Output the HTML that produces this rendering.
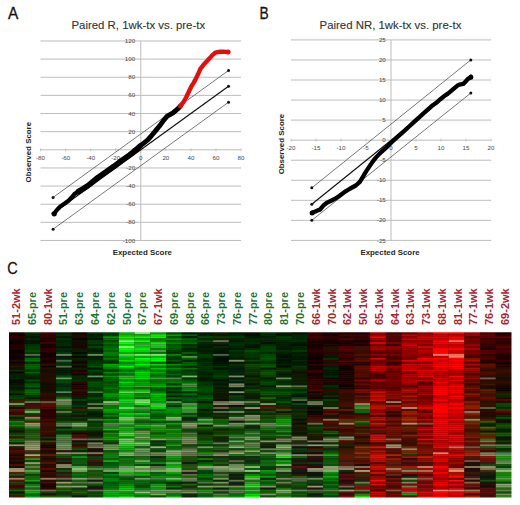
<!DOCTYPE html><html><head><meta charset="utf-8"><style>html,body{margin:0;padding:0;background:#fff;width:520px;height:505px;overflow:hidden}svg{display:block}text{font-family:"Liberation Sans",sans-serif}</style></head><body>
<svg width="520" height="505" viewBox="0 0 520 505">
<rect width="520" height="505" fill="#fff"/>
<g>
<line x1="40.5" y1="40.98" x2="241" y2="40.98" stroke="#bdbdbd" stroke-width="1"/>
<line x1="40.5" y1="59.12" x2="241" y2="59.12" stroke="#bdbdbd" stroke-width="1"/>
<line x1="40.5" y1="77.26" x2="241" y2="77.26" stroke="#bdbdbd" stroke-width="1"/>
<line x1="40.5" y1="95.39" x2="241" y2="95.39" stroke="#bdbdbd" stroke-width="1"/>
<line x1="40.5" y1="113.53" x2="241" y2="113.53" stroke="#bdbdbd" stroke-width="1"/>
<line x1="40.5" y1="131.66" x2="241" y2="131.66" stroke="#bdbdbd" stroke-width="1"/>
<line x1="40.5" y1="149.80" x2="241" y2="149.80" stroke="#bdbdbd" stroke-width="1"/>
<line x1="40.5" y1="167.94" x2="241" y2="167.94" stroke="#bdbdbd" stroke-width="1"/>
<line x1="40.5" y1="186.07" x2="241" y2="186.07" stroke="#bdbdbd" stroke-width="1"/>
<line x1="40.5" y1="204.21" x2="241" y2="204.21" stroke="#bdbdbd" stroke-width="1"/>
<line x1="40.5" y1="222.34" x2="241" y2="222.34" stroke="#bdbdbd" stroke-width="1"/>
<line x1="40.5" y1="240.48" x2="241" y2="240.48" stroke="#bdbdbd" stroke-width="1"/>
<line x1="140.80" y1="40.98" x2="140.80" y2="240.48" stroke="#bdbdbd" stroke-width="1"/>
<line x1="40.55" y1="148.30" x2="40.55" y2="151.30" stroke="#bdbdbd" stroke-width="0.8"/>
<text x="40.55" y="160.10" font-size="6.2" fill="#474747" text-anchor="middle">-80</text>
<line x1="65.61" y1="148.30" x2="65.61" y2="151.30" stroke="#bdbdbd" stroke-width="0.8"/>
<text x="65.61" y="160.10" font-size="6.2" fill="#474747" text-anchor="middle">-60</text>
<line x1="90.68" y1="148.30" x2="90.68" y2="151.30" stroke="#bdbdbd" stroke-width="0.8"/>
<text x="90.68" y="160.10" font-size="6.2" fill="#474747" text-anchor="middle">-40</text>
<line x1="115.74" y1="148.30" x2="115.74" y2="151.30" stroke="#bdbdbd" stroke-width="0.8"/>
<text x="115.74" y="160.10" font-size="6.2" fill="#474747" text-anchor="middle">-20</text>
<line x1="140.80" y1="148.30" x2="140.80" y2="151.30" stroke="#bdbdbd" stroke-width="0.8"/>
<text x="140.80" y="160.10" font-size="6.2" fill="#474747" text-anchor="middle">0</text>
<line x1="165.86" y1="148.30" x2="165.86" y2="151.30" stroke="#bdbdbd" stroke-width="0.8"/>
<text x="165.86" y="160.10" font-size="6.2" fill="#474747" text-anchor="middle">20</text>
<line x1="190.92" y1="148.30" x2="190.92" y2="151.30" stroke="#bdbdbd" stroke-width="0.8"/>
<text x="190.92" y="160.10" font-size="6.2" fill="#474747" text-anchor="middle">40</text>
<line x1="215.99" y1="148.30" x2="215.99" y2="151.30" stroke="#bdbdbd" stroke-width="0.8"/>
<text x="215.99" y="160.10" font-size="6.2" fill="#474747" text-anchor="middle">60</text>
<line x1="241.05" y1="148.30" x2="241.05" y2="151.30" stroke="#bdbdbd" stroke-width="0.8"/>
<text x="241.05" y="160.10" font-size="6.2" fill="#474747" text-anchor="middle">80</text>
<text x="135.2" y="43.08" font-size="6.2" fill="#474747" text-anchor="end">120</text>
<text x="135.2" y="61.22" font-size="6.2" fill="#474747" text-anchor="end">100</text>
<text x="135.2" y="79.36" font-size="6.2" fill="#474747" text-anchor="end">80</text>
<text x="135.2" y="97.49" font-size="6.2" fill="#474747" text-anchor="end">60</text>
<text x="135.2" y="115.63" font-size="6.2" fill="#474747" text-anchor="end">40</text>
<text x="135.2" y="133.76" font-size="6.2" fill="#474747" text-anchor="end">20</text>
<text x="135.2" y="151.90" font-size="6.2" fill="#474747" text-anchor="end">0</text>
<text x="135.2" y="170.04" font-size="6.2" fill="#474747" text-anchor="end">-20</text>
<text x="135.2" y="188.17" font-size="6.2" fill="#474747" text-anchor="end">-40</text>
<text x="135.2" y="206.31" font-size="6.2" fill="#474747" text-anchor="end">-60</text>
<text x="135.2" y="224.44" font-size="6.2" fill="#474747" text-anchor="end">-80</text>
<text x="135.2" y="242.58" font-size="6.2" fill="#474747" text-anchor="end">-100</text>
<text x="138.3" y="29.2" font-size="11.4" fill="#333" stroke="#333" stroke-width="0.12" text-anchor="middle">Paired R, 1wk-tx vs. pre-tx</text>
<text x="142.3" y="255.2" font-size="7.9" font-weight="bold" fill="#262626" text-anchor="middle">Expected Score</text>
<text transform="translate(30.6,152.2) rotate(-90)" x="0" y="0" font-size="7.9" font-weight="bold" fill="#262626" text-anchor="middle">Observed Score</text>
<line x1="53.08" y1="197.41" x2="228.52" y2="70.46" stroke="#555" stroke-width="0.8"/>
<circle cx="53.08" cy="197.41" r="1.5" fill="#111"/><circle cx="228.52" cy="70.46" r="1.5" fill="#111"/>
<line x1="53.08" y1="213.28" x2="228.52" y2="86.32" stroke="#111" stroke-width="1.2"/>
<circle cx="53.08" cy="213.28" r="1.5" fill="#111"/><circle cx="228.52" cy="86.32" r="1.5" fill="#111"/>
<line x1="53.08" y1="229.15" x2="228.52" y2="102.19" stroke="#555" stroke-width="0.8"/>
<circle cx="53.08" cy="229.15" r="1.5" fill="#111"/><circle cx="228.52" cy="102.19" r="1.5" fill="#111"/>
<polyline points="54.0,213.7 57.1,209.7 60.3,206.5 64.3,203.8 68.2,201.0 71.4,197.8 74.6,193.9 78.5,191.5" fill="none" stroke="#000" stroke-width="4.2" stroke-linejoin="round" stroke-linecap="round"/>
<polyline points="78.5,191.5 83.3,188.7 88.0,185.7 97.9,177.5 105.8,172.0 113.8,166.4 121.7,160.5 129.6,155.0 135.1,150.6 139.9,146.2" fill="none" stroke="#000" stroke-width="5.6" stroke-linejoin="round" stroke-linecap="round"/>
<polyline points="139.9,146.2 143.8,143.1 147.8,139.9 151.8,135.3 155.7,130.6 159.7,125.8 163.6,120.3 167.2,116.2 170.5,114.3 173.3,112.7 176.0,110.3 178.5,108.2 180.8,105.6" fill="none" stroke="#000" stroke-width="4.9" stroke-linejoin="round" stroke-linecap="round"/>
<circle cx="54.2" cy="213.8" r="2.6" fill="#000"/>
<polyline points="180.3,106.2 183.4,102.2 186.1,97.5 188.8,91.8 191.3,86.5 193.6,82.8 195.8,78.9 198.0,74.3 200.4,68.8 203.5,64.8 206.6,61.5 209.8,58.1 212.6,54.9 215.3,52.7 219.3,51.8 223.3,51.6 228.0,52.1" fill="none" stroke="#e01010" stroke-width="4.4" stroke-linejoin="round" stroke-linecap="round"/>
<circle cx="228.1" cy="52.1" r="2.5" fill="#e01010"/>
</g>
<text transform="translate(7.9,19.4) scale(0.92,1)" font-size="16.8" fill="#111" stroke="#111" stroke-width="0.3">A</text>
<text transform="translate(259.6,18.9) scale(0.8,1)" font-size="17.2" fill="#111" stroke="#111" stroke-width="0.3">B</text>
<line x1="291" y1="39.90" x2="491.2" y2="39.90" stroke="#bdbdbd" stroke-width="1"/>
<line x1="291" y1="59.95" x2="491.2" y2="59.95" stroke="#bdbdbd" stroke-width="1"/>
<line x1="291" y1="80.00" x2="491.2" y2="80.00" stroke="#bdbdbd" stroke-width="1"/>
<line x1="291" y1="100.05" x2="491.2" y2="100.05" stroke="#bdbdbd" stroke-width="1"/>
<line x1="291" y1="120.10" x2="491.2" y2="120.10" stroke="#bdbdbd" stroke-width="1"/>
<line x1="291" y1="140.15" x2="491.2" y2="140.15" stroke="#bdbdbd" stroke-width="1"/>
<line x1="291" y1="160.20" x2="491.2" y2="160.20" stroke="#bdbdbd" stroke-width="1"/>
<line x1="291" y1="180.25" x2="491.2" y2="180.25" stroke="#bdbdbd" stroke-width="1"/>
<line x1="291" y1="200.30" x2="491.2" y2="200.30" stroke="#bdbdbd" stroke-width="1"/>
<line x1="291" y1="220.35" x2="491.2" y2="220.35" stroke="#bdbdbd" stroke-width="1"/>
<line x1="291" y1="240.40" x2="491.2" y2="240.40" stroke="#bdbdbd" stroke-width="1"/>
<line x1="391.00" y1="39.90" x2="391.00" y2="240.40" stroke="#bdbdbd" stroke-width="1"/>
<line x1="291.00" y1="138.65" x2="291.00" y2="141.65" stroke="#bdbdbd" stroke-width="0.8"/>
<text x="291.00" y="150.45" font-size="6.2" fill="#474747" text-anchor="middle">-20</text>
<line x1="316.00" y1="138.65" x2="316.00" y2="141.65" stroke="#bdbdbd" stroke-width="0.8"/>
<text x="316.00" y="150.45" font-size="6.2" fill="#474747" text-anchor="middle">-15</text>
<line x1="341.00" y1="138.65" x2="341.00" y2="141.65" stroke="#bdbdbd" stroke-width="0.8"/>
<text x="341.00" y="150.45" font-size="6.2" fill="#474747" text-anchor="middle">-10</text>
<line x1="366.00" y1="138.65" x2="366.00" y2="141.65" stroke="#bdbdbd" stroke-width="0.8"/>
<text x="366.00" y="150.45" font-size="6.2" fill="#474747" text-anchor="middle">-5</text>
<line x1="391.00" y1="138.65" x2="391.00" y2="141.65" stroke="#bdbdbd" stroke-width="0.8"/>
<text x="391.00" y="150.45" font-size="6.2" fill="#474747" text-anchor="middle">0</text>
<line x1="416.00" y1="138.65" x2="416.00" y2="141.65" stroke="#bdbdbd" stroke-width="0.8"/>
<text x="416.00" y="150.45" font-size="6.2" fill="#474747" text-anchor="middle">5</text>
<line x1="441.00" y1="138.65" x2="441.00" y2="141.65" stroke="#bdbdbd" stroke-width="0.8"/>
<text x="441.00" y="150.45" font-size="6.2" fill="#474747" text-anchor="middle">10</text>
<line x1="466.00" y1="138.65" x2="466.00" y2="141.65" stroke="#bdbdbd" stroke-width="0.8"/>
<text x="466.00" y="150.45" font-size="6.2" fill="#474747" text-anchor="middle">15</text>
<line x1="491.00" y1="138.65" x2="491.00" y2="141.65" stroke="#bdbdbd" stroke-width="0.8"/>
<text x="491.00" y="150.45" font-size="6.2" fill="#474747" text-anchor="middle">20</text>
<text x="385.8" y="42.00" font-size="6.2" fill="#474747" text-anchor="end">25</text>
<text x="385.8" y="62.05" font-size="6.2" fill="#474747" text-anchor="end">20</text>
<text x="385.8" y="82.10" font-size="6.2" fill="#474747" text-anchor="end">15</text>
<text x="385.8" y="102.15" font-size="6.2" fill="#474747" text-anchor="end">10</text>
<text x="385.8" y="122.20" font-size="6.2" fill="#474747" text-anchor="end">5</text>
<text x="385.8" y="142.25" font-size="6.2" fill="#474747" text-anchor="end">0</text>
<text x="385.8" y="162.30" font-size="6.2" fill="#474747" text-anchor="end">-5</text>
<text x="385.8" y="182.35" font-size="6.2" fill="#474747" text-anchor="end">-10</text>
<text x="385.8" y="202.40" font-size="6.2" fill="#474747" text-anchor="end">-15</text>
<text x="385.8" y="222.45" font-size="6.2" fill="#474747" text-anchor="end">-20</text>
<text x="385.8" y="242.50" font-size="6.2" fill="#474747" text-anchor="end">-25</text>
<text x="390.5" y="28.8" font-size="11.4" fill="#333" stroke="#333" stroke-width="0.12" text-anchor="middle">Paired NR, 1wk-tx vs. pre-tx</text>
<text x="390" y="254.5" font-size="7.9" font-weight="bold" fill="#262626" text-anchor="middle">Expected Score</text>
<text transform="translate(284.3,144.1) rotate(-90)" x="0" y="0" font-size="7.9" font-weight="bold" fill="#262626" text-anchor="middle">Observed Score</text>
<line x1="311.80" y1="187.87" x2="470.80" y2="59.95" stroke="#555" stroke-width="0.8"/>
<circle cx="311.80" cy="187.87" r="1.5" fill="#111"/><circle cx="470.80" cy="59.95" r="1.5" fill="#111"/>
<line x1="311.80" y1="204.31" x2="470.80" y2="75.99" stroke="#111" stroke-width="1.2"/>
<circle cx="311.80" cy="204.31" r="1.5" fill="#111"/><circle cx="470.80" cy="75.99" r="1.5" fill="#111"/>
<line x1="311.80" y1="220.35" x2="470.80" y2="93.03" stroke="#555" stroke-width="0.8"/>
<circle cx="311.80" cy="220.35" r="1.5" fill="#111"/><circle cx="470.80" cy="93.03" r="1.5" fill="#111"/>
<polyline points="312.1,212.7 315.3,211.5 317.7,210.3 320.0,209.7 321.6,207.7 324.0,204.9 327.2,202.6 331.1,200.7 335.1,198.7 339.9,195.5 344.7,191.9 350.3,188.5 355.8,185.5 359.8,181.9 363.0,176.6 366.1,171.4 369.3,166.6 372.5,161.9 375.6,157.9 379.6,153.6 385.9,147.9 391.9,142.0 397.8,136.6 403.8,131.3 409.1,126.5 415.8,120.3 423.8,113.2 431.7,106.1 436.0,103.1 440.0,99.5 443.9,96.3 447.9,93.6 451.8,90.4 455.0,87.6 457.8,85.3 460.6,84.3 463.3,83.9 465.7,81.5 467.7,79.1 469.7,77.9 470.9,76.9" fill="none" stroke="#000" stroke-width="4.3" stroke-linejoin="round" stroke-linecap="round"/>
<circle cx="312.1" cy="212.9" r="2.5" fill="#000"/><circle cx="470.8" cy="77.2" r="2.5" fill="#000"/>
<text transform="translate(7.2,273.7) scale(0.83,1)" font-size="17.4" fill="#111" stroke="#111" stroke-width="0.3">C</text>
<text transform="translate(20.15,325) rotate(-90)" font-size="11" font-weight="bold" fill="#a8252e">51-2wk</text>
<text transform="translate(35.92,325) rotate(-90)" font-size="11" font-weight="bold" fill="#1f7331">65-pre</text>
<text transform="translate(51.69,325) rotate(-90)" font-size="11" font-weight="bold" fill="#a8252e">80-1wk</text>
<text transform="translate(67.45,325) rotate(-90)" font-size="11" font-weight="bold" fill="#1f7331">51-pre</text>
<text transform="translate(83.22,325) rotate(-90)" font-size="11" font-weight="bold" fill="#1f7331">63-pre</text>
<text transform="translate(98.99,325) rotate(-90)" font-size="11" font-weight="bold" fill="#1f7331">64-pre</text>
<text transform="translate(114.76,325) rotate(-90)" font-size="11" font-weight="bold" fill="#1f7331">62-pre</text>
<text transform="translate(130.53,325) rotate(-90)" font-size="11" font-weight="bold" fill="#1f7331">50-pre</text>
<text transform="translate(146.29,325) rotate(-90)" font-size="11" font-weight="bold" fill="#1f7331">67-pre</text>
<text transform="translate(162.06,325) rotate(-90)" font-size="11" font-weight="bold" fill="#a8252e">67-1wk</text>
<text transform="translate(177.83,325) rotate(-90)" font-size="11" font-weight="bold" fill="#1f7331">69-pre</text>
<text transform="translate(193.60,325) rotate(-90)" font-size="11" font-weight="bold" fill="#1f7331">68-pre</text>
<text transform="translate(209.36,325) rotate(-90)" font-size="11" font-weight="bold" fill="#1f7331">66-pre</text>
<text transform="translate(225.13,325) rotate(-90)" font-size="11" font-weight="bold" fill="#1f7331">73-pre</text>
<text transform="translate(240.90,325) rotate(-90)" font-size="11" font-weight="bold" fill="#1f7331">76-pre</text>
<text transform="translate(256.67,325) rotate(-90)" font-size="11" font-weight="bold" fill="#1f7331">77-pre</text>
<text transform="translate(272.43,325) rotate(-90)" font-size="11" font-weight="bold" fill="#1f7331">80-pre</text>
<text transform="translate(288.20,325) rotate(-90)" font-size="11" font-weight="bold" fill="#1f7331">81-pre</text>
<text transform="translate(303.97,325) rotate(-90)" font-size="11" font-weight="bold" fill="#1f7331">70-pre</text>
<text transform="translate(319.74,325) rotate(-90)" font-size="11" font-weight="bold" fill="#a8252e">66-1wk</text>
<text transform="translate(335.50,325) rotate(-90)" font-size="11" font-weight="bold" fill="#a8252e">70-1wk</text>
<text transform="translate(351.27,325) rotate(-90)" font-size="11" font-weight="bold" fill="#a8252e">62-1wk</text>
<text transform="translate(367.04,325) rotate(-90)" font-size="11" font-weight="bold" fill="#a8252e">50-1wk</text>
<text transform="translate(382.81,325) rotate(-90)" font-size="11" font-weight="bold" fill="#a8252e">65-1wk</text>
<text transform="translate(398.57,325) rotate(-90)" font-size="11" font-weight="bold" fill="#a8252e">64-1wk</text>
<text transform="translate(414.34,325) rotate(-90)" font-size="11" font-weight="bold" fill="#a8252e">63-1wk</text>
<text transform="translate(430.11,325) rotate(-90)" font-size="11" font-weight="bold" fill="#a8252e">73-1wk</text>
<text transform="translate(445.88,325) rotate(-90)" font-size="11" font-weight="bold" fill="#a8252e">68-1wk</text>
<text transform="translate(461.65,325) rotate(-90)" font-size="11" font-weight="bold" fill="#a8252e">81-1wk</text>
<text transform="translate(477.41,325) rotate(-90)" font-size="11" font-weight="bold" fill="#a8252e">77-1wk</text>
<text transform="translate(493.18,325) rotate(-90)" font-size="11" font-weight="bold" fill="#a8252e">76-1wk</text>
<text transform="translate(508.95,325) rotate(-90)" font-size="11" font-weight="bold" fill="#a8252e">69-2wk</text>
<defs><filter id="hb" x="-2%" y="-2%" width="104%" height="104%"><feGaussianBlur stdDeviation="0.35 0.45"/></filter><clipPath id="hc"><rect x="9" y="332.30" width="502.50" height="165.20"/></clipPath></defs>
<g clip-path="url(#hc)"><g filter="url(#hb)">
<rect x="7" y="330.30" width="506.50" height="169.20" fill="#201808"/>
<rect x="7.00" y="330.30" width="17.75" height="4.02" fill="#220103"/>
<rect x="7.00" y="334.27" width="17.75" height="2.02" fill="#170103"/>
<rect x="7.00" y="336.23" width="17.75" height="2.02" fill="#2e0103"/>
<rect x="7.00" y="338.20" width="17.75" height="2.02" fill="#270103"/>
<rect x="7.00" y="340.17" width="17.75" height="2.02" fill="#170103"/>
<rect x="7.00" y="342.13" width="17.75" height="2.02" fill="#0d0103"/>
<rect x="7.00" y="344.10" width="17.75" height="2.02" fill="#230203"/>
<rect x="7.00" y="346.07" width="17.75" height="2.02" fill="#230203"/>
<rect x="7.00" y="348.03" width="17.75" height="2.02" fill="#270303"/>
<rect x="7.00" y="350.00" width="17.75" height="2.02" fill="#0b0103"/>
<rect x="7.00" y="351.97" width="17.75" height="2.02" fill="#0f0203"/>
<rect x="7.00" y="353.93" width="17.75" height="2.02" fill="#1b0303"/>
<rect x="7.00" y="355.90" width="17.75" height="2.02" fill="#090203"/>
<rect x="7.00" y="357.87" width="17.75" height="2.02" fill="#110403"/>
<rect x="7.00" y="359.83" width="17.75" height="2.02" fill="#1f0803"/>
<rect x="7.00" y="361.80" width="17.75" height="2.02" fill="#100603"/>
<rect x="7.00" y="363.77" width="17.75" height="2.02" fill="#190a03"/>
<rect x="7.00" y="365.73" width="17.75" height="2.02" fill="#281303"/>
<rect x="7.00" y="367.70" width="17.75" height="2.02" fill="#120a03"/>
<rect x="7.00" y="369.67" width="17.75" height="2.02" fill="#043203"/>
<rect x="7.00" y="371.63" width="17.75" height="2.02" fill="#110303"/>
<rect x="7.00" y="373.60" width="17.75" height="2.02" fill="#042103"/>
<rect x="7.00" y="375.57" width="17.75" height="2.02" fill="#042103"/>
<rect x="7.00" y="377.53" width="17.75" height="2.02" fill="#042604"/>
<rect x="7.00" y="379.50" width="17.75" height="2.02" fill="#031104"/>
<rect x="7.00" y="381.47" width="17.75" height="2.02" fill="#031104"/>
<rect x="7.00" y="383.43" width="17.75" height="2.02" fill="#141104"/>
<rect x="7.00" y="385.40" width="17.75" height="2.02" fill="#032304"/>
<rect x="7.00" y="387.37" width="17.75" height="2.02" fill="#031504"/>
<rect x="7.00" y="389.33" width="17.75" height="2.02" fill="#102404"/>
<rect x="7.00" y="391.30" width="17.75" height="2.02" fill="#043b04"/>
<rect x="7.00" y="393.27" width="17.75" height="2.02" fill="#041904"/>
<rect x="7.00" y="395.23" width="17.75" height="2.02" fill="#053804"/>
<rect x="7.00" y="397.20" width="17.75" height="2.02" fill="#064604"/>
<rect x="7.00" y="399.17" width="17.75" height="2.02" fill="#530705"/>
<rect x="7.00" y="401.13" width="17.75" height="2.02" fill="#073e05"/>
<rect x="7.00" y="403.10" width="17.75" height="2.02" fill="#938967"/>
<rect x="7.00" y="405.07" width="17.75" height="2.02" fill="#0f3c05"/>
<rect x="7.00" y="407.03" width="17.75" height="2.02" fill="#310605"/>
<rect x="7.00" y="409.00" width="17.75" height="2.02" fill="#491a05"/>
<rect x="7.00" y="410.97" width="17.75" height="2.02" fill="#4a0705"/>
<rect x="7.00" y="412.93" width="17.75" height="2.02" fill="#350705"/>
<rect x="7.00" y="414.90" width="17.75" height="2.02" fill="#085105"/>
<rect x="7.00" y="416.87" width="17.75" height="2.02" fill="#1a1905"/>
<rect x="7.00" y="418.83" width="17.75" height="2.02" fill="#083705"/>
<rect x="7.00" y="420.80" width="17.75" height="2.02" fill="#088705"/>
<rect x="7.00" y="422.77" width="17.75" height="2.02" fill="#086105"/>
<rect x="7.00" y="424.73" width="17.75" height="2.02" fill="#088505"/>
<rect x="7.00" y="426.70" width="17.75" height="2.02" fill="#2c3705"/>
<rect x="7.00" y="428.67" width="17.75" height="2.02" fill="#0e3305"/>
<rect x="7.00" y="430.63" width="17.75" height="2.02" fill="#081905"/>
<rect x="7.00" y="432.60" width="17.75" height="2.02" fill="#083c05"/>
<rect x="7.00" y="434.57" width="17.75" height="2.02" fill="#086005"/>
<rect x="7.00" y="436.53" width="17.75" height="2.02" fill="#440805"/>
<rect x="7.00" y="438.50" width="17.75" height="2.02" fill="#087005"/>
<rect x="7.00" y="440.47" width="17.75" height="2.02" fill="#087205"/>
<rect x="7.00" y="442.43" width="17.75" height="2.02" fill="#132405"/>
<rect x="7.00" y="444.40" width="17.75" height="2.02" fill="#9e8d6e"/>
<rect x="7.00" y="446.37" width="17.75" height="2.02" fill="#092505"/>
<rect x="7.00" y="448.33" width="17.75" height="2.02" fill="#3d0605"/>
<rect x="7.00" y="450.30" width="17.75" height="2.02" fill="#620605"/>
<rect x="7.00" y="452.27" width="17.75" height="2.02" fill="#460605"/>
<rect x="7.00" y="454.23" width="17.75" height="2.02" fill="#200505"/>
<rect x="7.00" y="456.20" width="17.75" height="2.02" fill="#3b0605"/>
<rect x="7.00" y="458.17" width="17.75" height="2.02" fill="#160e05"/>
<rect x="7.00" y="460.13" width="17.75" height="2.02" fill="#340605"/>
<rect x="7.00" y="462.10" width="17.75" height="2.02" fill="#0c1006"/>
<rect x="7.00" y="464.07" width="17.75" height="2.02" fill="#530706"/>
<rect x="7.00" y="466.03" width="17.75" height="2.02" fill="#190d06"/>
<rect x="7.00" y="468.00" width="17.75" height="2.02" fill="#959169"/>
<rect x="7.00" y="469.97" width="17.75" height="2.02" fill="#a6976f"/>
<rect x="7.00" y="471.93" width="17.75" height="2.02" fill="#601507"/>
<rect x="7.00" y="473.90" width="17.75" height="2.02" fill="#095d07"/>
<rect x="7.00" y="475.87" width="17.75" height="2.02" fill="#410907"/>
<rect x="7.00" y="477.83" width="17.75" height="2.02" fill="#8e875f"/>
<rect x="7.00" y="479.80" width="17.75" height="2.02" fill="#610907"/>
<rect x="7.00" y="481.77" width="17.75" height="2.02" fill="#094d07"/>
<rect x="7.00" y="483.73" width="17.75" height="2.02" fill="#540807"/>
<rect x="7.00" y="485.70" width="17.75" height="2.02" fill="#280806"/>
<rect x="7.00" y="487.67" width="17.75" height="2.02" fill="#2c2406"/>
<rect x="7.00" y="489.63" width="17.75" height="2.02" fill="#086606"/>
<rect x="7.00" y="491.60" width="17.75" height="2.02" fill="#1f0806"/>
<rect x="7.00" y="493.57" width="17.75" height="2.02" fill="#084406"/>
<rect x="7.00" y="495.53" width="17.75" height="4.02" fill="#560806"/>
<rect x="24.70" y="330.30" width="15.75" height="4.02" fill="#013504"/>
<rect x="24.70" y="334.27" width="15.75" height="2.02" fill="#012604"/>
<rect x="24.70" y="336.23" width="15.75" height="2.02" fill="#011804"/>
<rect x="24.70" y="338.20" width="15.75" height="2.02" fill="#012b04"/>
<rect x="24.70" y="340.17" width="15.75" height="2.02" fill="#011604"/>
<rect x="24.70" y="342.13" width="15.75" height="2.02" fill="#011905"/>
<rect x="24.70" y="344.10" width="15.75" height="2.02" fill="#023005"/>
<rect x="24.70" y="346.07" width="15.75" height="2.02" fill="#023b05"/>
<rect x="24.70" y="348.03" width="15.75" height="2.02" fill="#033b06"/>
<rect x="24.70" y="350.00" width="15.75" height="2.02" fill="#034c06"/>
<rect x="24.70" y="351.97" width="15.75" height="2.02" fill="#043406"/>
<rect x="24.70" y="353.93" width="15.75" height="2.02" fill="#526942"/>
<rect x="24.70" y="355.90" width="15.75" height="2.02" fill="#042b07"/>
<rect x="24.70" y="357.87" width="15.75" height="2.02" fill="#046907"/>
<rect x="24.70" y="359.83" width="15.75" height="2.02" fill="#047707"/>
<rect x="24.70" y="361.80" width="15.75" height="2.02" fill="#042106"/>
<rect x="24.70" y="363.77" width="15.75" height="2.02" fill="#036206"/>
<rect x="24.70" y="365.73" width="15.75" height="2.02" fill="#036906"/>
<rect x="24.70" y="367.70" width="15.75" height="2.02" fill="#035b05"/>
<rect x="24.70" y="369.67" width="15.75" height="2.02" fill="#033505"/>
<rect x="24.70" y="371.63" width="15.75" height="2.02" fill="#026205"/>
<rect x="24.70" y="373.60" width="15.75" height="2.02" fill="#022d05"/>
<rect x="24.70" y="375.57" width="15.75" height="2.02" fill="#022505"/>
<rect x="24.70" y="377.53" width="15.75" height="2.02" fill="#021f05"/>
<rect x="24.70" y="379.50" width="15.75" height="2.02" fill="#034b05"/>
<rect x="24.70" y="381.47" width="15.75" height="2.02" fill="#032a05"/>
<rect x="24.70" y="383.43" width="15.75" height="2.02" fill="#035405"/>
<rect x="24.70" y="385.40" width="15.75" height="2.02" fill="#035f05"/>
<rect x="24.70" y="387.37" width="15.75" height="2.02" fill="#032b05"/>
<rect x="24.70" y="389.33" width="15.75" height="2.02" fill="#036906"/>
<rect x="24.70" y="391.30" width="15.75" height="2.02" fill="#086c06"/>
<rect x="24.70" y="393.27" width="15.75" height="2.02" fill="#0c5906"/>
<rect x="24.70" y="395.23" width="15.75" height="2.02" fill="#0b3606"/>
<rect x="24.70" y="397.20" width="15.75" height="2.02" fill="#091f06"/>
<rect x="24.70" y="399.17" width="15.75" height="2.02" fill="#133b06"/>
<rect x="24.70" y="401.13" width="15.75" height="2.02" fill="#68704e"/>
<rect x="24.70" y="403.10" width="15.75" height="2.02" fill="#3f0b07"/>
<rect x="24.70" y="405.07" width="15.75" height="2.02" fill="#480b07"/>
<rect x="24.70" y="407.03" width="15.75" height="2.02" fill="#3d1507"/>
<rect x="24.70" y="409.00" width="15.75" height="2.02" fill="#087e07"/>
<rect x="24.70" y="410.97" width="15.75" height="2.02" fill="#8da16e"/>
<rect x="24.70" y="412.93" width="15.75" height="2.02" fill="#084708"/>
<rect x="24.70" y="414.90" width="15.75" height="2.02" fill="#570c08"/>
<rect x="24.70" y="416.87" width="15.75" height="2.02" fill="#848e66"/>
<rect x="24.70" y="418.83" width="15.75" height="2.02" fill="#097608"/>
<rect x="24.70" y="420.80" width="15.75" height="2.02" fill="#640d08"/>
<rect x="24.70" y="422.77" width="15.75" height="2.02" fill="#80a765"/>
<rect x="24.70" y="424.73" width="15.75" height="2.02" fill="#8b8e66"/>
<rect x="24.70" y="426.70" width="15.75" height="2.02" fill="#099809"/>
<rect x="24.70" y="428.67" width="15.75" height="2.02" fill="#205109"/>
<rect x="24.70" y="430.63" width="15.75" height="2.02" fill="#1d4a09"/>
<rect x="24.70" y="432.60" width="15.75" height="2.02" fill="#205809"/>
<rect x="24.70" y="434.57" width="15.75" height="2.02" fill="#246a09"/>
<rect x="24.70" y="436.53" width="15.75" height="2.02" fill="#206609"/>
<rect x="24.70" y="438.50" width="15.75" height="2.02" fill="#1c5e09"/>
<rect x="24.70" y="440.47" width="15.75" height="2.02" fill="#7b8157"/>
<rect x="24.70" y="442.43" width="15.75" height="2.02" fill="#6b8755"/>
<rect x="24.70" y="444.40" width="15.75" height="2.02" fill="#959d73"/>
<rect x="24.70" y="446.37" width="15.75" height="2.02" fill="#8c9e6b"/>
<rect x="24.70" y="448.33" width="15.75" height="2.02" fill="#8aa972"/>
<rect x="24.70" y="450.30" width="15.75" height="2.02" fill="#76120e"/>
<rect x="24.70" y="452.27" width="15.75" height="2.02" fill="#0f420f"/>
<rect x="24.70" y="454.23" width="15.75" height="2.02" fill="#a3ac70"/>
<rect x="24.70" y="456.20" width="15.75" height="2.02" fill="#881510"/>
<rect x="24.70" y="458.17" width="15.75" height="2.02" fill="#0fa20f"/>
<rect x="24.70" y="460.13" width="15.75" height="2.02" fill="#1e3f0f"/>
<rect x="24.70" y="462.10" width="15.75" height="2.02" fill="#84a267"/>
<rect x="24.70" y="464.07" width="15.75" height="2.02" fill="#25620e"/>
<rect x="24.70" y="466.03" width="15.75" height="2.02" fill="#6a744d"/>
<rect x="24.70" y="468.00" width="15.75" height="2.02" fill="#1f5e0d"/>
<rect x="24.70" y="469.97" width="15.75" height="2.02" fill="#639752"/>
<rect x="24.70" y="471.93" width="15.75" height="2.02" fill="#207e0c"/>
<rect x="24.70" y="473.90" width="15.75" height="2.02" fill="#113e0b"/>
<rect x="24.70" y="475.87" width="15.75" height="2.02" fill="#156a0b"/>
<rect x="24.70" y="477.83" width="15.75" height="2.02" fill="#12670a"/>
<rect x="24.70" y="479.80" width="15.75" height="2.02" fill="#14a10a"/>
<rect x="24.70" y="481.77" width="15.75" height="2.02" fill="#0a320a"/>
<rect x="24.70" y="483.73" width="15.75" height="2.02" fill="#0b7a09"/>
<rect x="24.70" y="485.70" width="15.75" height="2.02" fill="#528c49"/>
<rect x="24.70" y="487.67" width="15.75" height="2.02" fill="#076c09"/>
<rect x="24.70" y="489.63" width="15.75" height="2.02" fill="#639653"/>
<rect x="24.70" y="491.60" width="15.75" height="2.02" fill="#06b109"/>
<rect x="24.70" y="493.57" width="15.75" height="2.02" fill="#066509"/>
<rect x="24.70" y="495.53" width="15.75" height="4.02" fill="#069309"/>
<rect x="40.41" y="330.30" width="15.75" height="4.02" fill="#4c0103"/>
<rect x="40.41" y="334.27" width="15.75" height="2.02" fill="#380103"/>
<rect x="40.41" y="336.23" width="15.75" height="2.02" fill="#390103"/>
<rect x="40.41" y="338.20" width="15.75" height="2.02" fill="#290103"/>
<rect x="40.41" y="340.17" width="15.75" height="2.02" fill="#1d0103"/>
<rect x="40.41" y="342.13" width="15.75" height="2.02" fill="#470103"/>
<rect x="40.41" y="344.10" width="15.75" height="2.02" fill="#1e0103"/>
<rect x="40.41" y="346.07" width="15.75" height="2.02" fill="#160103"/>
<rect x="40.41" y="348.03" width="15.75" height="2.02" fill="#310203"/>
<rect x="40.41" y="350.00" width="15.75" height="2.02" fill="#360303"/>
<rect x="40.41" y="351.97" width="15.75" height="2.02" fill="#120203"/>
<rect x="40.41" y="353.93" width="15.75" height="2.02" fill="#180203"/>
<rect x="40.41" y="355.90" width="15.75" height="2.02" fill="#150203"/>
<rect x="40.41" y="357.87" width="15.75" height="2.02" fill="#280503"/>
<rect x="40.41" y="359.83" width="15.75" height="2.02" fill="#170403"/>
<rect x="40.41" y="361.80" width="15.75" height="2.02" fill="#140503"/>
<rect x="40.41" y="363.77" width="15.75" height="2.02" fill="#2c0b03"/>
<rect x="40.41" y="365.73" width="15.75" height="2.02" fill="#0c0403"/>
<rect x="40.41" y="367.70" width="15.75" height="2.02" fill="#230c03"/>
<rect x="40.41" y="369.67" width="15.75" height="2.02" fill="#1e0b03"/>
<rect x="40.41" y="371.63" width="15.75" height="2.02" fill="#1d0c03"/>
<rect x="40.41" y="373.60" width="15.75" height="2.02" fill="#240f03"/>
<rect x="40.41" y="375.57" width="15.75" height="2.02" fill="#1d0c03"/>
<rect x="40.41" y="377.53" width="15.75" height="2.02" fill="#261003"/>
<rect x="40.41" y="379.50" width="15.75" height="2.02" fill="#230f03"/>
<rect x="40.41" y="381.47" width="15.75" height="2.02" fill="#1d0c03"/>
<rect x="40.41" y="383.43" width="15.75" height="2.02" fill="#100703"/>
<rect x="40.41" y="385.40" width="15.75" height="2.02" fill="#150903"/>
<rect x="40.41" y="387.37" width="15.75" height="2.02" fill="#190b03"/>
<rect x="40.41" y="389.33" width="15.75" height="2.02" fill="#100703"/>
<rect x="40.41" y="391.30" width="15.75" height="2.02" fill="#210b03"/>
<rect x="40.41" y="393.27" width="15.75" height="2.02" fill="#360f04"/>
<rect x="40.41" y="395.23" width="15.75" height="2.02" fill="#2b0a04"/>
<rect x="40.41" y="397.20" width="15.75" height="2.02" fill="#200704"/>
<rect x="40.41" y="399.17" width="15.75" height="2.02" fill="#310804"/>
<rect x="40.41" y="401.13" width="15.75" height="2.02" fill="#5f5c46"/>
<rect x="40.41" y="403.10" width="15.75" height="2.02" fill="#610a05"/>
<rect x="40.41" y="405.07" width="15.75" height="2.02" fill="#520705"/>
<rect x="40.41" y="407.03" width="15.75" height="2.02" fill="#480705"/>
<rect x="40.41" y="409.00" width="15.75" height="2.02" fill="#260405"/>
<rect x="40.41" y="410.97" width="15.75" height="2.02" fill="#2d0505"/>
<rect x="40.41" y="412.93" width="15.75" height="2.02" fill="#330504"/>
<rect x="40.41" y="414.90" width="15.75" height="2.02" fill="#280504"/>
<rect x="40.41" y="416.87" width="15.75" height="2.02" fill="#370604"/>
<rect x="40.41" y="418.83" width="15.75" height="2.02" fill="#400704"/>
<rect x="40.41" y="420.80" width="15.75" height="2.02" fill="#390604"/>
<rect x="40.41" y="422.77" width="15.75" height="2.02" fill="#4a0904"/>
<rect x="40.41" y="424.73" width="15.75" height="2.02" fill="#430b04"/>
<rect x="40.41" y="426.70" width="15.75" height="2.02" fill="#330b04"/>
<rect x="40.41" y="428.67" width="15.75" height="2.02" fill="#360f04"/>
<rect x="40.41" y="430.63" width="15.75" height="2.02" fill="#391304"/>
<rect x="40.41" y="432.60" width="15.75" height="2.02" fill="#440405"/>
<rect x="40.41" y="434.57" width="15.75" height="2.02" fill="#320405"/>
<rect x="40.41" y="436.53" width="15.75" height="2.02" fill="#083905"/>
<rect x="40.41" y="438.50" width="15.75" height="2.02" fill="#2e0505"/>
<rect x="40.41" y="440.47" width="15.75" height="2.02" fill="#085905"/>
<rect x="40.41" y="442.43" width="15.75" height="2.02" fill="#490505"/>
<rect x="40.41" y="444.40" width="15.75" height="2.02" fill="#1f0505"/>
<rect x="40.41" y="446.37" width="15.75" height="2.02" fill="#180505"/>
<rect x="40.41" y="448.33" width="15.75" height="2.02" fill="#570506"/>
<rect x="40.41" y="450.30" width="15.75" height="2.02" fill="#140906"/>
<rect x="40.41" y="452.27" width="15.75" height="2.02" fill="#250e06"/>
<rect x="40.41" y="454.23" width="15.75" height="2.02" fill="#611d06"/>
<rect x="40.41" y="456.20" width="15.75" height="2.02" fill="#2c0d06"/>
<rect x="40.41" y="458.17" width="15.75" height="2.02" fill="#1f0a06"/>
<rect x="40.41" y="460.13" width="15.75" height="2.02" fill="#330d06"/>
<rect x="40.41" y="462.10" width="15.75" height="2.02" fill="#521206"/>
<rect x="40.41" y="464.07" width="15.75" height="2.02" fill="#210806"/>
<rect x="40.41" y="466.03" width="15.75" height="2.02" fill="#220806"/>
<rect x="40.41" y="468.00" width="15.75" height="2.02" fill="#550f06"/>
<rect x="40.41" y="469.97" width="15.75" height="2.02" fill="#240706"/>
<rect x="40.41" y="471.93" width="15.75" height="2.02" fill="#3d0a06"/>
<rect x="40.41" y="473.90" width="15.75" height="2.02" fill="#2c0a06"/>
<rect x="40.41" y="475.87" width="15.75" height="2.02" fill="#280b06"/>
<rect x="40.41" y="477.83" width="15.75" height="2.02" fill="#9a725f"/>
<rect x="40.41" y="479.80" width="15.75" height="2.02" fill="#280e06"/>
<rect x="40.41" y="481.77" width="15.75" height="2.02" fill="#3a1606"/>
<rect x="40.41" y="483.73" width="15.75" height="2.02" fill="#200606"/>
<rect x="40.41" y="485.70" width="15.75" height="2.02" fill="#1a0606"/>
<rect x="40.41" y="487.67" width="15.75" height="2.02" fill="#1e0706"/>
<rect x="40.41" y="489.63" width="15.75" height="2.02" fill="#80634d"/>
<rect x="40.41" y="491.60" width="15.75" height="2.02" fill="#094606"/>
<rect x="40.41" y="493.57" width="15.75" height="2.02" fill="#260706"/>
<rect x="40.41" y="495.53" width="15.75" height="4.02" fill="#096906"/>
<rect x="56.11" y="330.30" width="15.75" height="4.02" fill="#022804"/>
<rect x="56.11" y="334.27" width="15.75" height="2.02" fill="#023604"/>
<rect x="56.11" y="336.23" width="15.75" height="2.02" fill="#021e04"/>
<rect x="56.11" y="338.20" width="15.75" height="2.02" fill="#023504"/>
<rect x="56.11" y="340.17" width="15.75" height="2.02" fill="#022704"/>
<rect x="56.11" y="342.13" width="15.75" height="2.02" fill="#022905"/>
<rect x="56.11" y="344.10" width="15.75" height="2.02" fill="#032d05"/>
<rect x="56.11" y="346.07" width="15.75" height="2.02" fill="#031906"/>
<rect x="56.11" y="348.03" width="15.75" height="2.02" fill="#042a06"/>
<rect x="56.11" y="350.00" width="15.75" height="2.02" fill="#042007"/>
<rect x="56.11" y="351.97" width="15.75" height="2.02" fill="#053507"/>
<rect x="56.11" y="353.93" width="15.75" height="2.02" fill="#6a7e5b"/>
<rect x="56.11" y="355.90" width="15.75" height="2.02" fill="#061d08"/>
<rect x="56.11" y="357.87" width="15.75" height="2.02" fill="#062208"/>
<rect x="56.11" y="359.83" width="15.75" height="2.02" fill="#4e6745"/>
<rect x="56.11" y="361.80" width="15.75" height="2.02" fill="#053408"/>
<rect x="56.11" y="363.77" width="15.75" height="2.02" fill="#052e08"/>
<rect x="56.11" y="365.73" width="15.75" height="2.02" fill="#5e684a"/>
<rect x="56.11" y="367.70" width="15.75" height="2.02" fill="#041b07"/>
<rect x="56.11" y="369.67" width="15.75" height="2.02" fill="#041507"/>
<rect x="56.11" y="371.63" width="15.75" height="2.02" fill="#041806"/>
<rect x="56.11" y="373.60" width="15.75" height="2.02" fill="#042506"/>
<rect x="56.11" y="375.57" width="15.75" height="2.02" fill="#044f06"/>
<rect x="56.11" y="377.53" width="15.75" height="2.02" fill="#729463"/>
<rect x="56.11" y="379.50" width="15.75" height="2.02" fill="#044507"/>
<rect x="56.11" y="381.47" width="15.75" height="2.02" fill="#044b07"/>
<rect x="56.11" y="383.43" width="15.75" height="2.02" fill="#042807"/>
<rect x="56.11" y="385.40" width="15.75" height="2.02" fill="#042b07"/>
<rect x="56.11" y="387.37" width="15.75" height="2.02" fill="#043c07"/>
<rect x="56.11" y="389.33" width="15.75" height="2.02" fill="#053607"/>
<rect x="56.11" y="391.30" width="15.75" height="2.02" fill="#5f8053"/>
<rect x="56.11" y="393.27" width="15.75" height="2.02" fill="#082408"/>
<rect x="56.11" y="395.23" width="15.75" height="2.02" fill="#0b3909"/>
<rect x="56.11" y="397.20" width="15.75" height="2.02" fill="#146609"/>
<rect x="56.11" y="399.17" width="15.75" height="2.02" fill="#8a8f6d"/>
<rect x="56.11" y="401.13" width="15.75" height="2.02" fill="#657c55"/>
<rect x="56.11" y="403.10" width="15.75" height="2.02" fill="#6a7e57"/>
<rect x="56.11" y="405.07" width="15.75" height="2.02" fill="#26660b"/>
<rect x="56.11" y="407.03" width="15.75" height="2.02" fill="#1e540b"/>
<rect x="56.11" y="409.00" width="15.75" height="2.02" fill="#13350b"/>
<rect x="56.11" y="410.97" width="15.75" height="2.02" fill="#5b7547"/>
<rect x="56.11" y="412.93" width="15.75" height="2.02" fill="#0e370a"/>
<rect x="56.11" y="414.90" width="15.75" height="2.02" fill="#0a2509"/>
<rect x="56.11" y="416.87" width="15.75" height="2.02" fill="#092e08"/>
<rect x="56.11" y="418.83" width="15.75" height="2.02" fill="#072908"/>
<rect x="56.11" y="420.80" width="15.75" height="2.02" fill="#065607"/>
<rect x="56.11" y="422.77" width="15.75" height="2.02" fill="#547b47"/>
<rect x="56.11" y="424.73" width="15.75" height="2.02" fill="#618253"/>
<rect x="56.11" y="426.70" width="15.75" height="2.02" fill="#052407"/>
<rect x="56.11" y="428.67" width="15.75" height="2.02" fill="#055f08"/>
<rect x="56.11" y="430.63" width="15.75" height="2.02" fill="#053308"/>
<rect x="56.11" y="432.60" width="15.75" height="2.02" fill="#053108"/>
<rect x="56.11" y="434.57" width="15.75" height="2.02" fill="#069c08"/>
<rect x="56.11" y="436.53" width="15.75" height="2.02" fill="#5a834c"/>
<rect x="56.11" y="438.50" width="15.75" height="2.02" fill="#4e7d44"/>
<rect x="56.11" y="440.47" width="15.75" height="2.02" fill="#5c734a"/>
<rect x="56.11" y="442.43" width="15.75" height="2.02" fill="#5b874f"/>
<rect x="56.11" y="444.40" width="15.75" height="2.02" fill="#6fa560"/>
<rect x="56.11" y="446.37" width="15.75" height="2.02" fill="#678e58"/>
<rect x="56.11" y="448.33" width="15.75" height="2.02" fill="#728c5e"/>
<rect x="56.11" y="450.30" width="15.75" height="2.02" fill="#39100e"/>
<rect x="56.11" y="452.27" width="15.75" height="2.02" fill="#948868"/>
<rect x="56.11" y="454.23" width="15.75" height="2.02" fill="#106010"/>
<rect x="56.11" y="456.20" width="15.75" height="2.02" fill="#104810"/>
<rect x="56.11" y="458.17" width="15.75" height="2.02" fill="#371010"/>
<rect x="56.11" y="460.13" width="15.75" height="2.02" fill="#153010"/>
<rect x="56.11" y="462.10" width="15.75" height="2.02" fill="#2a1010"/>
<rect x="56.11" y="464.07" width="15.75" height="2.02" fill="#848263"/>
<rect x="56.11" y="466.03" width="15.75" height="2.02" fill="#8d7f63"/>
<rect x="56.11" y="468.00" width="15.75" height="2.02" fill="#0f3010"/>
<rect x="56.11" y="469.97" width="15.75" height="2.02" fill="#165110"/>
<rect x="56.11" y="471.93" width="15.75" height="2.02" fill="#3a1110"/>
<rect x="56.11" y="473.90" width="15.75" height="2.02" fill="#0f3d10"/>
<rect x="56.11" y="475.87" width="15.75" height="2.02" fill="#481110"/>
<rect x="56.11" y="477.83" width="15.75" height="2.02" fill="#676a4d"/>
<rect x="56.11" y="479.80" width="15.75" height="2.02" fill="#16280f"/>
<rect x="56.11" y="481.77" width="15.75" height="2.02" fill="#979972"/>
<rect x="56.11" y="483.73" width="15.75" height="2.02" fill="#21520f"/>
<rect x="56.11" y="485.70" width="15.75" height="2.02" fill="#90986a"/>
<rect x="56.11" y="487.67" width="15.75" height="2.02" fill="#1c4c0f"/>
<rect x="56.11" y="489.63" width="15.75" height="2.02" fill="#22650f"/>
<rect x="56.11" y="491.60" width="15.75" height="2.02" fill="#152f0f"/>
<rect x="56.11" y="493.57" width="15.75" height="2.02" fill="#16320f"/>
<rect x="56.11" y="495.53" width="15.75" height="4.02" fill="#215e0f"/>
<rect x="71.81" y="330.30" width="15.75" height="4.02" fill="#090303"/>
<rect x="71.81" y="334.27" width="15.75" height="2.02" fill="#130703"/>
<rect x="71.81" y="336.23" width="15.75" height="2.02" fill="#1e0b03"/>
<rect x="71.81" y="338.20" width="15.75" height="2.02" fill="#090303"/>
<rect x="71.81" y="340.17" width="15.75" height="2.02" fill="#150903"/>
<rect x="71.81" y="342.13" width="15.75" height="2.02" fill="#0c0804"/>
<rect x="71.81" y="344.10" width="15.75" height="2.02" fill="#0d0b04"/>
<rect x="71.81" y="346.07" width="15.75" height="2.02" fill="#230304"/>
<rect x="71.81" y="348.03" width="15.75" height="2.02" fill="#111904"/>
<rect x="71.81" y="350.00" width="15.75" height="2.02" fill="#0f1c04"/>
<rect x="71.81" y="351.97" width="15.75" height="2.02" fill="#060c04"/>
<rect x="71.81" y="353.93" width="15.75" height="2.02" fill="#0c2605"/>
<rect x="71.81" y="355.90" width="15.75" height="2.02" fill="#050f05"/>
<rect x="71.81" y="357.87" width="15.75" height="2.02" fill="#0c2205"/>
<rect x="71.81" y="359.83" width="15.75" height="2.02" fill="#0a1505"/>
<rect x="71.81" y="361.80" width="15.75" height="2.02" fill="#190505"/>
<rect x="71.81" y="363.77" width="15.75" height="2.02" fill="#042104"/>
<rect x="71.81" y="365.73" width="15.75" height="2.02" fill="#1b0504"/>
<rect x="71.81" y="367.70" width="15.75" height="2.02" fill="#052404"/>
<rect x="71.81" y="369.67" width="15.75" height="2.02" fill="#210404"/>
<rect x="71.81" y="371.63" width="15.75" height="2.02" fill="#350404"/>
<rect x="71.81" y="373.60" width="15.75" height="2.02" fill="#051104"/>
<rect x="71.81" y="375.57" width="15.75" height="2.02" fill="#052a04"/>
<rect x="71.81" y="377.53" width="15.75" height="2.02" fill="#052304"/>
<rect x="71.81" y="379.50" width="15.75" height="2.02" fill="#063204"/>
<rect x="71.81" y="381.47" width="15.75" height="2.02" fill="#3b0404"/>
<rect x="71.81" y="383.43" width="15.75" height="2.02" fill="#0e0405"/>
<rect x="71.81" y="385.40" width="15.75" height="2.02" fill="#300405"/>
<rect x="71.81" y="387.37" width="15.75" height="2.02" fill="#1c0405"/>
<rect x="71.81" y="389.33" width="15.75" height="2.02" fill="#2c1305"/>
<rect x="71.81" y="391.30" width="15.75" height="2.02" fill="#2b0405"/>
<rect x="71.81" y="393.27" width="15.75" height="2.02" fill="#220505"/>
<rect x="71.81" y="395.23" width="15.75" height="2.02" fill="#0c1606"/>
<rect x="71.81" y="397.20" width="15.75" height="2.02" fill="#062006"/>
<rect x="71.81" y="399.17" width="15.75" height="2.02" fill="#063f06"/>
<rect x="71.81" y="401.13" width="15.75" height="2.02" fill="#0c1606"/>
<rect x="71.81" y="403.10" width="15.75" height="2.02" fill="#062707"/>
<rect x="71.81" y="405.07" width="15.75" height="2.02" fill="#063a07"/>
<rect x="71.81" y="407.03" width="15.75" height="2.02" fill="#370807"/>
<rect x="71.81" y="409.00" width="15.75" height="2.02" fill="#123207"/>
<rect x="71.81" y="410.97" width="15.75" height="2.02" fill="#0c2507"/>
<rect x="71.81" y="412.93" width="15.75" height="2.02" fill="#0c3107"/>
<rect x="71.81" y="414.90" width="15.75" height="2.02" fill="#071607"/>
<rect x="71.81" y="416.87" width="15.75" height="2.02" fill="#083607"/>
<rect x="71.81" y="418.83" width="15.75" height="2.02" fill="#062607"/>
<rect x="71.81" y="420.80" width="15.75" height="2.02" fill="#065307"/>
<rect x="71.81" y="422.77" width="15.75" height="2.02" fill="#71a764"/>
<rect x="71.81" y="424.73" width="15.75" height="2.02" fill="#91a370"/>
<rect x="71.81" y="426.70" width="15.75" height="2.02" fill="#066b06"/>
<rect x="71.81" y="428.67" width="15.75" height="2.02" fill="#066906"/>
<rect x="71.81" y="430.63" width="15.75" height="2.02" fill="#340706"/>
<rect x="71.81" y="432.60" width="15.75" height="2.02" fill="#180605"/>
<rect x="71.81" y="434.57" width="15.75" height="2.02" fill="#610505"/>
<rect x="71.81" y="436.53" width="15.75" height="2.02" fill="#441204"/>
<rect x="71.81" y="438.50" width="15.75" height="2.02" fill="#7d5b4f"/>
<rect x="71.81" y="440.47" width="15.75" height="2.02" fill="#1a0805"/>
<rect x="71.81" y="442.43" width="15.75" height="2.02" fill="#0f3305"/>
<rect x="71.81" y="444.40" width="15.75" height="2.02" fill="#251006"/>
<rect x="71.81" y="446.37" width="15.75" height="2.02" fill="#640906"/>
<rect x="71.81" y="448.33" width="15.75" height="2.02" fill="#075807"/>
<rect x="71.81" y="450.30" width="15.75" height="2.02" fill="#0d2207"/>
<rect x="71.81" y="452.27" width="15.75" height="2.02" fill="#739957"/>
<rect x="71.81" y="454.23" width="15.75" height="2.02" fill="#094608"/>
<rect x="71.81" y="456.20" width="15.75" height="2.02" fill="#069a09"/>
<rect x="71.81" y="458.17" width="15.75" height="2.02" fill="#075509"/>
<rect x="71.81" y="460.13" width="15.75" height="2.02" fill="#075d09"/>
<rect x="71.81" y="462.10" width="15.75" height="2.02" fill="#075d0a"/>
<rect x="71.81" y="464.07" width="15.75" height="2.02" fill="#084d0a"/>
<rect x="71.81" y="466.03" width="15.75" height="2.02" fill="#5b9e4f"/>
<rect x="71.81" y="468.00" width="15.75" height="2.02" fill="#81c46d"/>
<rect x="71.81" y="469.97" width="15.75" height="2.02" fill="#7b9c68"/>
<rect x="71.81" y="471.93" width="15.75" height="2.02" fill="#09600c"/>
<rect x="71.81" y="473.90" width="15.75" height="2.02" fill="#0b6e0b"/>
<rect x="71.81" y="475.87" width="15.75" height="2.02" fill="#0c590b"/>
<rect x="71.81" y="477.83" width="15.75" height="2.02" fill="#909d6f"/>
<rect x="71.81" y="479.80" width="15.75" height="2.02" fill="#125f0b"/>
<rect x="71.81" y="481.77" width="15.75" height="2.02" fill="#587448"/>
<rect x="71.81" y="483.73" width="15.75" height="2.02" fill="#16520a"/>
<rect x="71.81" y="485.70" width="15.75" height="2.02" fill="#8ca26f"/>
<rect x="71.81" y="487.67" width="15.75" height="2.02" fill="#15330a"/>
<rect x="71.81" y="489.63" width="15.75" height="2.02" fill="#1d490a"/>
<rect x="71.81" y="491.60" width="15.75" height="2.02" fill="#26620a"/>
<rect x="71.81" y="493.57" width="15.75" height="2.02" fill="#1a3e0a"/>
<rect x="71.81" y="495.53" width="15.75" height="4.02" fill="#0f1e0a"/>
<rect x="87.52" y="330.30" width="15.75" height="4.02" fill="#013504"/>
<rect x="87.52" y="334.27" width="15.75" height="2.02" fill="#011d04"/>
<rect x="87.52" y="336.23" width="15.75" height="2.02" fill="#012c04"/>
<rect x="87.52" y="338.20" width="15.75" height="2.02" fill="#011a04"/>
<rect x="87.52" y="340.17" width="15.75" height="2.02" fill="#013b04"/>
<rect x="87.52" y="342.13" width="15.75" height="2.02" fill="#013c04"/>
<rect x="87.52" y="344.10" width="15.75" height="2.02" fill="#012704"/>
<rect x="87.52" y="346.07" width="15.75" height="2.02" fill="#014704"/>
<rect x="87.52" y="348.03" width="15.75" height="2.02" fill="#012704"/>
<rect x="87.52" y="350.00" width="15.75" height="2.02" fill="#011a05"/>
<rect x="87.52" y="351.97" width="15.75" height="2.02" fill="#012905"/>
<rect x="87.52" y="353.93" width="15.75" height="2.02" fill="#678659"/>
<rect x="87.52" y="355.90" width="15.75" height="2.02" fill="#011d05"/>
<rect x="87.52" y="357.87" width="15.75" height="2.02" fill="#022205"/>
<rect x="87.52" y="359.83" width="15.75" height="2.02" fill="#023105"/>
<rect x="87.52" y="361.80" width="15.75" height="2.02" fill="#023b05"/>
<rect x="87.52" y="363.77" width="15.75" height="2.02" fill="#023c05"/>
<rect x="87.52" y="365.73" width="15.75" height="2.02" fill="#025605"/>
<rect x="87.52" y="367.70" width="15.75" height="2.02" fill="#021505"/>
<rect x="87.52" y="369.67" width="15.75" height="2.02" fill="#024605"/>
<rect x="87.52" y="371.63" width="15.75" height="2.02" fill="#023005"/>
<rect x="87.52" y="373.60" width="15.75" height="2.02" fill="#022205"/>
<rect x="87.52" y="375.57" width="15.75" height="2.02" fill="#67925d"/>
<rect x="87.52" y="377.53" width="15.75" height="2.02" fill="#021a05"/>
<rect x="87.52" y="379.50" width="15.75" height="2.02" fill="#023305"/>
<rect x="87.52" y="381.47" width="15.75" height="2.02" fill="#025405"/>
<rect x="87.52" y="383.43" width="15.75" height="2.02" fill="#024c05"/>
<rect x="87.52" y="385.40" width="15.75" height="2.02" fill="#024f05"/>
<rect x="87.52" y="387.37" width="15.75" height="2.02" fill="#023805"/>
<rect x="87.52" y="389.33" width="15.75" height="2.02" fill="#024105"/>
<rect x="87.52" y="391.30" width="15.75" height="2.02" fill="#4e6a40"/>
<rect x="87.52" y="393.27" width="15.75" height="2.02" fill="#022905"/>
<rect x="87.52" y="395.23" width="15.75" height="2.02" fill="#032d05"/>
<rect x="87.52" y="397.20" width="15.75" height="2.02" fill="#034e06"/>
<rect x="87.52" y="399.17" width="15.75" height="2.02" fill="#042f06"/>
<rect x="87.52" y="401.13" width="15.75" height="2.02" fill="#063606"/>
<rect x="87.52" y="403.10" width="15.75" height="2.02" fill="#657251"/>
<rect x="87.52" y="405.07" width="15.75" height="2.02" fill="#092b06"/>
<rect x="87.52" y="407.03" width="15.75" height="2.02" fill="#677e58"/>
<rect x="87.52" y="409.00" width="15.75" height="2.02" fill="#0b4506"/>
<rect x="87.52" y="410.97" width="15.75" height="2.02" fill="#072806"/>
<rect x="87.52" y="412.93" width="15.75" height="2.02" fill="#051606"/>
<rect x="87.52" y="414.90" width="15.75" height="2.02" fill="#052406"/>
<rect x="87.52" y="416.87" width="15.75" height="2.02" fill="#053906"/>
<rect x="87.52" y="418.83" width="15.75" height="2.02" fill="#506641"/>
<rect x="87.52" y="420.80" width="15.75" height="2.02" fill="#043806"/>
<rect x="87.52" y="422.77" width="15.75" height="2.02" fill="#034906"/>
<rect x="87.52" y="424.73" width="15.75" height="2.02" fill="#053c06"/>
<rect x="87.52" y="426.70" width="15.75" height="2.02" fill="#075806"/>
<rect x="87.52" y="428.67" width="15.75" height="2.02" fill="#084606"/>
<rect x="87.52" y="430.63" width="15.75" height="2.02" fill="#062107"/>
<rect x="87.52" y="432.60" width="15.75" height="2.02" fill="#061607"/>
<rect x="87.52" y="434.57" width="15.75" height="2.02" fill="#071707"/>
<rect x="87.52" y="436.53" width="15.75" height="2.02" fill="#0c3108"/>
<rect x="87.52" y="438.50" width="15.75" height="2.02" fill="#596946"/>
<rect x="87.52" y="440.47" width="15.75" height="2.02" fill="#0b1908"/>
<rect x="87.52" y="442.43" width="15.75" height="2.02" fill="#74815b"/>
<rect x="87.52" y="444.40" width="15.75" height="2.02" fill="#5e5943"/>
<rect x="87.52" y="446.37" width="15.75" height="2.02" fill="#6e835a"/>
<rect x="87.52" y="448.33" width="15.75" height="2.02" fill="#1b0909"/>
<rect x="87.52" y="450.30" width="15.75" height="2.02" fill="#240909"/>
<rect x="87.52" y="452.27" width="15.75" height="2.02" fill="#7f7c5e"/>
<rect x="87.52" y="454.23" width="15.75" height="2.02" fill="#31090a"/>
<rect x="87.52" y="456.20" width="15.75" height="2.02" fill="#0a410a"/>
<rect x="87.52" y="458.17" width="15.75" height="2.02" fill="#0a410a"/>
<rect x="87.52" y="460.13" width="15.75" height="2.02" fill="#570b0a"/>
<rect x="87.52" y="462.10" width="15.75" height="2.02" fill="#0b210b"/>
<rect x="87.52" y="464.07" width="15.75" height="2.02" fill="#410c0b"/>
<rect x="87.52" y="466.03" width="15.75" height="2.02" fill="#0a700b"/>
<rect x="87.52" y="468.00" width="15.75" height="2.02" fill="#617f4f"/>
<rect x="87.52" y="469.97" width="15.75" height="2.02" fill="#1d4c0b"/>
<rect x="87.52" y="471.93" width="15.75" height="2.02" fill="#1d580c"/>
<rect x="87.52" y="473.90" width="15.75" height="2.02" fill="#1c4e0c"/>
<rect x="87.52" y="475.87" width="15.75" height="2.02" fill="#20590c"/>
<rect x="87.52" y="477.83" width="15.75" height="2.02" fill="#627750"/>
<rect x="87.52" y="479.80" width="15.75" height="2.02" fill="#11220c"/>
<rect x="87.52" y="481.77" width="15.75" height="2.02" fill="#707052"/>
<rect x="87.52" y="483.73" width="15.75" height="2.02" fill="#0a5a0c"/>
<rect x="87.52" y="485.70" width="15.75" height="2.02" fill="#201b0c"/>
<rect x="87.52" y="487.67" width="15.75" height="2.02" fill="#0a1a0c"/>
<rect x="87.52" y="489.63" width="15.75" height="2.02" fill="#6f6950"/>
<rect x="87.52" y="491.60" width="15.75" height="2.02" fill="#0a420c"/>
<rect x="87.52" y="493.57" width="15.75" height="2.02" fill="#0a4f0c"/>
<rect x="87.52" y="495.53" width="15.75" height="4.02" fill="#163f0c"/>
<rect x="103.22" y="330.30" width="15.75" height="4.02" fill="#024006"/>
<rect x="103.22" y="334.27" width="15.75" height="2.02" fill="#023e06"/>
<rect x="103.22" y="336.23" width="15.75" height="2.02" fill="#029306"/>
<rect x="103.22" y="338.20" width="15.75" height="2.02" fill="#026e06"/>
<rect x="103.22" y="340.17" width="15.75" height="2.02" fill="#024d06"/>
<rect x="103.22" y="342.13" width="15.75" height="2.02" fill="#026e06"/>
<rect x="103.22" y="344.10" width="15.75" height="2.02" fill="#025706"/>
<rect x="103.22" y="346.07" width="15.75" height="2.02" fill="#026806"/>
<rect x="103.22" y="348.03" width="15.75" height="2.02" fill="#027206"/>
<rect x="103.22" y="350.00" width="15.75" height="2.02" fill="#025e06"/>
<rect x="103.22" y="351.97" width="15.75" height="2.02" fill="#037c06"/>
<rect x="103.22" y="353.93" width="15.75" height="2.02" fill="#037b06"/>
<rect x="103.22" y="355.90" width="15.75" height="2.02" fill="#035306"/>
<rect x="103.22" y="357.87" width="15.75" height="2.02" fill="#037906"/>
<rect x="103.22" y="359.83" width="15.75" height="2.02" fill="#034106"/>
<rect x="103.22" y="361.80" width="15.75" height="2.02" fill="#033206"/>
<rect x="103.22" y="363.77" width="15.75" height="2.02" fill="#03ac06"/>
<rect x="103.22" y="365.73" width="15.75" height="2.02" fill="#039f06"/>
<rect x="103.22" y="367.70" width="15.75" height="2.02" fill="#027706"/>
<rect x="103.22" y="369.67" width="15.75" height="2.02" fill="#023b06"/>
<rect x="103.22" y="371.63" width="15.75" height="2.02" fill="#028906"/>
<rect x="103.22" y="373.60" width="15.75" height="2.02" fill="#024e06"/>
<rect x="103.22" y="375.57" width="15.75" height="2.02" fill="#028d06"/>
<rect x="103.22" y="377.53" width="15.75" height="2.02" fill="#026206"/>
<rect x="103.22" y="379.50" width="15.75" height="2.02" fill="#036206"/>
<rect x="103.22" y="381.47" width="15.75" height="2.02" fill="#034a06"/>
<rect x="103.22" y="383.43" width="15.75" height="2.02" fill="#036006"/>
<rect x="103.22" y="385.40" width="15.75" height="2.02" fill="#035806"/>
<rect x="103.22" y="387.37" width="15.75" height="2.02" fill="#037806"/>
<rect x="103.22" y="389.33" width="15.75" height="2.02" fill="#035e06"/>
<rect x="103.22" y="391.30" width="15.75" height="2.02" fill="#036506"/>
<rect x="103.22" y="393.27" width="15.75" height="2.02" fill="#039e06"/>
<rect x="103.22" y="395.23" width="15.75" height="2.02" fill="#039106"/>
<rect x="103.22" y="397.20" width="15.75" height="2.02" fill="#037006"/>
<rect x="103.22" y="399.17" width="15.75" height="2.02" fill="#036106"/>
<rect x="103.22" y="401.13" width="15.75" height="2.02" fill="#8ebe6f"/>
<rect x="103.22" y="403.10" width="15.75" height="2.02" fill="#62894f"/>
<rect x="103.22" y="405.07" width="15.75" height="2.02" fill="#047d06"/>
<rect x="103.22" y="407.03" width="15.75" height="2.02" fill="#047a06"/>
<rect x="103.22" y="409.00" width="15.75" height="2.02" fill="#04a606"/>
<rect x="103.22" y="410.97" width="15.75" height="2.02" fill="#048f07"/>
<rect x="103.22" y="412.93" width="15.75" height="2.02" fill="#045907"/>
<rect x="103.22" y="414.90" width="15.75" height="2.02" fill="#048107"/>
<rect x="103.22" y="416.87" width="15.75" height="2.02" fill="#044307"/>
<rect x="103.22" y="418.83" width="15.75" height="2.02" fill="#049d07"/>
<rect x="103.22" y="420.80" width="15.75" height="2.02" fill="#046607"/>
<rect x="103.22" y="422.77" width="15.75" height="2.02" fill="#5a8a4d"/>
<rect x="103.22" y="424.73" width="15.75" height="2.02" fill="#4f7742"/>
<rect x="103.22" y="426.70" width="15.75" height="2.02" fill="#049807"/>
<rect x="103.22" y="428.67" width="15.75" height="2.02" fill="#04c607"/>
<rect x="103.22" y="430.63" width="15.75" height="2.02" fill="#044007"/>
<rect x="103.22" y="432.60" width="15.75" height="2.02" fill="#049d07"/>
<rect x="103.22" y="434.57" width="15.75" height="2.02" fill="#047907"/>
<rect x="103.22" y="436.53" width="15.75" height="2.02" fill="#04a007"/>
<rect x="103.22" y="438.50" width="15.75" height="2.02" fill="#04a407"/>
<rect x="103.22" y="440.47" width="15.75" height="2.02" fill="#045807"/>
<rect x="103.22" y="442.43" width="15.75" height="2.02" fill="#043f07"/>
<rect x="103.22" y="444.40" width="15.75" height="2.02" fill="#698d54"/>
<rect x="103.22" y="446.37" width="15.75" height="2.02" fill="#59a24a"/>
<rect x="103.22" y="448.33" width="15.75" height="2.02" fill="#6f9e60"/>
<rect x="103.22" y="450.30" width="15.75" height="2.02" fill="#045908"/>
<rect x="103.22" y="452.27" width="15.75" height="2.02" fill="#047b08"/>
<rect x="103.22" y="454.23" width="15.75" height="2.02" fill="#048708"/>
<rect x="103.22" y="456.20" width="15.75" height="2.02" fill="#058808"/>
<rect x="103.22" y="458.17" width="15.75" height="2.02" fill="#056408"/>
<rect x="103.22" y="460.13" width="15.75" height="2.02" fill="#05ae08"/>
<rect x="103.22" y="462.10" width="15.75" height="2.02" fill="#055108"/>
<rect x="103.22" y="464.07" width="15.75" height="2.02" fill="#055d08"/>
<rect x="103.22" y="466.03" width="15.75" height="2.02" fill="#057008"/>
<rect x="103.22" y="468.00" width="15.75" height="2.02" fill="#5a7e48"/>
<rect x="103.22" y="469.97" width="15.75" height="2.02" fill="#62b251"/>
<rect x="103.22" y="471.93" width="15.75" height="2.02" fill="#054708"/>
<rect x="103.22" y="473.90" width="15.75" height="2.02" fill="#058108"/>
<rect x="103.22" y="475.87" width="15.75" height="2.02" fill="#055808"/>
<rect x="103.22" y="477.83" width="15.75" height="2.02" fill="#058308"/>
<rect x="103.22" y="479.80" width="15.75" height="2.02" fill="#058308"/>
<rect x="103.22" y="481.77" width="15.75" height="2.02" fill="#055608"/>
<rect x="103.22" y="483.73" width="15.75" height="2.02" fill="#056208"/>
<rect x="103.22" y="485.70" width="15.75" height="2.02" fill="#056d08"/>
<rect x="103.22" y="487.67" width="15.75" height="2.02" fill="#057608"/>
<rect x="103.22" y="489.63" width="15.75" height="2.02" fill="#59974f"/>
<rect x="103.22" y="491.60" width="15.75" height="2.02" fill="#05bb08"/>
<rect x="103.22" y="493.57" width="15.75" height="2.02" fill="#05a708"/>
<rect x="103.22" y="495.53" width="15.75" height="4.02" fill="#05af08"/>
<rect x="118.92" y="330.30" width="15.75" height="4.02" fill="#04b007"/>
<rect x="118.92" y="334.27" width="15.75" height="2.02" fill="#04be07"/>
<rect x="118.92" y="336.23" width="15.75" height="2.02" fill="#04f507"/>
<rect x="118.92" y="338.20" width="15.75" height="2.02" fill="#04dd07"/>
<rect x="118.92" y="340.17" width="15.75" height="2.02" fill="#7afc6d"/>
<rect x="118.92" y="342.13" width="15.75" height="2.02" fill="#04ff07"/>
<rect x="118.92" y="344.10" width="15.75" height="2.02" fill="#04d807"/>
<rect x="118.92" y="346.07" width="15.75" height="2.02" fill="#7cff70"/>
<rect x="118.92" y="348.03" width="15.75" height="2.02" fill="#04ff07"/>
<rect x="118.92" y="350.00" width="15.75" height="2.02" fill="#04e607"/>
<rect x="118.92" y="351.97" width="15.75" height="2.02" fill="#04a507"/>
<rect x="118.92" y="353.93" width="15.75" height="2.02" fill="#5cd151"/>
<rect x="118.92" y="355.90" width="15.75" height="2.02" fill="#04c907"/>
<rect x="118.92" y="357.87" width="15.75" height="2.02" fill="#04aa07"/>
<rect x="118.92" y="359.83" width="15.75" height="2.02" fill="#04e307"/>
<rect x="118.92" y="361.80" width="15.75" height="2.02" fill="#048407"/>
<rect x="118.92" y="363.77" width="15.75" height="2.02" fill="#04ad07"/>
<rect x="118.92" y="365.73" width="15.75" height="2.02" fill="#04ff07"/>
<rect x="118.92" y="367.70" width="15.75" height="2.02" fill="#049b07"/>
<rect x="118.92" y="369.67" width="15.75" height="2.02" fill="#046c07"/>
<rect x="118.92" y="371.63" width="15.75" height="2.02" fill="#04a007"/>
<rect x="118.92" y="373.60" width="15.75" height="2.02" fill="#046f07"/>
<rect x="118.92" y="375.57" width="15.75" height="2.02" fill="#58954b"/>
<rect x="118.92" y="377.53" width="15.75" height="2.02" fill="#04d507"/>
<rect x="118.92" y="379.50" width="15.75" height="2.02" fill="#038e07"/>
<rect x="118.92" y="381.47" width="15.75" height="2.02" fill="#03de07"/>
<rect x="118.92" y="383.43" width="15.75" height="2.02" fill="#03a407"/>
<rect x="118.92" y="385.40" width="15.75" height="2.02" fill="#03b806"/>
<rect x="118.92" y="387.37" width="15.75" height="2.02" fill="#037906"/>
<rect x="118.92" y="389.33" width="15.75" height="2.02" fill="#03b606"/>
<rect x="118.92" y="391.30" width="15.75" height="2.02" fill="#74cb64"/>
<rect x="118.92" y="393.27" width="15.75" height="2.02" fill="#03cc06"/>
<rect x="118.92" y="395.23" width="15.75" height="2.02" fill="#03b807"/>
<rect x="118.92" y="397.20" width="15.75" height="2.02" fill="#03a007"/>
<rect x="118.92" y="399.17" width="15.75" height="2.02" fill="#03e607"/>
<rect x="118.92" y="401.13" width="15.75" height="2.02" fill="#4ea742"/>
<rect x="118.92" y="403.10" width="15.75" height="2.02" fill="#04b407"/>
<rect x="118.92" y="405.07" width="15.75" height="2.02" fill="#04b107"/>
<rect x="118.92" y="407.03" width="15.75" height="2.02" fill="#6cd661"/>
<rect x="118.92" y="409.00" width="15.75" height="2.02" fill="#04ad08"/>
<rect x="118.92" y="410.97" width="15.75" height="2.02" fill="#058b08"/>
<rect x="118.92" y="412.93" width="15.75" height="2.02" fill="#05d508"/>
<rect x="118.92" y="414.90" width="15.75" height="2.02" fill="#05a508"/>
<rect x="118.92" y="416.87" width="15.75" height="2.02" fill="#92b871"/>
<rect x="118.92" y="418.83" width="15.75" height="2.02" fill="#68d05a"/>
<rect x="118.92" y="420.80" width="15.75" height="2.02" fill="#07bb09"/>
<rect x="118.92" y="422.77" width="15.75" height="2.02" fill="#679f54"/>
<rect x="118.92" y="424.73" width="15.75" height="2.02" fill="#078309"/>
<rect x="118.92" y="426.70" width="15.75" height="2.02" fill="#07c109"/>
<rect x="118.92" y="428.67" width="15.75" height="2.02" fill="#06ad09"/>
<rect x="118.92" y="430.63" width="15.75" height="2.02" fill="#06bb09"/>
<rect x="118.92" y="432.60" width="15.75" height="2.02" fill="#81cc62"/>
<rect x="118.92" y="434.57" width="15.75" height="2.02" fill="#06f909"/>
<rect x="118.92" y="436.53" width="15.75" height="2.02" fill="#068b09"/>
<rect x="118.92" y="438.50" width="15.75" height="2.02" fill="#64de5c"/>
<rect x="118.92" y="440.47" width="15.75" height="2.02" fill="#62c856"/>
<rect x="118.92" y="442.43" width="15.75" height="2.02" fill="#5ed955"/>
<rect x="118.92" y="444.40" width="15.75" height="2.02" fill="#06ec09"/>
<rect x="118.92" y="446.37" width="15.75" height="2.02" fill="#06c409"/>
<rect x="118.92" y="448.33" width="15.75" height="2.02" fill="#06b209"/>
<rect x="118.92" y="450.30" width="15.75" height="2.02" fill="#069809"/>
<rect x="118.92" y="452.27" width="15.75" height="2.02" fill="#6bbe5c"/>
<rect x="118.92" y="454.23" width="15.75" height="2.02" fill="#7ab765"/>
<rect x="118.92" y="456.20" width="15.75" height="2.02" fill="#066109"/>
<rect x="118.92" y="458.17" width="15.75" height="2.02" fill="#068309"/>
<rect x="118.92" y="460.13" width="15.75" height="2.02" fill="#077009"/>
<rect x="118.92" y="462.10" width="15.75" height="2.02" fill="#076f09"/>
<rect x="118.92" y="464.07" width="15.75" height="2.02" fill="#077d0a"/>
<rect x="118.92" y="466.03" width="15.75" height="2.02" fill="#689254"/>
<rect x="118.92" y="468.00" width="15.75" height="2.02" fill="#76ab65"/>
<rect x="118.92" y="469.97" width="15.75" height="2.02" fill="#69b75d"/>
<rect x="118.92" y="471.93" width="15.75" height="2.02" fill="#08bc0b"/>
<rect x="118.92" y="473.90" width="15.75" height="2.02" fill="#64804f"/>
<rect x="118.92" y="475.87" width="15.75" height="2.02" fill="#08650a"/>
<rect x="118.92" y="477.83" width="15.75" height="2.02" fill="#08440a"/>
<rect x="118.92" y="479.80" width="15.75" height="2.02" fill="#086b0a"/>
<rect x="118.92" y="481.77" width="15.75" height="2.02" fill="#076a0a"/>
<rect x="118.92" y="483.73" width="15.75" height="2.02" fill="#07890a"/>
<rect x="118.92" y="485.70" width="15.75" height="2.02" fill="#07a90a"/>
<rect x="118.92" y="487.67" width="15.75" height="2.02" fill="#07c309"/>
<rect x="118.92" y="489.63" width="15.75" height="2.02" fill="#5ab64d"/>
<rect x="118.92" y="491.60" width="15.75" height="2.02" fill="#079709"/>
<rect x="118.92" y="493.57" width="15.75" height="2.02" fill="#079f09"/>
<rect x="118.92" y="495.53" width="15.75" height="4.02" fill="#07c609"/>
<rect x="134.62" y="330.30" width="15.75" height="4.02" fill="#7be56b"/>
<rect x="134.62" y="334.27" width="15.75" height="2.02" fill="#04b307"/>
<rect x="134.62" y="336.23" width="15.75" height="2.02" fill="#04ff07"/>
<rect x="134.62" y="338.20" width="15.75" height="2.02" fill="#04b307"/>
<rect x="134.62" y="340.17" width="15.75" height="2.02" fill="#04ff07"/>
<rect x="134.62" y="342.13" width="15.75" height="2.02" fill="#04b507"/>
<rect x="134.62" y="344.10" width="15.75" height="2.02" fill="#50a041"/>
<rect x="134.62" y="346.07" width="15.75" height="2.02" fill="#04ca07"/>
<rect x="134.62" y="348.03" width="15.75" height="2.02" fill="#04ec07"/>
<rect x="134.62" y="350.00" width="15.75" height="2.02" fill="#04d207"/>
<rect x="134.62" y="351.97" width="15.75" height="2.02" fill="#048f07"/>
<rect x="134.62" y="353.93" width="15.75" height="2.02" fill="#6fed5d"/>
<rect x="134.62" y="355.90" width="15.75" height="2.02" fill="#04a607"/>
<rect x="134.62" y="357.87" width="15.75" height="2.02" fill="#04ff07"/>
<rect x="134.62" y="359.83" width="15.75" height="2.02" fill="#04df07"/>
<rect x="134.62" y="361.80" width="15.75" height="2.02" fill="#04ae07"/>
<rect x="134.62" y="363.77" width="15.75" height="2.02" fill="#04f607"/>
<rect x="134.62" y="365.73" width="15.75" height="2.02" fill="#04ac07"/>
<rect x="134.62" y="367.70" width="15.75" height="2.02" fill="#047407"/>
<rect x="134.62" y="369.67" width="15.75" height="2.02" fill="#04a406"/>
<rect x="134.62" y="371.63" width="15.75" height="2.02" fill="#04e306"/>
<rect x="134.62" y="373.60" width="15.75" height="2.02" fill="#04c606"/>
<rect x="134.62" y="375.57" width="15.75" height="2.02" fill="#04cd06"/>
<rect x="134.62" y="377.53" width="15.75" height="2.02" fill="#04e106"/>
<rect x="134.62" y="379.50" width="15.75" height="2.02" fill="#048206"/>
<rect x="134.62" y="381.47" width="15.75" height="2.02" fill="#04ae06"/>
<rect x="134.62" y="383.43" width="15.75" height="2.02" fill="#049f06"/>
<rect x="134.62" y="385.40" width="15.75" height="2.02" fill="#4f9243"/>
<rect x="134.62" y="387.37" width="15.75" height="2.02" fill="#047206"/>
<rect x="134.62" y="389.33" width="15.75" height="2.02" fill="#04c006"/>
<rect x="134.62" y="391.30" width="15.75" height="2.02" fill="#78b85c"/>
<rect x="134.62" y="393.27" width="15.75" height="2.02" fill="#048907"/>
<rect x="134.62" y="395.23" width="15.75" height="2.02" fill="#059607"/>
<rect x="134.62" y="397.20" width="15.75" height="2.02" fill="#056407"/>
<rect x="134.62" y="399.17" width="15.75" height="2.02" fill="#71d660"/>
<rect x="134.62" y="401.13" width="15.75" height="2.02" fill="#80e26f"/>
<rect x="134.62" y="403.10" width="15.75" height="2.02" fill="#06f108"/>
<rect x="134.62" y="405.07" width="15.75" height="2.02" fill="#066b08"/>
<rect x="134.62" y="407.03" width="15.75" height="2.02" fill="#568d48"/>
<rect x="134.62" y="409.00" width="15.75" height="2.02" fill="#079309"/>
<rect x="134.62" y="410.97" width="15.75" height="2.02" fill="#076d0a"/>
<rect x="134.62" y="412.93" width="15.75" height="2.02" fill="#07d10a"/>
<rect x="134.62" y="414.90" width="15.75" height="2.02" fill="#08830a"/>
<rect x="134.62" y="416.87" width="15.75" height="2.02" fill="#679950"/>
<rect x="134.62" y="418.83" width="15.75" height="2.02" fill="#087f0b"/>
<rect x="134.62" y="420.80" width="15.75" height="2.02" fill="#09520b"/>
<rect x="134.62" y="422.77" width="15.75" height="2.02" fill="#097d0b"/>
<rect x="134.62" y="424.73" width="15.75" height="2.02" fill="#09c70b"/>
<rect x="134.62" y="426.70" width="15.75" height="2.02" fill="#08960b"/>
<rect x="134.62" y="428.67" width="15.75" height="2.02" fill="#08600a"/>
<rect x="134.62" y="430.63" width="15.75" height="2.02" fill="#708755"/>
<rect x="134.62" y="432.60" width="15.75" height="2.02" fill="#6da654"/>
<rect x="134.62" y="434.57" width="15.75" height="2.02" fill="#07af09"/>
<rect x="134.62" y="436.53" width="15.75" height="2.02" fill="#82aa67"/>
<rect x="134.62" y="438.50" width="15.75" height="2.02" fill="#528645"/>
<rect x="134.62" y="440.47" width="15.75" height="2.02" fill="#06a209"/>
<rect x="134.62" y="442.43" width="15.75" height="2.02" fill="#74d767"/>
<rect x="134.62" y="444.40" width="15.75" height="2.02" fill="#57af4a"/>
<rect x="134.62" y="446.37" width="15.75" height="2.02" fill="#075b0a"/>
<rect x="134.62" y="448.33" width="15.75" height="2.02" fill="#6fa260"/>
<rect x="134.62" y="450.30" width="15.75" height="2.02" fill="#56a24d"/>
<rect x="134.62" y="452.27" width="15.75" height="2.02" fill="#5c824c"/>
<rect x="134.62" y="454.23" width="15.75" height="2.02" fill="#728e5d"/>
<rect x="134.62" y="456.20" width="15.75" height="2.02" fill="#096a0b"/>
<rect x="134.62" y="458.17" width="15.75" height="2.02" fill="#09780b"/>
<rect x="134.62" y="460.13" width="15.75" height="2.02" fill="#759d5e"/>
<rect x="134.62" y="462.10" width="15.75" height="2.02" fill="#088b0b"/>
<rect x="134.62" y="464.07" width="15.75" height="2.02" fill="#08510b"/>
<rect x="134.62" y="466.03" width="15.75" height="2.02" fill="#76d068"/>
<rect x="134.62" y="468.00" width="15.75" height="2.02" fill="#718656"/>
<rect x="134.62" y="469.97" width="15.75" height="2.02" fill="#87b067"/>
<rect x="134.62" y="471.93" width="15.75" height="2.02" fill="#08930a"/>
<rect x="134.62" y="473.90" width="15.75" height="2.02" fill="#08ac0a"/>
<rect x="134.62" y="475.87" width="15.75" height="2.02" fill="#084d0a"/>
<rect x="134.62" y="477.83" width="15.75" height="2.02" fill="#75945f"/>
<rect x="134.62" y="479.80" width="15.75" height="2.02" fill="#08690b"/>
<rect x="134.62" y="481.77" width="15.75" height="2.02" fill="#08680b"/>
<rect x="134.62" y="483.73" width="15.75" height="2.02" fill="#09560b"/>
<rect x="134.62" y="485.70" width="15.75" height="2.02" fill="#09450b"/>
<rect x="134.62" y="487.67" width="15.75" height="2.02" fill="#09790b"/>
<rect x="134.62" y="489.63" width="15.75" height="2.02" fill="#4e8144"/>
<rect x="134.62" y="491.60" width="15.75" height="2.02" fill="#85d075"/>
<rect x="134.62" y="493.57" width="15.75" height="2.02" fill="#09920c"/>
<rect x="134.62" y="495.53" width="15.75" height="4.02" fill="#097c0c"/>
<rect x="150.33" y="330.30" width="15.75" height="4.02" fill="#04a107"/>
<rect x="150.33" y="334.27" width="15.75" height="2.02" fill="#04f007"/>
<rect x="150.33" y="336.23" width="15.75" height="2.02" fill="#04ff07"/>
<rect x="150.33" y="338.20" width="15.75" height="2.02" fill="#048607"/>
<rect x="150.33" y="340.17" width="15.75" height="2.02" fill="#048c07"/>
<rect x="150.33" y="342.13" width="15.75" height="2.02" fill="#04f007"/>
<rect x="150.33" y="344.10" width="15.75" height="2.02" fill="#55a443"/>
<rect x="150.33" y="346.07" width="15.75" height="2.02" fill="#04d107"/>
<rect x="150.33" y="348.03" width="15.75" height="2.02" fill="#048307"/>
<rect x="150.33" y="350.00" width="15.75" height="2.02" fill="#489941"/>
<rect x="150.33" y="351.97" width="15.75" height="2.02" fill="#047007"/>
<rect x="150.33" y="353.93" width="15.75" height="2.02" fill="#83e068"/>
<rect x="150.33" y="355.90" width="15.75" height="2.02" fill="#04b407"/>
<rect x="150.33" y="357.87" width="15.75" height="2.02" fill="#04fa07"/>
<rect x="150.33" y="359.83" width="15.75" height="2.02" fill="#04fb07"/>
<rect x="150.33" y="361.80" width="15.75" height="2.02" fill="#045307"/>
<rect x="150.33" y="363.77" width="15.75" height="2.02" fill="#04dd06"/>
<rect x="150.33" y="365.73" width="15.75" height="2.02" fill="#046f06"/>
<rect x="150.33" y="367.70" width="15.75" height="2.02" fill="#03c506"/>
<rect x="150.33" y="369.67" width="15.75" height="2.02" fill="#038006"/>
<rect x="150.33" y="371.63" width="15.75" height="2.02" fill="#03a706"/>
<rect x="150.33" y="373.60" width="15.75" height="2.02" fill="#037606"/>
<rect x="150.33" y="375.57" width="15.75" height="2.02" fill="#037c06"/>
<rect x="150.33" y="377.53" width="15.75" height="2.02" fill="#499e41"/>
<rect x="150.33" y="379.50" width="15.75" height="2.02" fill="#037406"/>
<rect x="150.33" y="381.47" width="15.75" height="2.02" fill="#037806"/>
<rect x="150.33" y="383.43" width="15.75" height="2.02" fill="#039b06"/>
<rect x="150.33" y="385.40" width="15.75" height="2.02" fill="#03b606"/>
<rect x="150.33" y="387.37" width="15.75" height="2.02" fill="#035706"/>
<rect x="150.33" y="389.33" width="15.75" height="2.02" fill="#035706"/>
<rect x="150.33" y="391.30" width="15.75" height="2.02" fill="#038006"/>
<rect x="150.33" y="393.27" width="15.75" height="2.02" fill="#03c906"/>
<rect x="150.33" y="395.23" width="15.75" height="2.02" fill="#04ae06"/>
<rect x="150.33" y="397.20" width="15.75" height="2.02" fill="#04a906"/>
<rect x="150.33" y="399.17" width="15.75" height="2.02" fill="#04b106"/>
<rect x="150.33" y="401.13" width="15.75" height="2.02" fill="#049107"/>
<rect x="150.33" y="403.10" width="15.75" height="2.02" fill="#57af4e"/>
<rect x="150.33" y="405.07" width="15.75" height="2.02" fill="#04f607"/>
<rect x="150.33" y="407.03" width="15.75" height="2.02" fill="#04c507"/>
<rect x="150.33" y="409.00" width="15.75" height="2.02" fill="#045607"/>
<rect x="150.33" y="410.97" width="15.75" height="2.02" fill="#048807"/>
<rect x="150.33" y="412.93" width="15.75" height="2.02" fill="#045f07"/>
<rect x="150.33" y="414.90" width="15.75" height="2.02" fill="#045507"/>
<rect x="150.33" y="416.87" width="15.75" height="2.02" fill="#045e07"/>
<rect x="150.33" y="418.83" width="15.75" height="2.02" fill="#04a807"/>
<rect x="150.33" y="420.80" width="15.75" height="2.02" fill="#044a07"/>
<rect x="150.33" y="422.77" width="15.75" height="2.02" fill="#048707"/>
<rect x="150.33" y="424.73" width="15.75" height="2.02" fill="#64aa52"/>
<rect x="150.33" y="426.70" width="15.75" height="2.02" fill="#04a307"/>
<rect x="150.33" y="428.67" width="15.75" height="2.02" fill="#04a407"/>
<rect x="150.33" y="430.63" width="15.75" height="2.02" fill="#048807"/>
<rect x="150.33" y="432.60" width="15.75" height="2.02" fill="#045a07"/>
<rect x="150.33" y="434.57" width="15.75" height="2.02" fill="#049107"/>
<rect x="150.33" y="436.53" width="15.75" height="2.02" fill="#049007"/>
<rect x="150.33" y="438.50" width="15.75" height="2.02" fill="#6fb161"/>
<rect x="150.33" y="440.47" width="15.75" height="2.02" fill="#053407"/>
<rect x="150.33" y="442.43" width="15.75" height="2.02" fill="#064608"/>
<rect x="150.33" y="444.40" width="15.75" height="2.02" fill="#073d08"/>
<rect x="150.33" y="446.37" width="15.75" height="2.02" fill="#7ec36c"/>
<rect x="150.33" y="448.33" width="15.75" height="2.02" fill="#095108"/>
<rect x="150.33" y="450.30" width="15.75" height="2.02" fill="#094509"/>
<rect x="150.33" y="452.27" width="15.75" height="2.02" fill="#688d4f"/>
<rect x="150.33" y="454.23" width="15.75" height="2.02" fill="#6a7c52"/>
<rect x="150.33" y="456.20" width="15.75" height="2.02" fill="#092b09"/>
<rect x="150.33" y="458.17" width="15.75" height="2.02" fill="#0b4709"/>
<rect x="150.33" y="460.13" width="15.75" height="2.02" fill="#0a4d09"/>
<rect x="150.33" y="462.10" width="15.75" height="2.02" fill="#0c8509"/>
<rect x="150.33" y="464.07" width="15.75" height="2.02" fill="#082e09"/>
<rect x="150.33" y="466.03" width="15.75" height="2.02" fill="#537246"/>
<rect x="150.33" y="468.00" width="15.75" height="2.02" fill="#608749"/>
<rect x="150.33" y="469.97" width="15.75" height="2.02" fill="#80a966"/>
<rect x="150.33" y="471.93" width="15.75" height="2.02" fill="#065f09"/>
<rect x="150.33" y="473.90" width="15.75" height="2.02" fill="#066e09"/>
<rect x="150.33" y="475.87" width="15.75" height="2.02" fill="#069409"/>
<rect x="150.33" y="477.83" width="15.75" height="2.02" fill="#5b6e46"/>
<rect x="150.33" y="479.80" width="15.75" height="2.02" fill="#066809"/>
<rect x="150.33" y="481.77" width="15.75" height="2.02" fill="#064609"/>
<rect x="150.33" y="483.73" width="15.75" height="2.02" fill="#07a009"/>
<rect x="150.33" y="485.70" width="15.75" height="2.02" fill="#499842"/>
<rect x="150.33" y="487.67" width="15.75" height="2.02" fill="#079609"/>
<rect x="150.33" y="489.63" width="15.75" height="2.02" fill="#76a063"/>
<rect x="150.33" y="491.60" width="15.75" height="2.02" fill="#598a4f"/>
<rect x="150.33" y="493.57" width="15.75" height="2.02" fill="#76b15c"/>
<rect x="150.33" y="495.53" width="15.75" height="4.02" fill="#074d09"/>
<rect x="166.03" y="330.30" width="15.75" height="4.02" fill="#024b05"/>
<rect x="166.03" y="334.27" width="15.75" height="2.02" fill="#029d05"/>
<rect x="166.03" y="336.23" width="15.75" height="2.02" fill="#025505"/>
<rect x="166.03" y="338.20" width="15.75" height="2.02" fill="#029505"/>
<rect x="166.03" y="340.17" width="15.75" height="2.02" fill="#025e05"/>
<rect x="166.03" y="342.13" width="15.75" height="2.02" fill="#028405"/>
<rect x="166.03" y="344.10" width="15.75" height="2.02" fill="#025905"/>
<rect x="166.03" y="346.07" width="15.75" height="2.02" fill="#026105"/>
<rect x="166.03" y="348.03" width="15.75" height="2.02" fill="#025505"/>
<rect x="166.03" y="350.00" width="15.75" height="2.02" fill="#023c05"/>
<rect x="166.03" y="351.97" width="15.75" height="2.02" fill="#022e05"/>
<rect x="166.03" y="353.93" width="15.75" height="2.02" fill="#028205"/>
<rect x="166.03" y="355.90" width="15.75" height="2.02" fill="#023a05"/>
<rect x="166.03" y="357.87" width="15.75" height="2.02" fill="#023405"/>
<rect x="166.03" y="359.83" width="15.75" height="2.02" fill="#025205"/>
<rect x="166.03" y="361.80" width="15.75" height="2.02" fill="#032006"/>
<rect x="166.03" y="363.77" width="15.75" height="2.02" fill="#039006"/>
<rect x="166.03" y="365.73" width="15.75" height="2.02" fill="#034406"/>
<rect x="166.03" y="367.70" width="15.75" height="2.02" fill="#048b06"/>
<rect x="166.03" y="369.67" width="15.75" height="2.02" fill="#045807"/>
<rect x="166.03" y="371.63" width="15.75" height="2.02" fill="#044307"/>
<rect x="166.03" y="373.60" width="15.75" height="2.02" fill="#046507"/>
<rect x="166.03" y="375.57" width="15.75" height="2.02" fill="#043d07"/>
<rect x="166.03" y="377.53" width="15.75" height="2.02" fill="#578049"/>
<rect x="166.03" y="379.50" width="15.75" height="2.02" fill="#046c06"/>
<rect x="166.03" y="381.47" width="15.75" height="2.02" fill="#038006"/>
<rect x="166.03" y="383.43" width="15.75" height="2.02" fill="#033a06"/>
<rect x="166.03" y="385.40" width="15.75" height="2.02" fill="#038d05"/>
<rect x="166.03" y="387.37" width="15.75" height="2.02" fill="#022805"/>
<rect x="166.03" y="389.33" width="15.75" height="2.02" fill="#024d05"/>
<rect x="166.03" y="391.30" width="15.75" height="2.02" fill="#032705"/>
<rect x="166.03" y="393.27" width="15.75" height="2.02" fill="#035405"/>
<rect x="166.03" y="395.23" width="15.75" height="2.02" fill="#032406"/>
<rect x="166.03" y="397.20" width="15.75" height="2.02" fill="#036506"/>
<rect x="166.03" y="399.17" width="15.75" height="2.02" fill="#042a06"/>
<rect x="166.03" y="401.13" width="15.75" height="2.02" fill="#55944e"/>
<rect x="166.03" y="403.10" width="15.75" height="2.02" fill="#046407"/>
<rect x="166.03" y="405.07" width="15.75" height="2.02" fill="#043007"/>
<rect x="166.03" y="407.03" width="15.75" height="2.02" fill="#048107"/>
<rect x="166.03" y="409.00" width="15.75" height="2.02" fill="#049307"/>
<rect x="166.03" y="410.97" width="15.75" height="2.02" fill="#048a07"/>
<rect x="166.03" y="412.93" width="15.75" height="2.02" fill="#047807"/>
<rect x="166.03" y="414.90" width="15.75" height="2.02" fill="#047307"/>
<rect x="166.03" y="416.87" width="15.75" height="2.02" fill="#80ba68"/>
<rect x="166.03" y="418.83" width="15.75" height="2.02" fill="#6ea85d"/>
<rect x="166.03" y="420.80" width="15.75" height="2.02" fill="#045007"/>
<rect x="166.03" y="422.77" width="15.75" height="2.02" fill="#04a907"/>
<rect x="166.03" y="424.73" width="15.75" height="2.02" fill="#046007"/>
<rect x="166.03" y="426.70" width="15.75" height="2.02" fill="#046707"/>
<rect x="166.03" y="428.67" width="15.75" height="2.02" fill="#04ac07"/>
<rect x="166.03" y="430.63" width="15.75" height="2.02" fill="#047807"/>
<rect x="166.03" y="432.60" width="15.75" height="2.02" fill="#049907"/>
<rect x="166.03" y="434.57" width="15.75" height="2.02" fill="#048807"/>
<rect x="166.03" y="436.53" width="15.75" height="2.02" fill="#04a407"/>
<rect x="166.03" y="438.50" width="15.75" height="2.02" fill="#4e9846"/>
<rect x="166.03" y="440.47" width="15.75" height="2.02" fill="#056c07"/>
<rect x="166.03" y="442.43" width="15.75" height="2.02" fill="#057107"/>
<rect x="166.03" y="444.40" width="15.75" height="2.02" fill="#05b008"/>
<rect x="166.03" y="446.37" width="15.75" height="2.02" fill="#056508"/>
<rect x="166.03" y="448.33" width="15.75" height="2.02" fill="#057b08"/>
<rect x="166.03" y="450.30" width="15.75" height="2.02" fill="#81b571"/>
<rect x="166.03" y="452.27" width="15.75" height="2.02" fill="#74aa65"/>
<rect x="166.03" y="454.23" width="15.75" height="2.02" fill="#889768"/>
<rect x="166.03" y="456.20" width="15.75" height="2.02" fill="#06ab09"/>
<rect x="166.03" y="458.17" width="15.75" height="2.02" fill="#078e09"/>
<rect x="166.03" y="460.13" width="15.75" height="2.02" fill="#077409"/>
<rect x="166.03" y="462.10" width="15.75" height="2.02" fill="#5eb152"/>
<rect x="166.03" y="464.07" width="15.75" height="2.02" fill="#089f0a"/>
<rect x="166.03" y="466.03" width="15.75" height="2.02" fill="#08b80b"/>
<rect x="166.03" y="468.00" width="15.75" height="2.02" fill="#8ab26c"/>
<rect x="166.03" y="469.97" width="15.75" height="2.02" fill="#82b96d"/>
<rect x="166.03" y="471.93" width="15.75" height="2.02" fill="#09a70c"/>
<rect x="166.03" y="473.90" width="15.75" height="2.02" fill="#09720c"/>
<rect x="166.03" y="475.87" width="15.75" height="2.02" fill="#09860c"/>
<rect x="166.03" y="477.83" width="15.75" height="2.02" fill="#7fb970"/>
<rect x="166.03" y="479.80" width="15.75" height="2.02" fill="#09880c"/>
<rect x="166.03" y="481.77" width="15.75" height="2.02" fill="#09250c"/>
<rect x="166.03" y="483.73" width="15.75" height="2.02" fill="#09440c"/>
<rect x="166.03" y="485.70" width="15.75" height="2.02" fill="#09770c"/>
<rect x="166.03" y="487.67" width="15.75" height="2.02" fill="#09280c"/>
<rect x="166.03" y="489.63" width="15.75" height="2.02" fill="#72a062"/>
<rect x="166.03" y="491.60" width="15.75" height="2.02" fill="#5c8248"/>
<rect x="166.03" y="493.57" width="15.75" height="2.02" fill="#09700c"/>
<rect x="166.03" y="495.53" width="15.75" height="4.02" fill="#09a70c"/>
<rect x="181.73" y="330.30" width="15.75" height="4.02" fill="#021905"/>
<rect x="181.73" y="334.27" width="15.75" height="2.02" fill="#026005"/>
<rect x="181.73" y="336.23" width="15.75" height="2.02" fill="#021b05"/>
<rect x="181.73" y="338.20" width="15.75" height="2.02" fill="#026605"/>
<rect x="181.73" y="340.17" width="15.75" height="2.02" fill="#025705"/>
<rect x="181.73" y="342.13" width="15.75" height="2.02" fill="#026805"/>
<rect x="181.73" y="344.10" width="15.75" height="2.02" fill="#023105"/>
<rect x="181.73" y="346.07" width="15.75" height="2.02" fill="#023e05"/>
<rect x="181.73" y="348.03" width="15.75" height="2.02" fill="#032606"/>
<rect x="181.73" y="350.00" width="15.75" height="2.02" fill="#032c06"/>
<rect x="181.73" y="351.97" width="15.75" height="2.02" fill="#035d06"/>
<rect x="181.73" y="353.93" width="15.75" height="2.02" fill="#032f06"/>
<rect x="181.73" y="355.90" width="15.75" height="2.02" fill="#568e4a"/>
<rect x="181.73" y="357.87" width="15.75" height="2.02" fill="#045e06"/>
<rect x="181.73" y="359.83" width="15.75" height="2.02" fill="#042706"/>
<rect x="181.73" y="361.80" width="15.75" height="2.02" fill="#035e06"/>
<rect x="181.73" y="363.77" width="15.75" height="2.02" fill="#036706"/>
<rect x="181.73" y="365.73" width="15.75" height="2.02" fill="#032606"/>
<rect x="181.73" y="367.70" width="15.75" height="2.02" fill="#037306"/>
<rect x="181.73" y="369.67" width="15.75" height="2.02" fill="#032c06"/>
<rect x="181.73" y="371.63" width="15.75" height="2.02" fill="#034a06"/>
<rect x="181.73" y="373.60" width="15.75" height="2.02" fill="#034006"/>
<rect x="181.73" y="375.57" width="15.75" height="2.02" fill="#80b46e"/>
<rect x="181.73" y="377.53" width="15.75" height="2.02" fill="#033406"/>
<rect x="181.73" y="379.50" width="15.75" height="2.02" fill="#045906"/>
<rect x="181.73" y="381.47" width="15.75" height="2.02" fill="#047306"/>
<rect x="181.73" y="383.43" width="15.75" height="2.02" fill="#548d4c"/>
<rect x="181.73" y="385.40" width="15.75" height="2.02" fill="#538144"/>
<rect x="181.73" y="387.37" width="15.75" height="2.02" fill="#047d07"/>
<rect x="181.73" y="389.33" width="15.75" height="2.02" fill="#059607"/>
<rect x="181.73" y="391.30" width="15.75" height="2.02" fill="#052707"/>
<rect x="181.73" y="393.27" width="15.75" height="2.02" fill="#056a08"/>
<rect x="181.73" y="395.23" width="15.75" height="2.02" fill="#063308"/>
<rect x="181.73" y="397.20" width="15.75" height="2.02" fill="#065309"/>
<rect x="181.73" y="399.17" width="15.75" height="2.02" fill="#065909"/>
<rect x="181.73" y="401.13" width="15.75" height="2.02" fill="#074609"/>
<rect x="181.73" y="403.10" width="15.75" height="2.02" fill="#5b8f53"/>
<rect x="181.73" y="405.07" width="15.75" height="2.02" fill="#07a20a"/>
<rect x="181.73" y="407.03" width="15.75" height="2.02" fill="#758c5f"/>
<rect x="181.73" y="409.00" width="15.75" height="2.02" fill="#0aa80a"/>
<rect x="181.73" y="410.97" width="15.75" height="2.02" fill="#5e774e"/>
<rect x="181.73" y="412.93" width="15.75" height="2.02" fill="#0a470a"/>
<rect x="181.73" y="414.90" width="15.75" height="2.02" fill="#0d740a"/>
<rect x="181.73" y="416.87" width="15.75" height="2.02" fill="#09200a"/>
<rect x="181.73" y="418.83" width="15.75" height="2.02" fill="#0a2709"/>
<rect x="181.73" y="420.80" width="15.75" height="2.02" fill="#0f5e09"/>
<rect x="181.73" y="422.77" width="15.75" height="2.02" fill="#899d66"/>
<rect x="181.73" y="424.73" width="15.75" height="2.02" fill="#94996f"/>
<rect x="181.73" y="426.70" width="15.75" height="2.02" fill="#568046"/>
<rect x="181.73" y="428.67" width="15.75" height="2.02" fill="#0f490a"/>
<rect x="181.73" y="430.63" width="15.75" height="2.02" fill="#0f4c0a"/>
<rect x="181.73" y="432.60" width="15.75" height="2.02" fill="#5e7048"/>
<rect x="181.73" y="434.57" width="15.75" height="2.02" fill="#15810a"/>
<rect x="181.73" y="436.53" width="15.75" height="2.02" fill="#6c8a56"/>
<rect x="181.73" y="438.50" width="15.75" height="2.02" fill="#779c66"/>
<rect x="181.73" y="440.47" width="15.75" height="2.02" fill="#747f5b"/>
<rect x="181.73" y="442.43" width="15.75" height="2.02" fill="#778c58"/>
<rect x="181.73" y="444.40" width="15.75" height="2.02" fill="#13420c"/>
<rect x="181.73" y="446.37" width="15.75" height="2.02" fill="#1a620c"/>
<rect x="181.73" y="448.33" width="15.75" height="2.02" fill="#676b4f"/>
<rect x="181.73" y="450.30" width="15.75" height="2.02" fill="#759a63"/>
<rect x="181.73" y="452.27" width="15.75" height="2.02" fill="#68734c"/>
<rect x="181.73" y="454.23" width="15.75" height="2.02" fill="#5a794c"/>
<rect x="181.73" y="456.20" width="15.75" height="2.02" fill="#214d0d"/>
<rect x="181.73" y="458.17" width="15.75" height="2.02" fill="#204b0d"/>
<rect x="181.73" y="460.13" width="15.75" height="2.02" fill="#1f490d"/>
<rect x="181.73" y="462.10" width="15.75" height="2.02" fill="#101b0d"/>
<rect x="181.73" y="464.07" width="15.75" height="2.02" fill="#214e0d"/>
<rect x="181.73" y="466.03" width="15.75" height="2.02" fill="#255b0d"/>
<rect x="181.73" y="468.00" width="15.75" height="2.02" fill="#204b0d"/>
<rect x="181.73" y="469.97" width="15.75" height="2.02" fill="#737453"/>
<rect x="181.73" y="471.93" width="15.75" height="2.02" fill="#13230d"/>
<rect x="181.73" y="473.90" width="15.75" height="2.02" fill="#626749"/>
<rect x="181.73" y="475.87" width="15.75" height="2.02" fill="#245e0c"/>
<rect x="181.73" y="477.83" width="15.75" height="2.02" fill="#72885a"/>
<rect x="181.73" y="479.80" width="15.75" height="2.02" fill="#58734b"/>
<rect x="181.73" y="481.77" width="15.75" height="2.02" fill="#10220b"/>
<rect x="181.73" y="483.73" width="15.75" height="2.02" fill="#20600b"/>
<rect x="181.73" y="485.70" width="15.75" height="2.02" fill="#122f0b"/>
<rect x="181.73" y="487.67" width="15.75" height="2.02" fill="#194e0a"/>
<rect x="181.73" y="489.63" width="15.75" height="2.02" fill="#637145"/>
<rect x="181.73" y="491.60" width="15.75" height="2.02" fill="#799460"/>
<rect x="181.73" y="493.57" width="15.75" height="2.02" fill="#112c0a"/>
<rect x="181.73" y="495.53" width="15.75" height="4.02" fill="#0e210a"/>
<rect x="197.44" y="330.30" width="15.75" height="4.02" fill="#021c04"/>
<rect x="197.44" y="334.27" width="15.75" height="2.02" fill="#022304"/>
<rect x="197.44" y="336.23" width="15.75" height="2.02" fill="#024b04"/>
<rect x="197.44" y="338.20" width="15.75" height="2.02" fill="#022504"/>
<rect x="197.44" y="340.17" width="15.75" height="2.02" fill="#024904"/>
<rect x="197.44" y="342.13" width="15.75" height="2.02" fill="#022904"/>
<rect x="197.44" y="344.10" width="15.75" height="2.02" fill="#021f04"/>
<rect x="197.44" y="346.07" width="15.75" height="2.02" fill="#021904"/>
<rect x="197.44" y="348.03" width="15.75" height="2.02" fill="#022104"/>
<rect x="197.44" y="350.00" width="15.75" height="2.02" fill="#021c04"/>
<rect x="197.44" y="351.97" width="15.75" height="2.02" fill="#022104"/>
<rect x="197.44" y="353.93" width="15.75" height="2.02" fill="#023c04"/>
<rect x="197.44" y="355.90" width="15.75" height="2.02" fill="#023b04"/>
<rect x="197.44" y="357.87" width="15.75" height="2.02" fill="#022604"/>
<rect x="197.44" y="359.83" width="15.75" height="2.02" fill="#022004"/>
<rect x="197.44" y="361.80" width="15.75" height="2.02" fill="#023004"/>
<rect x="197.44" y="363.77" width="15.75" height="2.02" fill="#022b04"/>
<rect x="197.44" y="365.73" width="15.75" height="2.02" fill="#023704"/>
<rect x="197.44" y="367.70" width="15.75" height="2.02" fill="#023204"/>
<rect x="197.44" y="369.67" width="15.75" height="2.02" fill="#023204"/>
<rect x="197.44" y="371.63" width="15.75" height="2.02" fill="#022504"/>
<rect x="197.44" y="373.60" width="15.75" height="2.02" fill="#021d04"/>
<rect x="197.44" y="375.57" width="15.75" height="2.02" fill="#022e04"/>
<rect x="197.44" y="377.53" width="15.75" height="2.02" fill="#021504"/>
<rect x="197.44" y="379.50" width="15.75" height="2.02" fill="#021e04"/>
<rect x="197.44" y="381.47" width="15.75" height="2.02" fill="#023404"/>
<rect x="197.44" y="383.43" width="15.75" height="2.02" fill="#023605"/>
<rect x="197.44" y="385.40" width="15.75" height="2.02" fill="#024305"/>
<rect x="197.44" y="387.37" width="15.75" height="2.02" fill="#024b05"/>
<rect x="197.44" y="389.33" width="15.75" height="2.02" fill="#024f05"/>
<rect x="197.44" y="391.30" width="15.75" height="2.02" fill="#024305"/>
<rect x="197.44" y="393.27" width="15.75" height="2.02" fill="#023605"/>
<rect x="197.44" y="395.23" width="15.75" height="2.02" fill="#024d05"/>
<rect x="197.44" y="397.20" width="15.75" height="2.02" fill="#026405"/>
<rect x="197.44" y="399.17" width="15.75" height="2.02" fill="#024105"/>
<rect x="197.44" y="401.13" width="15.75" height="2.02" fill="#021505"/>
<rect x="197.44" y="403.10" width="15.75" height="2.02" fill="#024905"/>
<rect x="197.44" y="405.07" width="15.75" height="2.02" fill="#025105"/>
<rect x="197.44" y="407.03" width="15.75" height="2.02" fill="#024205"/>
<rect x="197.44" y="409.00" width="15.75" height="2.02" fill="#031f05"/>
<rect x="197.44" y="410.97" width="15.75" height="2.02" fill="#033806"/>
<rect x="197.44" y="412.93" width="15.75" height="2.02" fill="#032606"/>
<rect x="197.44" y="414.90" width="15.75" height="2.02" fill="#042906"/>
<rect x="197.44" y="416.87" width="15.75" height="2.02" fill="#045706"/>
<rect x="197.44" y="418.83" width="15.75" height="2.02" fill="#61a659"/>
<rect x="197.44" y="420.80" width="15.75" height="2.02" fill="#048607"/>
<rect x="197.44" y="422.77" width="15.75" height="2.02" fill="#719a5f"/>
<rect x="197.44" y="424.73" width="15.75" height="2.02" fill="#042e07"/>
<rect x="197.44" y="426.70" width="15.75" height="2.02" fill="#047107"/>
<rect x="197.44" y="428.67" width="15.75" height="2.02" fill="#044e07"/>
<rect x="197.44" y="430.63" width="15.75" height="2.02" fill="#043507"/>
<rect x="197.44" y="432.60" width="15.75" height="2.02" fill="#042307"/>
<rect x="197.44" y="434.57" width="15.75" height="2.02" fill="#044707"/>
<rect x="197.44" y="436.53" width="15.75" height="2.02" fill="#044d07"/>
<rect x="197.44" y="438.50" width="15.75" height="2.02" fill="#044407"/>
<rect x="197.44" y="440.47" width="15.75" height="2.02" fill="#047107"/>
<rect x="197.44" y="442.43" width="15.75" height="2.02" fill="#047807"/>
<rect x="197.44" y="444.40" width="15.75" height="2.02" fill="#044207"/>
<rect x="197.44" y="446.37" width="15.75" height="2.02" fill="#62a155"/>
<rect x="197.44" y="448.33" width="15.75" height="2.02" fill="#045307"/>
<rect x="197.44" y="450.30" width="15.75" height="2.02" fill="#045907"/>
<rect x="197.44" y="452.27" width="15.75" height="2.02" fill="#049907"/>
<rect x="197.44" y="454.23" width="15.75" height="2.02" fill="#576d44"/>
<rect x="197.44" y="456.20" width="15.75" height="2.02" fill="#052e07"/>
<rect x="197.44" y="458.17" width="15.75" height="2.02" fill="#058407"/>
<rect x="197.44" y="460.13" width="15.75" height="2.02" fill="#052507"/>
<rect x="197.44" y="462.10" width="15.75" height="2.02" fill="#055807"/>
<rect x="197.44" y="464.07" width="15.75" height="2.02" fill="#057c07"/>
<rect x="197.44" y="466.03" width="15.75" height="2.02" fill="#83ac6d"/>
<rect x="197.44" y="468.00" width="15.75" height="2.02" fill="#547546"/>
<rect x="197.44" y="469.97" width="15.75" height="2.02" fill="#054608"/>
<rect x="197.44" y="471.93" width="15.75" height="2.02" fill="#053f08"/>
<rect x="197.44" y="473.90" width="15.75" height="2.02" fill="#066808"/>
<rect x="197.44" y="475.87" width="15.75" height="2.02" fill="#087008"/>
<rect x="197.44" y="477.83" width="15.75" height="2.02" fill="#084108"/>
<rect x="197.44" y="479.80" width="15.75" height="2.02" fill="#0a6309"/>
<rect x="197.44" y="481.77" width="15.75" height="2.02" fill="#4e7346"/>
<rect x="197.44" y="483.73" width="15.75" height="2.02" fill="#093809"/>
<rect x="197.44" y="485.70" width="15.75" height="2.02" fill="#8b9e67"/>
<rect x="197.44" y="487.67" width="15.75" height="2.02" fill="#0d4f09"/>
<rect x="197.44" y="489.63" width="15.75" height="2.02" fill="#149909"/>
<rect x="197.44" y="491.60" width="15.75" height="2.02" fill="#60794e"/>
<rect x="197.44" y="493.57" width="15.75" height="2.02" fill="#0f5c09"/>
<rect x="197.44" y="495.53" width="15.75" height="4.02" fill="#0f5f09"/>
<rect x="213.14" y="330.30" width="15.75" height="4.02" fill="#092006"/>
<rect x="213.14" y="334.27" width="15.75" height="2.02" fill="#091f06"/>
<rect x="213.14" y="336.23" width="15.75" height="2.02" fill="#0f3b06"/>
<rect x="213.14" y="338.20" width="15.75" height="2.02" fill="#0a2306"/>
<rect x="213.14" y="340.17" width="15.75" height="2.02" fill="#667152"/>
<rect x="213.14" y="342.13" width="15.75" height="2.02" fill="#0a2b06"/>
<rect x="213.14" y="344.10" width="15.75" height="2.02" fill="#061406"/>
<rect x="213.14" y="346.07" width="15.75" height="2.02" fill="#072405"/>
<rect x="213.14" y="348.03" width="15.75" height="2.02" fill="#061f05"/>
<rect x="213.14" y="350.00" width="15.75" height="2.02" fill="#041505"/>
<rect x="213.14" y="351.97" width="15.75" height="2.02" fill="#031605"/>
<rect x="213.14" y="353.93" width="15.75" height="2.02" fill="#4e6245"/>
<rect x="213.14" y="355.90" width="15.75" height="2.02" fill="#021e04"/>
<rect x="213.14" y="357.87" width="15.75" height="2.02" fill="#020b04"/>
<rect x="213.14" y="359.83" width="15.75" height="2.02" fill="#020d04"/>
<rect x="213.14" y="361.80" width="15.75" height="2.02" fill="#021204"/>
<rect x="213.14" y="363.77" width="15.75" height="2.02" fill="#021a04"/>
<rect x="213.14" y="365.73" width="15.75" height="2.02" fill="#023004"/>
<rect x="213.14" y="367.70" width="15.75" height="2.02" fill="#021305"/>
<rect x="213.14" y="369.67" width="15.75" height="2.02" fill="#023205"/>
<rect x="213.14" y="371.63" width="15.75" height="2.02" fill="#022c05"/>
<rect x="213.14" y="373.60" width="15.75" height="2.02" fill="#033605"/>
<rect x="213.14" y="375.57" width="15.75" height="2.02" fill="#044505"/>
<rect x="213.14" y="377.53" width="15.75" height="2.02" fill="#042a05"/>
<rect x="213.14" y="379.50" width="15.75" height="2.02" fill="#031104"/>
<rect x="213.14" y="381.47" width="15.75" height="2.02" fill="#052304"/>
<rect x="213.14" y="383.43" width="15.75" height="2.02" fill="#041804"/>
<rect x="213.14" y="385.40" width="15.75" height="2.02" fill="#072304"/>
<rect x="213.14" y="387.37" width="15.75" height="2.02" fill="#051304"/>
<rect x="213.14" y="389.33" width="15.75" height="2.02" fill="#091e04"/>
<rect x="213.14" y="391.30" width="15.75" height="2.02" fill="#0b2004"/>
<rect x="213.14" y="393.27" width="15.75" height="2.02" fill="#091705"/>
<rect x="213.14" y="395.23" width="15.75" height="2.02" fill="#091205"/>
<rect x="213.14" y="397.20" width="15.75" height="2.02" fill="#0d1a06"/>
<rect x="213.14" y="399.17" width="15.75" height="2.02" fill="#070b06"/>
<rect x="213.14" y="401.13" width="15.75" height="2.02" fill="#786b56"/>
<rect x="213.14" y="403.10" width="15.75" height="2.02" fill="#789266"/>
<rect x="213.14" y="405.07" width="15.75" height="2.02" fill="#2b1207"/>
<rect x="213.14" y="407.03" width="15.75" height="2.02" fill="#5c6148"/>
<rect x="213.14" y="409.00" width="15.75" height="2.02" fill="#0c1b07"/>
<rect x="213.14" y="410.97" width="15.75" height="2.02" fill="#5b6547"/>
<rect x="213.14" y="412.93" width="15.75" height="2.02" fill="#0a2507"/>
<rect x="213.14" y="414.90" width="15.75" height="2.02" fill="#0a3207"/>
<rect x="213.14" y="416.87" width="15.75" height="2.02" fill="#072407"/>
<rect x="213.14" y="418.83" width="15.75" height="2.02" fill="#096707"/>
<rect x="213.14" y="420.80" width="15.75" height="2.02" fill="#066207"/>
<rect x="213.14" y="422.77" width="15.75" height="2.02" fill="#056707"/>
<rect x="213.14" y="424.73" width="15.75" height="2.02" fill="#809d69"/>
<rect x="213.14" y="426.70" width="15.75" height="2.02" fill="#095407"/>
<rect x="213.14" y="428.67" width="15.75" height="2.02" fill="#072507"/>
<rect x="213.14" y="430.63" width="15.75" height="2.02" fill="#0c4307"/>
<rect x="213.14" y="432.60" width="15.75" height="2.02" fill="#0d3f07"/>
<rect x="213.14" y="434.57" width="15.75" height="2.02" fill="#166607"/>
<rect x="213.14" y="436.53" width="15.75" height="2.02" fill="#0c2807"/>
<rect x="213.14" y="438.50" width="15.75" height="2.02" fill="#0d2707"/>
<rect x="213.14" y="440.47" width="15.75" height="2.02" fill="#103108"/>
<rect x="213.14" y="442.43" width="15.75" height="2.02" fill="#608151"/>
<rect x="213.14" y="444.40" width="15.75" height="2.02" fill="#123709"/>
<rect x="213.14" y="446.37" width="15.75" height="2.02" fill="#227509"/>
<rect x="213.14" y="448.33" width="15.75" height="2.02" fill="#1c5d0a"/>
<rect x="213.14" y="450.30" width="15.75" height="2.02" fill="#14380a"/>
<rect x="213.14" y="452.27" width="15.75" height="2.02" fill="#557c47"/>
<rect x="213.14" y="454.23" width="15.75" height="2.02" fill="#8d9369"/>
<rect x="213.14" y="456.20" width="15.75" height="2.02" fill="#122d0c"/>
<rect x="213.14" y="458.17" width="15.75" height="2.02" fill="#19470c"/>
<rect x="213.14" y="460.13" width="15.75" height="2.02" fill="#173c0c"/>
<rect x="213.14" y="462.10" width="15.75" height="2.02" fill="#1f590c"/>
<rect x="213.14" y="464.07" width="15.75" height="2.02" fill="#173a0c"/>
<rect x="213.14" y="466.03" width="15.75" height="2.02" fill="#92a672"/>
<rect x="213.14" y="468.00" width="15.75" height="2.02" fill="#789166"/>
<rect x="213.14" y="469.97" width="15.75" height="2.02" fill="#607c53"/>
<rect x="213.14" y="471.93" width="15.75" height="2.02" fill="#1e4a0c"/>
<rect x="213.14" y="473.90" width="15.75" height="2.02" fill="#5c6849"/>
<rect x="213.14" y="475.87" width="15.75" height="2.02" fill="#1e5b0b"/>
<rect x="213.14" y="477.83" width="15.75" height="2.02" fill="#75935e"/>
<rect x="213.14" y="479.80" width="15.75" height="2.02" fill="#0f260b"/>
<rect x="213.14" y="481.77" width="15.75" height="2.02" fill="#818f5e"/>
<rect x="213.14" y="483.73" width="15.75" height="2.02" fill="#134c0b"/>
<rect x="213.14" y="485.70" width="15.75" height="2.02" fill="#789961"/>
<rect x="213.14" y="487.67" width="15.75" height="2.02" fill="#0b210b"/>
<rect x="213.14" y="489.63" width="15.75" height="2.02" fill="#5f6e49"/>
<rect x="213.14" y="491.60" width="15.75" height="2.02" fill="#0f420b"/>
<rect x="213.14" y="493.57" width="15.75" height="2.02" fill="#5b7844"/>
<rect x="213.14" y="495.53" width="15.75" height="4.02" fill="#178d0b"/>
<rect x="228.84" y="330.30" width="15.75" height="4.02" fill="#021604"/>
<rect x="228.84" y="334.27" width="15.75" height="2.02" fill="#022804"/>
<rect x="228.84" y="336.23" width="15.75" height="2.02" fill="#023d04"/>
<rect x="228.84" y="338.20" width="15.75" height="2.02" fill="#022804"/>
<rect x="228.84" y="340.17" width="15.75" height="2.02" fill="#021e04"/>
<rect x="228.84" y="342.13" width="15.75" height="2.02" fill="#022d04"/>
<rect x="228.84" y="344.10" width="15.75" height="2.02" fill="#023304"/>
<rect x="228.84" y="346.07" width="15.75" height="2.02" fill="#022705"/>
<rect x="228.84" y="348.03" width="15.75" height="2.02" fill="#021305"/>
<rect x="228.84" y="350.00" width="15.75" height="2.02" fill="#023405"/>
<rect x="228.84" y="351.97" width="15.75" height="2.02" fill="#032705"/>
<rect x="228.84" y="353.93" width="15.75" height="2.02" fill="#033105"/>
<rect x="228.84" y="355.90" width="15.75" height="2.02" fill="#032606"/>
<rect x="228.84" y="357.87" width="15.75" height="2.02" fill="#031d06"/>
<rect x="228.84" y="359.83" width="15.75" height="2.02" fill="#838865"/>
<rect x="228.84" y="361.80" width="15.75" height="2.02" fill="#041806"/>
<rect x="228.84" y="363.77" width="15.75" height="2.02" fill="#043306"/>
<rect x="228.84" y="365.73" width="15.75" height="2.02" fill="#042406"/>
<rect x="228.84" y="367.70" width="15.75" height="2.02" fill="#041407"/>
<rect x="228.84" y="369.67" width="15.75" height="2.02" fill="#042007"/>
<rect x="228.84" y="371.63" width="15.75" height="2.02" fill="#042507"/>
<rect x="228.84" y="373.60" width="15.75" height="2.02" fill="#042407"/>
<rect x="228.84" y="375.57" width="15.75" height="2.02" fill="#7e8964"/>
<rect x="228.84" y="377.53" width="15.75" height="2.02" fill="#041507"/>
<rect x="228.84" y="379.50" width="15.75" height="2.02" fill="#043707"/>
<rect x="228.84" y="381.47" width="15.75" height="2.02" fill="#041507"/>
<rect x="228.84" y="383.43" width="15.75" height="2.02" fill="#808263"/>
<rect x="228.84" y="385.40" width="15.75" height="2.02" fill="#79835e"/>
<rect x="228.84" y="387.37" width="15.75" height="2.02" fill="#041e06"/>
<rect x="228.84" y="389.33" width="15.75" height="2.02" fill="#041f06"/>
<rect x="228.84" y="391.30" width="15.75" height="2.02" fill="#8c956e"/>
<rect x="228.84" y="393.27" width="15.75" height="2.02" fill="#051607"/>
<rect x="228.84" y="395.23" width="15.75" height="2.02" fill="#083f07"/>
<rect x="228.84" y="397.20" width="15.75" height="2.02" fill="#093707"/>
<rect x="228.84" y="399.17" width="15.75" height="2.02" fill="#0a3207"/>
<rect x="228.84" y="401.13" width="15.75" height="2.02" fill="#919070"/>
<rect x="228.84" y="403.10" width="15.75" height="2.02" fill="#7c7a5d"/>
<rect x="228.84" y="405.07" width="15.75" height="2.02" fill="#081108"/>
<rect x="228.84" y="407.03" width="15.75" height="2.02" fill="#113d08"/>
<rect x="228.84" y="409.00" width="15.75" height="2.02" fill="#0d3808"/>
<rect x="228.84" y="410.97" width="15.75" height="2.02" fill="#748761"/>
<rect x="228.84" y="412.93" width="15.75" height="2.02" fill="#093007"/>
<rect x="228.84" y="414.90" width="15.75" height="2.02" fill="#094307"/>
<rect x="228.84" y="416.87" width="15.75" height="2.02" fill="#7f9469"/>
<rect x="228.84" y="418.83" width="15.75" height="2.02" fill="#5e714e"/>
<rect x="228.84" y="420.80" width="15.75" height="2.02" fill="#051b07"/>
<rect x="228.84" y="422.77" width="15.75" height="2.02" fill="#71915d"/>
<rect x="228.84" y="424.73" width="15.75" height="2.02" fill="#5d814f"/>
<rect x="228.84" y="426.70" width="15.75" height="2.02" fill="#056b07"/>
<rect x="228.84" y="428.67" width="15.75" height="2.02" fill="#053d07"/>
<rect x="228.84" y="430.63" width="15.75" height="2.02" fill="#054c07"/>
<rect x="228.84" y="432.60" width="15.75" height="2.02" fill="#055008"/>
<rect x="228.84" y="434.57" width="15.75" height="2.02" fill="#058a08"/>
<rect x="228.84" y="436.53" width="15.75" height="2.02" fill="#56834d"/>
<rect x="228.84" y="438.50" width="15.75" height="2.02" fill="#055d08"/>
<rect x="228.84" y="440.47" width="15.75" height="2.02" fill="#73ac68"/>
<rect x="228.84" y="442.43" width="15.75" height="2.02" fill="#087408"/>
<rect x="228.84" y="444.40" width="15.75" height="2.02" fill="#508042"/>
<rect x="228.84" y="446.37" width="15.75" height="2.02" fill="#7ec171"/>
<rect x="228.84" y="448.33" width="15.75" height="2.02" fill="#0a430a"/>
<rect x="228.84" y="450.30" width="15.75" height="2.02" fill="#5e7c46"/>
<rect x="228.84" y="452.27" width="15.75" height="2.02" fill="#8ab270"/>
<rect x="228.84" y="454.23" width="15.75" height="2.02" fill="#136f0b"/>
<rect x="228.84" y="456.20" width="15.75" height="2.02" fill="#0d300b"/>
<rect x="228.84" y="458.17" width="15.75" height="2.02" fill="#0e320b"/>
<rect x="228.84" y="460.13" width="15.75" height="2.02" fill="#5d6146"/>
<rect x="228.84" y="462.10" width="15.75" height="2.02" fill="#13440a"/>
<rect x="228.84" y="464.07" width="15.75" height="2.02" fill="#6c8a57"/>
<rect x="228.84" y="466.03" width="15.75" height="2.02" fill="#768f60"/>
<rect x="228.84" y="468.00" width="15.75" height="2.02" fill="#81ac70"/>
<rect x="228.84" y="469.97" width="15.75" height="2.02" fill="#76855c"/>
<rect x="228.84" y="471.93" width="15.75" height="2.02" fill="#193d0a"/>
<rect x="228.84" y="473.90" width="15.75" height="2.02" fill="#0c1a0a"/>
<rect x="228.84" y="475.87" width="15.75" height="2.02" fill="#0e290a"/>
<rect x="228.84" y="477.83" width="15.75" height="2.02" fill="#0b1e09"/>
<rect x="228.84" y="479.80" width="15.75" height="2.02" fill="#68704d"/>
<rect x="228.84" y="481.77" width="15.75" height="2.02" fill="#0a2609"/>
<rect x="228.84" y="483.73" width="15.75" height="2.02" fill="#082809"/>
<rect x="228.84" y="485.70" width="15.75" height="2.02" fill="#7c8f5f"/>
<rect x="228.84" y="487.67" width="15.75" height="2.02" fill="#076709"/>
<rect x="228.84" y="489.63" width="15.75" height="2.02" fill="#628550"/>
<rect x="228.84" y="491.60" width="15.75" height="2.02" fill="#5e714d"/>
<rect x="228.84" y="493.57" width="15.75" height="2.02" fill="#066b09"/>
<rect x="228.84" y="495.53" width="15.75" height="4.02" fill="#068d09"/>
<rect x="244.55" y="330.30" width="15.75" height="4.02" fill="#021804"/>
<rect x="244.55" y="334.27" width="15.75" height="2.02" fill="#020e04"/>
<rect x="244.55" y="336.23" width="15.75" height="2.02" fill="#021e04"/>
<rect x="244.55" y="338.20" width="15.75" height="2.02" fill="#022b04"/>
<rect x="244.55" y="340.17" width="15.75" height="2.02" fill="#022804"/>
<rect x="244.55" y="342.13" width="15.75" height="2.02" fill="#022d04"/>
<rect x="244.55" y="344.10" width="15.75" height="2.02" fill="#021b05"/>
<rect x="244.55" y="346.07" width="15.75" height="2.02" fill="#021505"/>
<rect x="244.55" y="348.03" width="15.75" height="2.02" fill="#032d05"/>
<rect x="244.55" y="350.00" width="15.75" height="2.02" fill="#034e05"/>
<rect x="244.55" y="351.97" width="15.75" height="2.02" fill="#033906"/>
<rect x="244.55" y="353.93" width="15.75" height="2.02" fill="#033906"/>
<rect x="244.55" y="355.90" width="15.75" height="2.02" fill="#043506"/>
<rect x="244.55" y="357.87" width="15.75" height="2.02" fill="#042706"/>
<rect x="244.55" y="359.83" width="15.75" height="2.02" fill="#054a06"/>
<rect x="244.55" y="361.80" width="15.75" height="2.02" fill="#041d06"/>
<rect x="244.55" y="363.77" width="15.75" height="2.02" fill="#074806"/>
<rect x="244.55" y="365.73" width="15.75" height="2.02" fill="#084605"/>
<rect x="244.55" y="367.70" width="15.75" height="2.02" fill="#083805"/>
<rect x="244.55" y="369.67" width="15.75" height="2.02" fill="#072f05"/>
<rect x="244.55" y="371.63" width="15.75" height="2.02" fill="#093705"/>
<rect x="244.55" y="373.60" width="15.75" height="2.02" fill="#082a05"/>
<rect x="244.55" y="375.57" width="15.75" height="2.02" fill="#051405"/>
<rect x="244.55" y="377.53" width="15.75" height="2.02" fill="#093205"/>
<rect x="244.55" y="379.50" width="15.75" height="2.02" fill="#082605"/>
<rect x="244.55" y="381.47" width="15.75" height="2.02" fill="#082c05"/>
<rect x="244.55" y="383.43" width="15.75" height="2.02" fill="#051305"/>
<rect x="244.55" y="385.40" width="15.75" height="2.02" fill="#093105"/>
<rect x="244.55" y="387.37" width="15.75" height="2.02" fill="#072105"/>
<rect x="244.55" y="389.33" width="15.75" height="2.02" fill="#0e4e06"/>
<rect x="244.55" y="391.30" width="15.75" height="2.02" fill="#0b3906"/>
<rect x="244.55" y="393.27" width="15.75" height="2.02" fill="#082206"/>
<rect x="244.55" y="395.23" width="15.75" height="2.02" fill="#081f06"/>
<rect x="244.55" y="397.20" width="15.75" height="2.02" fill="#071a06"/>
<rect x="244.55" y="399.17" width="15.75" height="2.02" fill="#0d3c06"/>
<rect x="244.55" y="401.13" width="15.75" height="2.02" fill="#747858"/>
<rect x="244.55" y="403.10" width="15.75" height="2.02" fill="#104a07"/>
<rect x="244.55" y="405.07" width="15.75" height="2.02" fill="#0a2907"/>
<rect x="244.55" y="407.03" width="15.75" height="2.02" fill="#948f6e"/>
<rect x="244.55" y="409.00" width="15.75" height="2.02" fill="#0a2208"/>
<rect x="244.55" y="410.97" width="15.75" height="2.02" fill="#0d3808"/>
<rect x="244.55" y="412.93" width="15.75" height="2.02" fill="#0a2309"/>
<rect x="244.55" y="414.90" width="15.75" height="2.02" fill="#7b9365"/>
<rect x="244.55" y="416.87" width="15.75" height="2.02" fill="#707b53"/>
<rect x="244.55" y="418.83" width="15.75" height="2.02" fill="#779a62"/>
<rect x="244.55" y="420.80" width="15.75" height="2.02" fill="#11550a"/>
<rect x="244.55" y="422.77" width="15.75" height="2.02" fill="#80b170"/>
<rect x="244.55" y="424.73" width="15.75" height="2.02" fill="#0c370a"/>
<rect x="244.55" y="426.70" width="15.75" height="2.02" fill="#0a270a"/>
<rect x="244.55" y="428.67" width="15.75" height="2.02" fill="#0b4b0a"/>
<rect x="244.55" y="430.63" width="15.75" height="2.02" fill="#0b6e0a"/>
<rect x="244.55" y="432.60" width="15.75" height="2.02" fill="#518948"/>
<rect x="244.55" y="434.57" width="15.75" height="2.02" fill="#096e09"/>
<rect x="244.55" y="436.53" width="15.75" height="2.02" fill="#6fa461"/>
<rect x="244.55" y="438.50" width="15.75" height="2.02" fill="#78a065"/>
<rect x="244.55" y="440.47" width="15.75" height="2.02" fill="#075e09"/>
<rect x="244.55" y="442.43" width="15.75" height="2.02" fill="#709059"/>
<rect x="244.55" y="444.40" width="15.75" height="2.02" fill="#537b46"/>
<rect x="244.55" y="446.37" width="15.75" height="2.02" fill="#58814c"/>
<rect x="244.55" y="448.33" width="15.75" height="2.02" fill="#0e7e0a"/>
<rect x="244.55" y="450.30" width="15.75" height="2.02" fill="#87a56e"/>
<rect x="244.55" y="452.27" width="15.75" height="2.02" fill="#11750a"/>
<rect x="244.55" y="454.23" width="15.75" height="2.02" fill="#4d7944"/>
<rect x="244.55" y="456.20" width="15.75" height="2.02" fill="#0c300b"/>
<rect x="244.55" y="458.17" width="15.75" height="2.02" fill="#0c3a0b"/>
<rect x="244.55" y="460.13" width="15.75" height="2.02" fill="#0a2b0b"/>
<rect x="244.55" y="462.10" width="15.75" height="2.02" fill="#0b370a"/>
<rect x="244.55" y="464.07" width="15.75" height="2.02" fill="#0c670a"/>
<rect x="244.55" y="466.03" width="15.75" height="2.02" fill="#7fb673"/>
<rect x="244.55" y="468.00" width="15.75" height="2.02" fill="#09570a"/>
<rect x="244.55" y="469.97" width="15.75" height="2.02" fill="#8fc474"/>
<rect x="244.55" y="471.93" width="15.75" height="2.02" fill="#08410a"/>
<rect x="244.55" y="473.90" width="15.75" height="2.02" fill="#08830a"/>
<rect x="244.55" y="475.87" width="15.75" height="2.02" fill="#08cc0a"/>
<rect x="244.55" y="477.83" width="15.75" height="2.02" fill="#88ac68"/>
<rect x="244.55" y="479.80" width="15.75" height="2.02" fill="#087b0a"/>
<rect x="244.55" y="481.77" width="15.75" height="2.02" fill="#59834b"/>
<rect x="244.55" y="483.73" width="15.75" height="2.02" fill="#08d40a"/>
<rect x="244.55" y="485.70" width="15.75" height="2.02" fill="#68c45a"/>
<rect x="244.55" y="487.67" width="15.75" height="2.02" fill="#088f0a"/>
<rect x="244.55" y="489.63" width="15.75" height="2.02" fill="#56b149"/>
<rect x="244.55" y="491.60" width="15.75" height="2.02" fill="#088f0a"/>
<rect x="244.55" y="493.57" width="15.75" height="2.02" fill="#08db0a"/>
<rect x="244.55" y="495.53" width="15.75" height="4.02" fill="#08fa0a"/>
<rect x="260.25" y="330.30" width="15.75" height="4.02" fill="#023104"/>
<rect x="260.25" y="334.27" width="15.75" height="2.02" fill="#022f04"/>
<rect x="260.25" y="336.23" width="15.75" height="2.02" fill="#022104"/>
<rect x="260.25" y="338.20" width="15.75" height="2.02" fill="#022d04"/>
<rect x="260.25" y="340.17" width="15.75" height="2.02" fill="#022604"/>
<rect x="260.25" y="342.13" width="15.75" height="2.02" fill="#021004"/>
<rect x="260.25" y="344.10" width="15.75" height="2.02" fill="#022e04"/>
<rect x="260.25" y="346.07" width="15.75" height="2.02" fill="#023e05"/>
<rect x="260.25" y="348.03" width="15.75" height="2.02" fill="#023f05"/>
<rect x="260.25" y="350.00" width="15.75" height="2.02" fill="#024105"/>
<rect x="260.25" y="351.97" width="15.75" height="2.02" fill="#032a05"/>
<rect x="260.25" y="353.93" width="15.75" height="2.02" fill="#034705"/>
<rect x="260.25" y="355.90" width="15.75" height="2.02" fill="#034c06"/>
<rect x="260.25" y="357.87" width="15.75" height="2.02" fill="#045a06"/>
<rect x="260.25" y="359.83" width="15.75" height="2.02" fill="#044206"/>
<rect x="260.25" y="361.80" width="15.75" height="2.02" fill="#042e06"/>
<rect x="260.25" y="363.77" width="15.75" height="2.02" fill="#064f06"/>
<rect x="260.25" y="365.73" width="15.75" height="2.02" fill="#085906"/>
<rect x="260.25" y="367.70" width="15.75" height="2.02" fill="#051e06"/>
<rect x="260.25" y="369.67" width="15.75" height="2.02" fill="#084506"/>
<rect x="260.25" y="371.63" width="15.75" height="2.02" fill="#0a5906"/>
<rect x="260.25" y="373.60" width="15.75" height="2.02" fill="#094e06"/>
<rect x="260.25" y="375.57" width="15.75" height="2.02" fill="#084006"/>
<rect x="260.25" y="377.53" width="15.75" height="2.02" fill="#051f06"/>
<rect x="260.25" y="379.50" width="15.75" height="2.02" fill="#063406"/>
<rect x="260.25" y="381.47" width="15.75" height="2.02" fill="#064d06"/>
<rect x="260.25" y="383.43" width="15.75" height="2.02" fill="#054306"/>
<rect x="260.25" y="385.40" width="15.75" height="2.02" fill="#041f06"/>
<rect x="260.25" y="387.37" width="15.75" height="2.02" fill="#043606"/>
<rect x="260.25" y="389.33" width="15.75" height="2.02" fill="#043906"/>
<rect x="260.25" y="391.30" width="15.75" height="2.02" fill="#085606"/>
<rect x="260.25" y="393.27" width="15.75" height="2.02" fill="#0d5206"/>
<rect x="260.25" y="395.23" width="15.75" height="2.02" fill="#0c2f06"/>
<rect x="260.25" y="397.20" width="15.75" height="2.02" fill="#1d6706"/>
<rect x="260.25" y="399.17" width="15.75" height="2.02" fill="#122f06"/>
<rect x="260.25" y="401.13" width="15.75" height="2.02" fill="#062d06"/>
<rect x="260.25" y="403.10" width="15.75" height="2.02" fill="#88956b"/>
<rect x="260.25" y="405.07" width="15.75" height="2.02" fill="#520906"/>
<rect x="260.25" y="407.03" width="15.75" height="2.02" fill="#073d06"/>
<rect x="260.25" y="409.00" width="15.75" height="2.02" fill="#3f0a06"/>
<rect x="260.25" y="410.97" width="15.75" height="2.02" fill="#075007"/>
<rect x="260.25" y="412.93" width="15.75" height="2.02" fill="#0f2907"/>
<rect x="260.25" y="414.90" width="15.75" height="2.02" fill="#144c07"/>
<rect x="260.25" y="416.87" width="15.75" height="2.02" fill="#0d3d07"/>
<rect x="260.25" y="418.83" width="15.75" height="2.02" fill="#0d6307"/>
<rect x="260.25" y="420.80" width="15.75" height="2.02" fill="#074e07"/>
<rect x="260.25" y="422.77" width="15.75" height="2.02" fill="#698959"/>
<rect x="260.25" y="424.73" width="15.75" height="2.02" fill="#727957"/>
<rect x="260.25" y="426.70" width="15.75" height="2.02" fill="#088507"/>
<rect x="260.25" y="428.67" width="15.75" height="2.02" fill="#097707"/>
<rect x="260.25" y="430.63" width="15.75" height="2.02" fill="#084407"/>
<rect x="260.25" y="432.60" width="15.75" height="2.02" fill="#0a5507"/>
<rect x="260.25" y="434.57" width="15.75" height="2.02" fill="#0d6f07"/>
<rect x="260.25" y="436.53" width="15.75" height="2.02" fill="#0c4e07"/>
<rect x="260.25" y="438.50" width="15.75" height="2.02" fill="#0b3b07"/>
<rect x="260.25" y="440.47" width="15.75" height="2.02" fill="#91936d"/>
<rect x="260.25" y="442.43" width="15.75" height="2.02" fill="#0b3308"/>
<rect x="260.25" y="444.40" width="15.75" height="2.02" fill="#0a2b08"/>
<rect x="260.25" y="446.37" width="15.75" height="2.02" fill="#081b08"/>
<rect x="260.25" y="448.33" width="15.75" height="2.02" fill="#678456"/>
<rect x="260.25" y="450.30" width="15.75" height="2.02" fill="#0e4809"/>
<rect x="260.25" y="452.27" width="15.75" height="2.02" fill="#769161"/>
<rect x="260.25" y="454.23" width="15.75" height="2.02" fill="#127109"/>
<rect x="260.25" y="456.20" width="15.75" height="2.02" fill="#0f5809"/>
<rect x="260.25" y="458.17" width="15.75" height="2.02" fill="#0c4a09"/>
<rect x="260.25" y="460.13" width="15.75" height="2.02" fill="#0e6f09"/>
<rect x="260.25" y="462.10" width="15.75" height="2.02" fill="#0b6209"/>
<rect x="260.25" y="464.07" width="15.75" height="2.02" fill="#0b7209"/>
<rect x="260.25" y="466.03" width="15.75" height="2.02" fill="#083c09"/>
<rect x="260.25" y="468.00" width="15.75" height="2.02" fill="#073409"/>
<rect x="260.25" y="469.97" width="15.75" height="2.02" fill="#079809"/>
<rect x="260.25" y="471.93" width="15.75" height="2.02" fill="#068409"/>
<rect x="260.25" y="473.90" width="15.75" height="2.02" fill="#075609"/>
<rect x="260.25" y="475.87" width="15.75" height="2.02" fill="#0a9b09"/>
<rect x="260.25" y="477.83" width="15.75" height="2.02" fill="#082409"/>
<rect x="260.25" y="479.80" width="15.75" height="2.02" fill="#0c7b0a"/>
<rect x="260.25" y="481.77" width="15.75" height="2.02" fill="#0c530a"/>
<rect x="260.25" y="483.73" width="15.75" height="2.02" fill="#106e0a"/>
<rect x="260.25" y="485.70" width="15.75" height="2.02" fill="#8a906a"/>
<rect x="260.25" y="487.67" width="15.75" height="2.02" fill="#0b1b0b"/>
<rect x="260.25" y="489.63" width="15.75" height="2.02" fill="#166a0b"/>
<rect x="260.25" y="491.60" width="15.75" height="2.02" fill="#145c0b"/>
<rect x="260.25" y="493.57" width="15.75" height="2.02" fill="#809969"/>
<rect x="260.25" y="495.53" width="15.75" height="4.02" fill="#124e0b"/>
<rect x="275.95" y="330.30" width="15.75" height="4.02" fill="#022204"/>
<rect x="275.95" y="334.27" width="15.75" height="2.02" fill="#021504"/>
<rect x="275.95" y="336.23" width="15.75" height="2.02" fill="#023d04"/>
<rect x="275.95" y="338.20" width="15.75" height="2.02" fill="#023504"/>
<rect x="275.95" y="340.17" width="15.75" height="2.02" fill="#022c04"/>
<rect x="275.95" y="342.13" width="15.75" height="2.02" fill="#022104"/>
<rect x="275.95" y="344.10" width="15.75" height="2.02" fill="#022004"/>
<rect x="275.95" y="346.07" width="15.75" height="2.02" fill="#021b04"/>
<rect x="275.95" y="348.03" width="15.75" height="2.02" fill="#021304"/>
<rect x="275.95" y="350.00" width="15.75" height="2.02" fill="#022f04"/>
<rect x="275.95" y="351.97" width="15.75" height="2.02" fill="#022304"/>
<rect x="275.95" y="353.93" width="15.75" height="2.02" fill="#021704"/>
<rect x="275.95" y="355.90" width="15.75" height="2.02" fill="#020a04"/>
<rect x="275.95" y="357.87" width="15.75" height="2.02" fill="#021b04"/>
<rect x="275.95" y="359.83" width="15.75" height="2.02" fill="#021104"/>
<rect x="275.95" y="361.80" width="15.75" height="2.02" fill="#031904"/>
<rect x="275.95" y="363.77" width="15.75" height="2.02" fill="#042004"/>
<rect x="275.95" y="365.73" width="15.75" height="2.02" fill="#031104"/>
<rect x="275.95" y="367.70" width="15.75" height="2.02" fill="#072a05"/>
<rect x="275.95" y="369.67" width="15.75" height="2.02" fill="#0a3f05"/>
<rect x="275.95" y="371.63" width="15.75" height="2.02" fill="#072405"/>
<rect x="275.95" y="373.60" width="15.75" height="2.02" fill="#051705"/>
<rect x="275.95" y="375.57" width="15.75" height="2.02" fill="#062005"/>
<rect x="275.95" y="377.53" width="15.75" height="2.02" fill="#698458"/>
<rect x="275.95" y="379.50" width="15.75" height="2.02" fill="#063505"/>
<rect x="275.95" y="381.47" width="15.75" height="2.02" fill="#052c05"/>
<rect x="275.95" y="383.43" width="15.75" height="2.02" fill="#053105"/>
<rect x="275.95" y="385.40" width="15.75" height="2.02" fill="#8d926b"/>
<rect x="275.95" y="387.37" width="15.75" height="2.02" fill="#045105"/>
<rect x="275.95" y="389.33" width="15.75" height="2.02" fill="#033206"/>
<rect x="275.95" y="391.30" width="15.75" height="2.02" fill="#0a5205"/>
<rect x="275.95" y="393.27" width="15.75" height="2.02" fill="#104d05"/>
<rect x="275.95" y="395.23" width="15.75" height="2.02" fill="#0e2d05"/>
<rect x="275.95" y="397.20" width="15.75" height="2.02" fill="#052505"/>
<rect x="275.95" y="399.17" width="15.75" height="2.02" fill="#053605"/>
<rect x="275.95" y="401.13" width="15.75" height="2.02" fill="#065405"/>
<rect x="275.95" y="403.10" width="15.75" height="2.02" fill="#062005"/>
<rect x="275.95" y="405.07" width="15.75" height="2.02" fill="#073305"/>
<rect x="275.95" y="407.03" width="15.75" height="2.02" fill="#570705"/>
<rect x="275.95" y="409.00" width="15.75" height="2.02" fill="#076106"/>
<rect x="275.95" y="410.97" width="15.75" height="2.02" fill="#1e0b06"/>
<rect x="275.95" y="412.93" width="15.75" height="2.02" fill="#133806"/>
<rect x="275.95" y="414.90" width="15.75" height="2.02" fill="#155807"/>
<rect x="275.95" y="416.87" width="15.75" height="2.02" fill="#116707"/>
<rect x="275.95" y="418.83" width="15.75" height="2.02" fill="#109f08"/>
<rect x="275.95" y="420.80" width="15.75" height="2.02" fill="#0a9708"/>
<rect x="275.95" y="422.77" width="15.75" height="2.02" fill="#07a009"/>
<rect x="275.95" y="424.73" width="15.75" height="2.02" fill="#5d9c4d"/>
<rect x="275.95" y="426.70" width="15.75" height="2.02" fill="#0a6909"/>
<rect x="275.95" y="428.67" width="15.75" height="2.02" fill="#0d770a"/>
<rect x="275.95" y="430.63" width="15.75" height="2.02" fill="#12960a"/>
<rect x="275.95" y="432.60" width="15.75" height="2.02" fill="#0e430a"/>
<rect x="275.95" y="434.57" width="15.75" height="2.02" fill="#1a8a0b"/>
<rect x="275.95" y="436.53" width="15.75" height="2.02" fill="#13430b"/>
<rect x="275.95" y="438.50" width="15.75" height="2.02" fill="#7b795a"/>
<rect x="275.95" y="440.47" width="15.75" height="2.02" fill="#6e8456"/>
<rect x="275.95" y="442.43" width="15.75" height="2.02" fill="#113d0c"/>
<rect x="275.95" y="444.40" width="15.75" height="2.02" fill="#74985b"/>
<rect x="275.95" y="446.37" width="15.75" height="2.02" fill="#7ac568"/>
<rect x="275.95" y="448.33" width="15.75" height="2.02" fill="#6c8453"/>
<rect x="275.95" y="450.30" width="15.75" height="2.02" fill="#0d770c"/>
<rect x="275.95" y="452.27" width="15.75" height="2.02" fill="#5e934b"/>
<rect x="275.95" y="454.23" width="15.75" height="2.02" fill="#89be6e"/>
<rect x="275.95" y="456.20" width="15.75" height="2.02" fill="#0be80c"/>
<rect x="275.95" y="458.17" width="15.75" height="2.02" fill="#0b4a0c"/>
<rect x="275.95" y="460.13" width="15.75" height="2.02" fill="#10aa0c"/>
<rect x="275.95" y="462.10" width="15.75" height="2.02" fill="#118a0c"/>
<rect x="275.95" y="464.07" width="15.75" height="2.02" fill="#89b268"/>
<rect x="275.95" y="466.03" width="15.75" height="2.02" fill="#114b0d"/>
<rect x="275.95" y="468.00" width="15.75" height="2.02" fill="#597c47"/>
<rect x="275.95" y="469.97" width="15.75" height="2.02" fill="#769e60"/>
<rect x="275.95" y="471.93" width="15.75" height="2.02" fill="#15330d"/>
<rect x="275.95" y="473.90" width="15.75" height="2.02" fill="#19460d"/>
<rect x="275.95" y="475.87" width="15.75" height="2.02" fill="#163c0d"/>
<rect x="275.95" y="477.83" width="15.75" height="2.02" fill="#78835e"/>
<rect x="275.95" y="479.80" width="15.75" height="2.02" fill="#184a0c"/>
<rect x="275.95" y="481.77" width="15.75" height="2.02" fill="#6f7b54"/>
<rect x="275.95" y="483.73" width="15.75" height="2.02" fill="#16450c"/>
<rect x="275.95" y="485.70" width="15.75" height="2.02" fill="#12360c"/>
<rect x="275.95" y="487.67" width="15.75" height="2.02" fill="#1e6f0c"/>
<rect x="275.95" y="489.63" width="15.75" height="2.02" fill="#87b570"/>
<rect x="275.95" y="491.60" width="15.75" height="2.02" fill="#759760"/>
<rect x="275.95" y="493.57" width="15.75" height="2.02" fill="#1e700c"/>
<rect x="275.95" y="495.53" width="15.75" height="4.02" fill="#217f0c"/>
<rect x="291.66" y="330.30" width="15.75" height="4.02" fill="#020e04"/>
<rect x="291.66" y="334.27" width="15.75" height="2.02" fill="#022504"/>
<rect x="291.66" y="336.23" width="15.75" height="2.02" fill="#022a04"/>
<rect x="291.66" y="338.20" width="15.75" height="2.02" fill="#022c04"/>
<rect x="291.66" y="340.17" width="15.75" height="2.02" fill="#022d04"/>
<rect x="291.66" y="342.13" width="15.75" height="2.02" fill="#021b04"/>
<rect x="291.66" y="344.10" width="15.75" height="2.02" fill="#020f04"/>
<rect x="291.66" y="346.07" width="15.75" height="2.02" fill="#022704"/>
<rect x="291.66" y="348.03" width="15.75" height="2.02" fill="#022404"/>
<rect x="291.66" y="350.00" width="15.75" height="2.02" fill="#023905"/>
<rect x="291.66" y="351.97" width="15.75" height="2.02" fill="#021c05"/>
<rect x="291.66" y="353.93" width="15.75" height="2.02" fill="#022305"/>
<rect x="291.66" y="355.90" width="15.75" height="2.02" fill="#021705"/>
<rect x="291.66" y="357.87" width="15.75" height="2.02" fill="#031205"/>
<rect x="291.66" y="359.83" width="15.75" height="2.02" fill="#052a05"/>
<rect x="291.66" y="361.80" width="15.75" height="2.02" fill="#041505"/>
<rect x="291.66" y="363.77" width="15.75" height="2.02" fill="#061a04"/>
<rect x="291.66" y="365.73" width="15.75" height="2.02" fill="#0d3204"/>
<rect x="291.66" y="367.70" width="15.75" height="2.02" fill="#0e2904"/>
<rect x="291.66" y="369.67" width="15.75" height="2.02" fill="#0d1f04"/>
<rect x="291.66" y="371.63" width="15.75" height="2.02" fill="#081004"/>
<rect x="291.66" y="373.60" width="15.75" height="2.02" fill="#0e1d04"/>
<rect x="291.66" y="375.57" width="15.75" height="2.02" fill="#0c1d04"/>
<rect x="291.66" y="377.53" width="15.75" height="2.02" fill="#0c2405"/>
<rect x="291.66" y="379.50" width="15.75" height="2.02" fill="#081a05"/>
<rect x="291.66" y="381.47" width="15.75" height="2.02" fill="#082105"/>
<rect x="291.66" y="383.43" width="15.75" height="2.02" fill="#062106"/>
<rect x="291.66" y="385.40" width="15.75" height="2.02" fill="#626a4b"/>
<rect x="291.66" y="387.37" width="15.75" height="2.02" fill="#064406"/>
<rect x="291.66" y="389.33" width="15.75" height="2.02" fill="#042906"/>
<rect x="291.66" y="391.30" width="15.75" height="2.02" fill="#054606"/>
<rect x="291.66" y="393.27" width="15.75" height="2.02" fill="#052107"/>
<rect x="291.66" y="395.23" width="15.75" height="2.02" fill="#051507"/>
<rect x="291.66" y="397.20" width="15.75" height="2.02" fill="#094c07"/>
<rect x="291.66" y="399.17" width="15.75" height="2.02" fill="#566441"/>
<rect x="291.66" y="401.13" width="15.75" height="2.02" fill="#061407"/>
<rect x="291.66" y="403.10" width="15.75" height="2.02" fill="#0d4808"/>
<rect x="291.66" y="405.07" width="15.75" height="2.02" fill="#092008"/>
<rect x="291.66" y="407.03" width="15.75" height="2.02" fill="#091e08"/>
<rect x="291.66" y="409.00" width="15.75" height="2.02" fill="#0c2d07"/>
<rect x="291.66" y="410.97" width="15.75" height="2.02" fill="#0b2207"/>
<rect x="291.66" y="412.93" width="15.75" height="2.02" fill="#103307"/>
<rect x="291.66" y="414.90" width="15.75" height="2.02" fill="#0e2507"/>
<rect x="291.66" y="416.87" width="15.75" height="2.02" fill="#112c06"/>
<rect x="291.66" y="418.83" width="15.75" height="2.02" fill="#081006"/>
<rect x="291.66" y="420.80" width="15.75" height="2.02" fill="#112206"/>
<rect x="291.66" y="422.77" width="15.75" height="2.02" fill="#260606"/>
<rect x="291.66" y="424.73" width="15.75" height="2.02" fill="#052906"/>
<rect x="291.66" y="426.70" width="15.75" height="2.02" fill="#052106"/>
<rect x="291.66" y="428.67" width="15.75" height="2.02" fill="#250706"/>
<rect x="291.66" y="430.63" width="15.75" height="2.02" fill="#072107"/>
<rect x="291.66" y="432.60" width="15.75" height="2.02" fill="#120707"/>
<rect x="291.66" y="434.57" width="15.75" height="2.02" fill="#072707"/>
<rect x="291.66" y="436.53" width="15.75" height="2.02" fill="#7f8763"/>
<rect x="291.66" y="438.50" width="15.75" height="2.02" fill="#747e5a"/>
<rect x="291.66" y="440.47" width="15.75" height="2.02" fill="#272509"/>
<rect x="291.66" y="442.43" width="15.75" height="2.02" fill="#093809"/>
<rect x="291.66" y="444.40" width="15.75" height="2.02" fill="#606447"/>
<rect x="291.66" y="446.37" width="15.75" height="2.02" fill="#10160b"/>
<rect x="291.66" y="448.33" width="15.75" height="2.02" fill="#0b400c"/>
<rect x="291.66" y="450.30" width="15.75" height="2.02" fill="#0c330d"/>
<rect x="291.66" y="452.27" width="15.75" height="2.02" fill="#0c190d"/>
<rect x="291.66" y="454.23" width="15.75" height="2.02" fill="#818a69"/>
<rect x="291.66" y="456.20" width="15.75" height="2.02" fill="#0d630e"/>
<rect x="291.66" y="458.17" width="15.75" height="2.02" fill="#0d260e"/>
<rect x="291.66" y="460.13" width="15.75" height="2.02" fill="#2e0e0e"/>
<rect x="291.66" y="462.10" width="15.75" height="2.02" fill="#0c310d"/>
<rect x="291.66" y="464.07" width="15.75" height="2.02" fill="#280d0d"/>
<rect x="291.66" y="466.03" width="15.75" height="2.02" fill="#5d0d0d"/>
<rect x="291.66" y="468.00" width="15.75" height="2.02" fill="#2e180c"/>
<rect x="291.66" y="469.97" width="15.75" height="2.02" fill="#0b1f0c"/>
<rect x="291.66" y="471.93" width="15.75" height="2.02" fill="#0a190c"/>
<rect x="291.66" y="473.90" width="15.75" height="2.02" fill="#3d0c0b"/>
<rect x="291.66" y="475.87" width="15.75" height="2.02" fill="#11660b"/>
<rect x="291.66" y="477.83" width="15.75" height="2.02" fill="#66684e"/>
<rect x="291.66" y="479.80" width="15.75" height="2.02" fill="#536544"/>
<rect x="291.66" y="481.77" width="15.75" height="2.02" fill="#18490b"/>
<rect x="291.66" y="483.73" width="15.75" height="2.02" fill="#19590b"/>
<rect x="291.66" y="485.70" width="15.75" height="2.02" fill="#12400b"/>
<rect x="291.66" y="487.67" width="15.75" height="2.02" fill="#103c0b"/>
<rect x="291.66" y="489.63" width="15.75" height="2.02" fill="#6a8454"/>
<rect x="291.66" y="491.60" width="15.75" height="2.02" fill="#11440b"/>
<rect x="291.66" y="493.57" width="15.75" height="2.02" fill="#145d0b"/>
<rect x="291.66" y="495.53" width="15.75" height="4.02" fill="#124e0b"/>
<rect x="307.36" y="330.30" width="15.75" height="4.02" fill="#3c0103"/>
<rect x="307.36" y="334.27" width="15.75" height="2.02" fill="#2d0103"/>
<rect x="307.36" y="336.23" width="15.75" height="2.02" fill="#4a0103"/>
<rect x="307.36" y="338.20" width="15.75" height="2.02" fill="#2e0103"/>
<rect x="307.36" y="340.17" width="15.75" height="2.02" fill="#210103"/>
<rect x="307.36" y="342.13" width="15.75" height="2.02" fill="#210103"/>
<rect x="307.36" y="344.10" width="15.75" height="2.02" fill="#120103"/>
<rect x="307.36" y="346.07" width="15.75" height="2.02" fill="#170203"/>
<rect x="307.36" y="348.03" width="15.75" height="2.02" fill="#200203"/>
<rect x="307.36" y="350.00" width="15.75" height="2.02" fill="#320403"/>
<rect x="307.36" y="351.97" width="15.75" height="2.02" fill="#200403"/>
<rect x="307.36" y="353.93" width="15.75" height="2.02" fill="#1c0403"/>
<rect x="307.36" y="355.90" width="15.75" height="2.02" fill="#120303"/>
<rect x="307.36" y="357.87" width="15.75" height="2.02" fill="#0b0203"/>
<rect x="307.36" y="359.83" width="15.75" height="2.02" fill="#1b0403"/>
<rect x="307.36" y="361.80" width="15.75" height="2.02" fill="#0f0203"/>
<rect x="307.36" y="363.77" width="15.75" height="2.02" fill="#320603"/>
<rect x="307.36" y="365.73" width="15.75" height="2.02" fill="#0e0203"/>
<rect x="307.36" y="367.70" width="15.75" height="2.02" fill="#140303"/>
<rect x="307.36" y="369.67" width="15.75" height="2.02" fill="#330503"/>
<rect x="307.36" y="371.63" width="15.75" height="2.02" fill="#2b0403"/>
<rect x="307.36" y="373.60" width="15.75" height="2.02" fill="#0e0203"/>
<rect x="307.36" y="375.57" width="15.75" height="2.02" fill="#290403"/>
<rect x="307.36" y="377.53" width="15.75" height="2.02" fill="#200303"/>
<rect x="307.36" y="379.50" width="15.75" height="2.02" fill="#2a0403"/>
<rect x="307.36" y="381.47" width="15.75" height="2.02" fill="#350503"/>
<rect x="307.36" y="383.43" width="15.75" height="2.02" fill="#2b0403"/>
<rect x="307.36" y="385.40" width="15.75" height="2.02" fill="#340503"/>
<rect x="307.36" y="387.37" width="15.75" height="2.02" fill="#300503"/>
<rect x="307.36" y="389.33" width="15.75" height="2.02" fill="#3f0703"/>
<rect x="307.36" y="391.30" width="15.75" height="2.02" fill="#190504"/>
<rect x="307.36" y="393.27" width="15.75" height="2.02" fill="#260a04"/>
<rect x="307.36" y="395.23" width="15.75" height="2.02" fill="#140804"/>
<rect x="307.36" y="397.20" width="15.75" height="2.02" fill="#1c0404"/>
<rect x="307.36" y="399.17" width="15.75" height="2.02" fill="#062b05"/>
<rect x="307.36" y="401.13" width="15.75" height="2.02" fill="#677453"/>
<rect x="307.36" y="403.10" width="15.75" height="2.02" fill="#7c725c"/>
<rect x="307.36" y="405.07" width="15.75" height="2.02" fill="#052305"/>
<rect x="307.36" y="407.03" width="15.75" height="2.02" fill="#180606"/>
<rect x="307.36" y="409.00" width="15.75" height="2.02" fill="#051c06"/>
<rect x="307.36" y="410.97" width="15.75" height="2.02" fill="#100606"/>
<rect x="307.36" y="412.93" width="15.75" height="2.02" fill="#0f0706"/>
<rect x="307.36" y="414.90" width="15.75" height="2.02" fill="#310706"/>
<rect x="307.36" y="416.87" width="15.75" height="2.02" fill="#400706"/>
<rect x="307.36" y="418.83" width="15.75" height="2.02" fill="#3b1906"/>
<rect x="307.36" y="420.80" width="15.75" height="2.02" fill="#520706"/>
<rect x="307.36" y="422.77" width="15.75" height="2.02" fill="#627349"/>
<rect x="307.36" y="424.73" width="15.75" height="2.02" fill="#062e06"/>
<rect x="307.36" y="426.70" width="15.75" height="2.02" fill="#064b06"/>
<rect x="307.36" y="428.67" width="15.75" height="2.02" fill="#064106"/>
<rect x="307.36" y="430.63" width="15.75" height="2.02" fill="#062a06"/>
<rect x="307.36" y="432.60" width="15.75" height="2.02" fill="#064206"/>
<rect x="307.36" y="434.57" width="15.75" height="2.02" fill="#410906"/>
<rect x="307.36" y="436.53" width="15.75" height="2.02" fill="#062506"/>
<rect x="307.36" y="438.50" width="15.75" height="2.02" fill="#260906"/>
<rect x="307.36" y="440.47" width="15.75" height="2.02" fill="#6f7957"/>
<rect x="307.36" y="442.43" width="15.75" height="2.02" fill="#061f07"/>
<rect x="307.36" y="444.40" width="15.75" height="2.02" fill="#889e6e"/>
<rect x="307.36" y="446.37" width="15.75" height="2.02" fill="#1a0907"/>
<rect x="307.36" y="448.33" width="15.75" height="2.02" fill="#500908"/>
<rect x="307.36" y="450.30" width="15.75" height="2.02" fill="#073a08"/>
<rect x="307.36" y="452.27" width="15.75" height="2.02" fill="#1e0908"/>
<rect x="307.36" y="454.23" width="15.75" height="2.02" fill="#696f52"/>
<rect x="307.36" y="456.20" width="15.75" height="2.02" fill="#370908"/>
<rect x="307.36" y="458.17" width="15.75" height="2.02" fill="#260908"/>
<rect x="307.36" y="460.13" width="15.75" height="2.02" fill="#220908"/>
<rect x="307.36" y="462.10" width="15.75" height="2.02" fill="#073c08"/>
<rect x="307.36" y="464.07" width="15.75" height="2.02" fill="#171608"/>
<rect x="307.36" y="466.03" width="15.75" height="2.02" fill="#280908"/>
<rect x="307.36" y="468.00" width="15.75" height="2.02" fill="#9c8f70"/>
<rect x="307.36" y="469.97" width="15.75" height="2.02" fill="#808162"/>
<rect x="307.36" y="471.93" width="15.75" height="2.02" fill="#0b1707"/>
<rect x="307.36" y="473.90" width="15.75" height="2.02" fill="#091207"/>
<rect x="307.36" y="475.87" width="15.75" height="2.02" fill="#112907"/>
<rect x="307.36" y="477.83" width="15.75" height="2.02" fill="#6d8a5b"/>
<rect x="307.36" y="479.80" width="15.75" height="2.02" fill="#194008"/>
<rect x="307.36" y="481.77" width="15.75" height="2.02" fill="#194008"/>
<rect x="307.36" y="483.73" width="15.75" height="2.02" fill="#112708"/>
<rect x="307.36" y="485.70" width="15.75" height="2.02" fill="#9e9272"/>
<rect x="307.36" y="487.67" width="15.75" height="2.02" fill="#0e1e08"/>
<rect x="307.36" y="489.63" width="15.75" height="2.02" fill="#646249"/>
<rect x="307.36" y="491.60" width="15.75" height="2.02" fill="#215609"/>
<rect x="307.36" y="493.57" width="15.75" height="2.02" fill="#0d1c09"/>
<rect x="307.36" y="495.53" width="15.75" height="4.02" fill="#122b09"/>
<rect x="323.06" y="330.30" width="15.75" height="4.02" fill="#2b0103"/>
<rect x="323.06" y="334.27" width="15.75" height="2.02" fill="#0f0103"/>
<rect x="323.06" y="336.23" width="15.75" height="2.02" fill="#3a0103"/>
<rect x="323.06" y="338.20" width="15.75" height="2.02" fill="#2a0103"/>
<rect x="323.06" y="340.17" width="15.75" height="2.02" fill="#140103"/>
<rect x="323.06" y="342.13" width="15.75" height="2.02" fill="#1a0303"/>
<rect x="323.06" y="344.10" width="15.75" height="2.02" fill="#1f0603"/>
<rect x="323.06" y="346.07" width="15.75" height="2.02" fill="#200903"/>
<rect x="323.06" y="348.03" width="15.75" height="2.02" fill="#280e04"/>
<rect x="323.06" y="350.00" width="15.75" height="2.02" fill="#251104"/>
<rect x="323.06" y="351.97" width="15.75" height="2.02" fill="#310304"/>
<rect x="323.06" y="353.93" width="15.75" height="2.02" fill="#0f1504"/>
<rect x="323.06" y="355.90" width="15.75" height="2.02" fill="#190904"/>
<rect x="323.06" y="357.87" width="15.75" height="2.02" fill="#043504"/>
<rect x="323.06" y="359.83" width="15.75" height="2.02" fill="#360404"/>
<rect x="323.06" y="361.80" width="15.75" height="2.02" fill="#041904"/>
<rect x="323.06" y="363.77" width="15.75" height="2.02" fill="#440404"/>
<rect x="323.06" y="365.73" width="15.75" height="2.02" fill="#051b04"/>
<rect x="323.06" y="367.70" width="15.75" height="2.02" fill="#042b04"/>
<rect x="323.06" y="369.67" width="15.75" height="2.02" fill="#041404"/>
<rect x="323.06" y="371.63" width="15.75" height="2.02" fill="#041604"/>
<rect x="323.06" y="373.60" width="15.75" height="2.02" fill="#041604"/>
<rect x="323.06" y="375.57" width="15.75" height="2.02" fill="#042904"/>
<rect x="323.06" y="377.53" width="15.75" height="2.02" fill="#040e04"/>
<rect x="323.06" y="379.50" width="15.75" height="2.02" fill="#250504"/>
<rect x="323.06" y="381.47" width="15.75" height="2.02" fill="#220504"/>
<rect x="323.06" y="383.43" width="15.75" height="2.02" fill="#080a04"/>
<rect x="323.06" y="385.40" width="15.75" height="2.02" fill="#042f04"/>
<rect x="323.06" y="387.37" width="15.75" height="2.02" fill="#041f04"/>
<rect x="323.06" y="389.33" width="15.75" height="2.02" fill="#3d0504"/>
<rect x="323.06" y="391.30" width="15.75" height="2.02" fill="#042104"/>
<rect x="323.06" y="393.27" width="15.75" height="2.02" fill="#1f0c04"/>
<rect x="323.06" y="395.23" width="15.75" height="2.02" fill="#082c04"/>
<rect x="323.06" y="397.20" width="15.75" height="2.02" fill="#041404"/>
<rect x="323.06" y="399.17" width="15.75" height="2.02" fill="#054305"/>
<rect x="323.06" y="401.13" width="15.75" height="2.02" fill="#102005"/>
<rect x="323.06" y="403.10" width="15.75" height="2.02" fill="#152505"/>
<rect x="323.06" y="405.07" width="15.75" height="2.02" fill="#052c05"/>
<rect x="323.06" y="407.03" width="15.75" height="2.02" fill="#797357"/>
<rect x="323.06" y="409.00" width="15.75" height="2.02" fill="#520805"/>
<rect x="323.06" y="410.97" width="15.75" height="2.02" fill="#4e0605"/>
<rect x="323.06" y="412.93" width="15.75" height="2.02" fill="#4e1205"/>
<rect x="323.06" y="414.90" width="15.75" height="2.02" fill="#071605"/>
<rect x="323.06" y="416.87" width="15.75" height="2.02" fill="#2f0805"/>
<rect x="323.06" y="418.83" width="15.75" height="2.02" fill="#817251"/>
<rect x="323.06" y="420.80" width="15.75" height="2.02" fill="#5a0605"/>
<rect x="323.06" y="422.77" width="15.75" height="2.02" fill="#5b0605"/>
<rect x="323.06" y="424.73" width="15.75" height="2.02" fill="#182105"/>
<rect x="323.06" y="426.70" width="15.75" height="2.02" fill="#740706"/>
<rect x="323.06" y="428.67" width="15.75" height="2.02" fill="#220806"/>
<rect x="323.06" y="430.63" width="15.75" height="2.02" fill="#085406"/>
<rect x="323.06" y="432.60" width="15.75" height="2.02" fill="#086507"/>
<rect x="323.06" y="434.57" width="15.75" height="2.02" fill="#270907"/>
<rect x="323.06" y="436.53" width="15.75" height="2.02" fill="#086407"/>
<rect x="323.06" y="438.50" width="15.75" height="2.02" fill="#7d9665"/>
<rect x="323.06" y="440.47" width="15.75" height="2.02" fill="#737d57"/>
<rect x="323.06" y="442.43" width="15.75" height="2.02" fill="#102a08"/>
<rect x="323.06" y="444.40" width="15.75" height="2.02" fill="#769059"/>
<rect x="323.06" y="446.37" width="15.75" height="2.02" fill="#134408"/>
<rect x="323.06" y="448.33" width="15.75" height="2.02" fill="#0d2f08"/>
<rect x="323.06" y="450.30" width="15.75" height="2.02" fill="#0f4808"/>
<rect x="323.06" y="452.27" width="15.75" height="2.02" fill="#106308"/>
<rect x="323.06" y="454.23" width="15.75" height="2.02" fill="#14ad08"/>
<rect x="323.06" y="456.20" width="15.75" height="2.02" fill="#0c5e08"/>
<rect x="323.06" y="458.17" width="15.75" height="2.02" fill="#0a4d08"/>
<rect x="323.06" y="460.13" width="15.75" height="2.02" fill="#0a5c08"/>
<rect x="323.06" y="462.10" width="15.75" height="2.02" fill="#096008"/>
<rect x="323.06" y="464.07" width="15.75" height="2.02" fill="#085208"/>
<rect x="323.06" y="466.03" width="15.75" height="2.02" fill="#88a466"/>
<rect x="323.06" y="468.00" width="15.75" height="2.02" fill="#839769"/>
<rect x="323.06" y="469.97" width="15.75" height="2.02" fill="#89ad6c"/>
<rect x="323.06" y="471.93" width="15.75" height="2.02" fill="#069109"/>
<rect x="323.06" y="473.90" width="15.75" height="2.02" fill="#076c08"/>
<rect x="323.06" y="475.87" width="15.75" height="2.02" fill="#09a608"/>
<rect x="323.06" y="477.83" width="15.75" height="2.02" fill="#096c08"/>
<rect x="323.06" y="479.80" width="15.75" height="2.02" fill="#0a7408"/>
<rect x="323.06" y="481.77" width="15.75" height="2.02" fill="#094908"/>
<rect x="323.06" y="483.73" width="15.75" height="2.02" fill="#0c7508"/>
<rect x="323.06" y="485.70" width="15.75" height="2.02" fill="#0b4e08"/>
<rect x="323.06" y="487.67" width="15.75" height="2.02" fill="#0e6908"/>
<rect x="323.06" y="489.63" width="15.75" height="2.02" fill="#5e744c"/>
<rect x="323.06" y="491.60" width="15.75" height="2.02" fill="#0d5608"/>
<rect x="323.06" y="493.57" width="15.75" height="2.02" fill="#0f6e08"/>
<rect x="323.06" y="495.53" width="15.75" height="4.02" fill="#0b4008"/>
<rect x="338.77" y="330.30" width="15.75" height="4.02" fill="#1e0103"/>
<rect x="338.77" y="334.27" width="15.75" height="2.02" fill="#4c0103"/>
<rect x="338.77" y="336.23" width="15.75" height="2.02" fill="#2c0103"/>
<rect x="338.77" y="338.20" width="15.75" height="2.02" fill="#4f0103"/>
<rect x="338.77" y="340.17" width="15.75" height="2.02" fill="#270103"/>
<rect x="338.77" y="342.13" width="15.75" height="2.02" fill="#160103"/>
<rect x="338.77" y="344.10" width="15.75" height="2.02" fill="#230103"/>
<rect x="338.77" y="346.07" width="15.75" height="2.02" fill="#4e0203"/>
<rect x="338.77" y="348.03" width="15.75" height="2.02" fill="#5a0303"/>
<rect x="338.77" y="350.00" width="15.75" height="2.02" fill="#500303"/>
<rect x="338.77" y="351.97" width="15.75" height="2.02" fill="#2f0303"/>
<rect x="338.77" y="353.93" width="15.75" height="2.02" fill="#430403"/>
<rect x="338.77" y="355.90" width="15.75" height="2.02" fill="#3b0403"/>
<rect x="338.77" y="357.87" width="15.75" height="2.02" fill="#230303"/>
<rect x="338.77" y="359.83" width="15.75" height="2.02" fill="#4c0603"/>
<rect x="338.77" y="361.80" width="15.75" height="2.02" fill="#300503"/>
<rect x="338.77" y="363.77" width="15.75" height="2.02" fill="#2f0503"/>
<rect x="338.77" y="365.73" width="15.75" height="2.02" fill="#170303"/>
<rect x="338.77" y="367.70" width="15.75" height="2.02" fill="#0f0303"/>
<rect x="338.77" y="369.67" width="15.75" height="2.02" fill="#160403"/>
<rect x="338.77" y="371.63" width="15.75" height="2.02" fill="#1f0603"/>
<rect x="338.77" y="373.60" width="15.75" height="2.02" fill="#0c0303"/>
<rect x="338.77" y="375.57" width="15.75" height="2.02" fill="#200603"/>
<rect x="338.77" y="377.53" width="15.75" height="2.02" fill="#160403"/>
<rect x="338.77" y="379.50" width="15.75" height="2.02" fill="#160403"/>
<rect x="338.77" y="381.47" width="15.75" height="2.02" fill="#200503"/>
<rect x="338.77" y="383.43" width="15.75" height="2.02" fill="#130303"/>
<rect x="338.77" y="385.40" width="15.75" height="2.02" fill="#0f0303"/>
<rect x="338.77" y="387.37" width="15.75" height="2.02" fill="#1c0403"/>
<rect x="338.77" y="389.33" width="15.75" height="2.02" fill="#360703"/>
<rect x="338.77" y="391.30" width="15.75" height="2.02" fill="#430a03"/>
<rect x="338.77" y="393.27" width="15.75" height="2.02" fill="#320803"/>
<rect x="338.77" y="395.23" width="15.75" height="2.02" fill="#2f0904"/>
<rect x="338.77" y="397.20" width="15.75" height="2.02" fill="#310904"/>
<rect x="338.77" y="399.17" width="15.75" height="2.02" fill="#2d0904"/>
<rect x="338.77" y="401.13" width="15.75" height="2.02" fill="#3b0d04"/>
<rect x="338.77" y="403.10" width="15.75" height="2.02" fill="#4a1104"/>
<rect x="338.77" y="405.07" width="15.75" height="2.02" fill="#491104"/>
<rect x="338.77" y="407.03" width="15.75" height="2.02" fill="#240a04"/>
<rect x="338.77" y="409.00" width="15.75" height="2.02" fill="#5b1b04"/>
<rect x="338.77" y="410.97" width="15.75" height="2.02" fill="#200b04"/>
<rect x="338.77" y="412.93" width="15.75" height="2.02" fill="#270e04"/>
<rect x="338.77" y="414.90" width="15.75" height="2.02" fill="#5c0504"/>
<rect x="338.77" y="416.87" width="15.75" height="2.02" fill="#5c0505"/>
<rect x="338.77" y="418.83" width="15.75" height="2.02" fill="#294905"/>
<rect x="338.77" y="420.80" width="15.75" height="2.02" fill="#851205"/>
<rect x="338.77" y="422.77" width="15.75" height="2.02" fill="#9f846a"/>
<rect x="338.77" y="424.73" width="15.75" height="2.02" fill="#291b05"/>
<rect x="338.77" y="426.70" width="15.75" height="2.02" fill="#7b0605"/>
<rect x="338.77" y="428.67" width="15.75" height="2.02" fill="#350605"/>
<rect x="338.77" y="430.63" width="15.75" height="2.02" fill="#4b0605"/>
<rect x="338.77" y="432.60" width="15.75" height="2.02" fill="#5d0705"/>
<rect x="338.77" y="434.57" width="15.75" height="2.02" fill="#092c05"/>
<rect x="338.77" y="436.53" width="15.75" height="2.02" fill="#98876c"/>
<rect x="338.77" y="438.50" width="15.75" height="2.02" fill="#787d56"/>
<rect x="338.77" y="440.47" width="15.75" height="2.02" fill="#5a0606"/>
<rect x="338.77" y="442.43" width="15.75" height="2.02" fill="#600606"/>
<rect x="338.77" y="444.40" width="15.75" height="2.02" fill="#0d2e06"/>
<rect x="338.77" y="446.37" width="15.75" height="2.02" fill="#1e0d06"/>
<rect x="338.77" y="448.33" width="15.75" height="2.02" fill="#371406"/>
<rect x="338.77" y="450.30" width="15.75" height="2.02" fill="#4a1707"/>
<rect x="338.77" y="452.27" width="15.75" height="2.02" fill="#491507"/>
<rect x="338.77" y="454.23" width="15.75" height="2.02" fill="#581607"/>
<rect x="338.77" y="456.20" width="15.75" height="2.02" fill="#641907"/>
<rect x="338.77" y="458.17" width="15.75" height="2.02" fill="#5a1907"/>
<rect x="338.77" y="460.13" width="15.75" height="2.02" fill="#3e1308"/>
<rect x="338.77" y="462.10" width="15.75" height="2.02" fill="#561c08"/>
<rect x="338.77" y="464.07" width="15.75" height="2.02" fill="#501c08"/>
<rect x="338.77" y="466.03" width="15.75" height="2.02" fill="#7d6852"/>
<rect x="338.77" y="468.00" width="15.75" height="2.02" fill="#918263"/>
<rect x="338.77" y="469.97" width="15.75" height="2.02" fill="#0f3109"/>
<rect x="338.77" y="471.93" width="15.75" height="2.02" fill="#280909"/>
<rect x="338.77" y="473.90" width="15.75" height="2.02" fill="#590909"/>
<rect x="338.77" y="475.87" width="15.75" height="2.02" fill="#3a0909"/>
<rect x="338.77" y="477.83" width="15.75" height="2.02" fill="#600909"/>
<rect x="338.77" y="479.80" width="15.75" height="2.02" fill="#220909"/>
<rect x="338.77" y="481.77" width="15.75" height="2.02" fill="#310908"/>
<rect x="338.77" y="483.73" width="15.75" height="2.02" fill="#4d1508"/>
<rect x="338.77" y="485.70" width="15.75" height="2.02" fill="#676a4a"/>
<rect x="338.77" y="487.67" width="15.75" height="2.02" fill="#141d08"/>
<rect x="338.77" y="489.63" width="15.75" height="2.02" fill="#92a271"/>
<rect x="338.77" y="491.60" width="15.75" height="2.02" fill="#640908"/>
<rect x="338.77" y="493.57" width="15.75" height="2.02" fill="#310908"/>
<rect x="338.77" y="495.53" width="15.75" height="4.02" fill="#7e0908"/>
<rect x="354.47" y="330.30" width="15.75" height="4.02" fill="#190103"/>
<rect x="354.47" y="334.27" width="15.75" height="2.02" fill="#420103"/>
<rect x="354.47" y="336.23" width="15.75" height="2.02" fill="#350103"/>
<rect x="354.47" y="338.20" width="15.75" height="2.02" fill="#370103"/>
<rect x="354.47" y="340.17" width="15.75" height="2.02" fill="#190103"/>
<rect x="354.47" y="342.13" width="15.75" height="2.02" fill="#330304"/>
<rect x="354.47" y="344.10" width="15.75" height="2.02" fill="#1e0304"/>
<rect x="354.47" y="346.07" width="15.75" height="2.02" fill="#450704"/>
<rect x="354.47" y="348.03" width="15.75" height="2.02" fill="#430904"/>
<rect x="354.47" y="350.00" width="15.75" height="2.02" fill="#360804"/>
<rect x="354.47" y="351.97" width="15.75" height="2.02" fill="#300904"/>
<rect x="354.47" y="353.93" width="15.75" height="2.02" fill="#591005"/>
<rect x="354.47" y="355.90" width="15.75" height="2.02" fill="#2e0a05"/>
<rect x="354.47" y="357.87" width="15.75" height="2.02" fill="#4c0e05"/>
<rect x="354.47" y="359.83" width="15.75" height="2.02" fill="#621105"/>
<rect x="354.47" y="361.80" width="15.75" height="2.02" fill="#210605"/>
<rect x="354.47" y="363.77" width="15.75" height="2.02" fill="#200604"/>
<rect x="354.47" y="365.73" width="15.75" height="2.02" fill="#640d04"/>
<rect x="354.47" y="367.70" width="15.75" height="2.02" fill="#630b04"/>
<rect x="354.47" y="369.67" width="15.75" height="2.02" fill="#520904"/>
<rect x="354.47" y="371.63" width="15.75" height="2.02" fill="#440704"/>
<rect x="354.47" y="373.60" width="15.75" height="2.02" fill="#550704"/>
<rect x="354.47" y="375.57" width="15.75" height="2.02" fill="#530704"/>
<rect x="354.47" y="377.53" width="15.75" height="2.02" fill="#310504"/>
<rect x="354.47" y="379.50" width="15.75" height="2.02" fill="#6b0804"/>
<rect x="354.47" y="381.47" width="15.75" height="2.02" fill="#440604"/>
<rect x="354.47" y="383.43" width="15.75" height="2.02" fill="#5d0704"/>
<rect x="354.47" y="385.40" width="15.75" height="2.02" fill="#3d0504"/>
<rect x="354.47" y="387.37" width="15.75" height="2.02" fill="#3a0404"/>
<rect x="354.47" y="389.33" width="15.75" height="2.02" fill="#800904"/>
<rect x="354.47" y="391.30" width="15.75" height="2.02" fill="#6f0c04"/>
<rect x="354.47" y="393.27" width="15.75" height="2.02" fill="#2f0804"/>
<rect x="354.47" y="395.23" width="15.75" height="2.02" fill="#601204"/>
<rect x="354.47" y="397.20" width="15.75" height="2.02" fill="#461104"/>
<rect x="354.47" y="399.17" width="15.75" height="2.02" fill="#561904"/>
<rect x="354.47" y="401.13" width="15.75" height="2.02" fill="#5d1f05"/>
<rect x="354.47" y="403.10" width="15.75" height="2.02" fill="#9c826a"/>
<rect x="354.47" y="405.07" width="15.75" height="2.02" fill="#0b9505"/>
<rect x="354.47" y="407.03" width="15.75" height="2.02" fill="#776a4e"/>
<rect x="354.47" y="409.00" width="15.75" height="2.02" fill="#0b6605"/>
<rect x="354.47" y="410.97" width="15.75" height="2.02" fill="#0b6805"/>
<rect x="354.47" y="412.93" width="15.75" height="2.02" fill="#420705"/>
<rect x="354.47" y="414.90" width="15.75" height="2.02" fill="#630606"/>
<rect x="354.47" y="416.87" width="15.75" height="2.02" fill="#0c3d06"/>
<rect x="354.47" y="418.83" width="15.75" height="2.02" fill="#910706"/>
<rect x="354.47" y="420.80" width="15.75" height="2.02" fill="#0c8a06"/>
<rect x="354.47" y="422.77" width="15.75" height="2.02" fill="#144806"/>
<rect x="354.47" y="424.73" width="15.75" height="2.02" fill="#5e2306"/>
<rect x="354.47" y="426.70" width="15.75" height="2.02" fill="#291006"/>
<rect x="354.47" y="428.67" width="15.75" height="2.02" fill="#4f1c06"/>
<rect x="354.47" y="430.63" width="15.75" height="2.02" fill="#341206"/>
<rect x="354.47" y="432.60" width="15.75" height="2.02" fill="#6a2106"/>
<rect x="354.47" y="434.57" width="15.75" height="2.02" fill="#4b1706"/>
<rect x="354.47" y="436.53" width="15.75" height="2.02" fill="#220b06"/>
<rect x="354.47" y="438.50" width="15.75" height="2.02" fill="#481406"/>
<rect x="354.47" y="440.47" width="15.75" height="2.02" fill="#4d1606"/>
<rect x="354.47" y="442.43" width="15.75" height="2.02" fill="#1d0a06"/>
<rect x="354.47" y="444.40" width="15.75" height="2.02" fill="#471606"/>
<rect x="354.47" y="446.37" width="15.75" height="2.02" fill="#9c2e06"/>
<rect x="354.47" y="448.33" width="15.75" height="2.02" fill="#661f06"/>
<rect x="354.47" y="450.30" width="15.75" height="2.02" fill="#601e06"/>
<rect x="354.47" y="452.27" width="15.75" height="2.02" fill="#982f06"/>
<rect x="354.47" y="454.23" width="15.75" height="2.02" fill="#531b06"/>
<rect x="354.47" y="456.20" width="15.75" height="2.02" fill="#7d2906"/>
<rect x="354.47" y="458.17" width="15.75" height="2.02" fill="#491b06"/>
<rect x="354.47" y="460.13" width="15.75" height="2.02" fill="#510806"/>
<rect x="354.47" y="462.10" width="15.75" height="2.02" fill="#670906"/>
<rect x="354.47" y="464.07" width="15.75" height="2.02" fill="#1f1107"/>
<rect x="354.47" y="466.03" width="15.75" height="2.02" fill="#8a6e55"/>
<rect x="354.47" y="468.00" width="15.75" height="2.02" fill="#510a07"/>
<rect x="354.47" y="469.97" width="15.75" height="2.02" fill="#a1a167"/>
<rect x="354.47" y="471.93" width="15.75" height="2.02" fill="#6e0b08"/>
<rect x="354.47" y="473.90" width="15.75" height="2.02" fill="#0c4108"/>
<rect x="354.47" y="475.87" width="15.75" height="2.02" fill="#610b08"/>
<rect x="354.47" y="477.83" width="15.75" height="2.02" fill="#272308"/>
<rect x="354.47" y="479.80" width="15.75" height="2.02" fill="#1e2608"/>
<rect x="354.47" y="481.77" width="15.75" height="2.02" fill="#7f734d"/>
<rect x="354.47" y="483.73" width="15.75" height="2.02" fill="#0c5008"/>
<rect x="354.47" y="485.70" width="15.75" height="2.02" fill="#910c08"/>
<rect x="354.47" y="487.67" width="15.75" height="2.02" fill="#7e0c09"/>
<rect x="354.47" y="489.63" width="15.75" height="2.02" fill="#637145"/>
<rect x="354.47" y="491.60" width="15.75" height="2.02" fill="#0c3509"/>
<rect x="354.47" y="493.57" width="15.75" height="2.02" fill="#516a09"/>
<rect x="354.47" y="495.53" width="15.75" height="4.02" fill="#0cd709"/>
<rect x="370.17" y="330.30" width="15.75" height="4.02" fill="#a50204"/>
<rect x="370.17" y="334.27" width="15.75" height="2.02" fill="#a40204"/>
<rect x="370.17" y="336.23" width="15.75" height="2.02" fill="#fc0204"/>
<rect x="370.17" y="338.20" width="15.75" height="2.02" fill="#af0204"/>
<rect x="370.17" y="340.17" width="15.75" height="2.02" fill="#800204"/>
<rect x="370.17" y="342.13" width="15.75" height="2.02" fill="#e20204"/>
<rect x="370.17" y="344.10" width="15.75" height="2.02" fill="#740204"/>
<rect x="370.17" y="346.07" width="15.75" height="2.02" fill="#9d0204"/>
<rect x="370.17" y="348.03" width="15.75" height="2.02" fill="#a90304"/>
<rect x="370.17" y="350.00" width="15.75" height="2.02" fill="#770204"/>
<rect x="370.17" y="351.97" width="15.75" height="2.02" fill="#4d0204"/>
<rect x="370.17" y="353.93" width="15.75" height="2.02" fill="#930304"/>
<rect x="370.17" y="355.90" width="15.75" height="2.02" fill="#4d0204"/>
<rect x="370.17" y="357.87" width="15.75" height="2.02" fill="#d60404"/>
<rect x="370.17" y="359.83" width="15.75" height="2.02" fill="#6b0304"/>
<rect x="370.17" y="361.80" width="15.75" height="2.02" fill="#650204"/>
<rect x="370.17" y="363.77" width="15.75" height="2.02" fill="#810204"/>
<rect x="370.17" y="365.73" width="15.75" height="2.02" fill="#c40304"/>
<rect x="370.17" y="367.70" width="15.75" height="2.02" fill="#bb0204"/>
<rect x="370.17" y="369.67" width="15.75" height="2.02" fill="#b80204"/>
<rect x="370.17" y="371.63" width="15.75" height="2.02" fill="#790204"/>
<rect x="370.17" y="373.60" width="15.75" height="2.02" fill="#400204"/>
<rect x="370.17" y="375.57" width="15.75" height="2.02" fill="#4f0204"/>
<rect x="370.17" y="377.53" width="15.75" height="2.02" fill="#550204"/>
<rect x="370.17" y="379.50" width="15.75" height="2.02" fill="#b40404"/>
<rect x="370.17" y="381.47" width="15.75" height="2.02" fill="#540304"/>
<rect x="370.17" y="383.43" width="15.75" height="2.02" fill="#630404"/>
<rect x="370.17" y="385.40" width="15.75" height="2.02" fill="#620404"/>
<rect x="370.17" y="387.37" width="15.75" height="2.02" fill="#5e0504"/>
<rect x="370.17" y="389.33" width="15.75" height="2.02" fill="#800604"/>
<rect x="370.17" y="391.30" width="15.75" height="2.02" fill="#d00a04"/>
<rect x="370.17" y="393.27" width="15.75" height="2.02" fill="#9e0804"/>
<rect x="370.17" y="395.23" width="15.75" height="2.02" fill="#c90904"/>
<rect x="370.17" y="397.20" width="15.75" height="2.02" fill="#a50804"/>
<rect x="370.17" y="399.17" width="15.75" height="2.02" fill="#d20a05"/>
<rect x="370.17" y="401.13" width="15.75" height="2.02" fill="#550505"/>
<rect x="370.17" y="403.10" width="15.75" height="2.02" fill="#7c0705"/>
<rect x="370.17" y="405.07" width="15.75" height="2.02" fill="#b90905"/>
<rect x="370.17" y="407.03" width="15.75" height="2.02" fill="#c50a05"/>
<rect x="370.17" y="409.00" width="15.75" height="2.02" fill="#830705"/>
<rect x="370.17" y="410.97" width="15.75" height="2.02" fill="#830705"/>
<rect x="370.17" y="412.93" width="15.75" height="2.02" fill="#a40804"/>
<rect x="370.17" y="414.90" width="15.75" height="2.02" fill="#580504"/>
<rect x="370.17" y="416.87" width="15.75" height="2.02" fill="#ab0804"/>
<rect x="370.17" y="418.83" width="15.75" height="2.02" fill="#c40904"/>
<rect x="370.17" y="420.80" width="15.75" height="2.02" fill="#670504"/>
<rect x="370.17" y="422.77" width="15.75" height="2.02" fill="#e30a04"/>
<rect x="370.17" y="424.73" width="15.75" height="2.02" fill="#890704"/>
<rect x="370.17" y="426.70" width="15.75" height="2.02" fill="#680504"/>
<rect x="370.17" y="428.67" width="15.75" height="2.02" fill="#8f0704"/>
<rect x="370.17" y="430.63" width="15.75" height="2.02" fill="#6b0504"/>
<rect x="370.17" y="432.60" width="15.75" height="2.02" fill="#540504"/>
<rect x="370.17" y="434.57" width="15.75" height="2.02" fill="#dc0904"/>
<rect x="370.17" y="436.53" width="15.75" height="2.02" fill="#cf0904"/>
<rect x="370.17" y="438.50" width="15.75" height="2.02" fill="#f20a04"/>
<rect x="370.17" y="440.47" width="15.75" height="2.02" fill="#ba0804"/>
<rect x="370.17" y="442.43" width="15.75" height="2.02" fill="#470404"/>
<rect x="370.17" y="444.40" width="15.75" height="2.02" fill="#740604"/>
<rect x="370.17" y="446.37" width="15.75" height="2.02" fill="#e80a04"/>
<rect x="370.17" y="448.33" width="15.75" height="2.02" fill="#790604"/>
<rect x="370.17" y="450.30" width="15.75" height="2.02" fill="#bc0905"/>
<rect x="370.17" y="452.27" width="15.75" height="2.02" fill="#980805"/>
<rect x="370.17" y="454.23" width="15.75" height="2.02" fill="#d90a05"/>
<rect x="370.17" y="456.20" width="15.75" height="2.02" fill="#eb0b05"/>
<rect x="370.17" y="458.17" width="15.75" height="2.02" fill="#bf0905"/>
<rect x="370.17" y="460.13" width="15.75" height="2.02" fill="#b70905"/>
<rect x="370.17" y="462.10" width="15.75" height="2.02" fill="#5d0505"/>
<rect x="370.17" y="464.07" width="15.75" height="2.02" fill="#8e0705"/>
<rect x="370.17" y="466.03" width="15.75" height="2.02" fill="#d00905"/>
<rect x="370.17" y="468.00" width="15.75" height="2.02" fill="#b50805"/>
<rect x="370.17" y="469.97" width="15.75" height="2.02" fill="#7e0605"/>
<rect x="370.17" y="471.93" width="15.75" height="2.02" fill="#cf0905"/>
<rect x="370.17" y="473.90" width="15.75" height="2.02" fill="#540505"/>
<rect x="370.17" y="475.87" width="15.75" height="2.02" fill="#890705"/>
<rect x="370.17" y="477.83" width="15.75" height="2.02" fill="#980705"/>
<rect x="370.17" y="479.80" width="15.75" height="2.02" fill="#f90b05"/>
<rect x="370.17" y="481.77" width="15.75" height="2.02" fill="#8e0705"/>
<rect x="370.17" y="483.73" width="15.75" height="2.02" fill="#d30a05"/>
<rect x="370.17" y="485.70" width="15.75" height="2.02" fill="#650605"/>
<rect x="370.17" y="487.67" width="15.75" height="2.02" fill="#770705"/>
<rect x="370.17" y="489.63" width="15.75" height="2.02" fill="#5f0605"/>
<rect x="370.17" y="491.60" width="15.75" height="2.02" fill="#cb0a05"/>
<rect x="370.17" y="493.57" width="15.75" height="2.02" fill="#b10905"/>
<rect x="370.17" y="495.53" width="15.75" height="4.02" fill="#ab0905"/>
<rect x="385.88" y="330.30" width="15.75" height="4.02" fill="#490103"/>
<rect x="385.88" y="334.27" width="15.75" height="2.02" fill="#670103"/>
<rect x="385.88" y="336.23" width="15.75" height="2.02" fill="#570103"/>
<rect x="385.88" y="338.20" width="15.75" height="2.02" fill="#580103"/>
<rect x="385.88" y="340.17" width="15.75" height="2.02" fill="#470103"/>
<rect x="385.88" y="342.13" width="15.75" height="2.02" fill="#820103"/>
<rect x="385.88" y="344.10" width="15.75" height="2.02" fill="#3b0103"/>
<rect x="385.88" y="346.07" width="15.75" height="2.02" fill="#900103"/>
<rect x="385.88" y="348.03" width="15.75" height="2.02" fill="#890203"/>
<rect x="385.88" y="350.00" width="15.75" height="2.02" fill="#690103"/>
<rect x="385.88" y="351.97" width="15.75" height="2.02" fill="#570103"/>
<rect x="385.88" y="353.93" width="15.75" height="2.02" fill="#7c0203"/>
<rect x="385.88" y="355.90" width="15.75" height="2.02" fill="#500203"/>
<rect x="385.88" y="357.87" width="15.75" height="2.02" fill="#3f0203"/>
<rect x="385.88" y="359.83" width="15.75" height="2.02" fill="#760303"/>
<rect x="385.88" y="361.80" width="15.75" height="2.02" fill="#390203"/>
<rect x="385.88" y="363.77" width="15.75" height="2.02" fill="#460203"/>
<rect x="385.88" y="365.73" width="15.75" height="2.02" fill="#a40403"/>
<rect x="385.88" y="367.70" width="15.75" height="2.02" fill="#760403"/>
<rect x="385.88" y="369.67" width="15.75" height="2.02" fill="#710403"/>
<rect x="385.88" y="371.63" width="15.75" height="2.02" fill="#630403"/>
<rect x="385.88" y="373.60" width="15.75" height="2.02" fill="#770403"/>
<rect x="385.88" y="375.57" width="15.75" height="2.02" fill="#6e0403"/>
<rect x="385.88" y="377.53" width="15.75" height="2.02" fill="#6c0403"/>
<rect x="385.88" y="379.50" width="15.75" height="2.02" fill="#7c0403"/>
<rect x="385.88" y="381.47" width="15.75" height="2.02" fill="#6b0404"/>
<rect x="385.88" y="383.43" width="15.75" height="2.02" fill="#700404"/>
<rect x="385.88" y="385.40" width="15.75" height="2.02" fill="#660304"/>
<rect x="385.88" y="387.37" width="15.75" height="2.02" fill="#5d0304"/>
<rect x="385.88" y="389.33" width="15.75" height="2.02" fill="#680404"/>
<rect x="385.88" y="391.30" width="15.75" height="2.02" fill="#8c0604"/>
<rect x="385.88" y="393.27" width="15.75" height="2.02" fill="#860704"/>
<rect x="385.88" y="395.23" width="15.75" height="2.02" fill="#760804"/>
<rect x="385.88" y="397.20" width="15.75" height="2.02" fill="#8c0b05"/>
<rect x="385.88" y="399.17" width="15.75" height="2.02" fill="#490805"/>
<rect x="385.88" y="401.13" width="15.75" height="2.02" fill="#a8725c"/>
<rect x="385.88" y="403.10" width="15.75" height="2.02" fill="#450905"/>
<rect x="385.88" y="405.07" width="15.75" height="2.02" fill="#b11605"/>
<rect x="385.88" y="407.03" width="15.75" height="2.02" fill="#750f05"/>
<rect x="385.88" y="409.00" width="15.75" height="2.02" fill="#710e05"/>
<rect x="385.88" y="410.97" width="15.75" height="2.02" fill="#3b0805"/>
<rect x="385.88" y="412.93" width="15.75" height="2.02" fill="#400805"/>
<rect x="385.88" y="414.90" width="15.75" height="2.02" fill="#350605"/>
<rect x="385.88" y="416.87" width="15.75" height="2.02" fill="#6a0a05"/>
<rect x="385.88" y="418.83" width="15.75" height="2.02" fill="#800a04"/>
<rect x="385.88" y="420.80" width="15.75" height="2.02" fill="#4c0604"/>
<rect x="385.88" y="422.77" width="15.75" height="2.02" fill="#7d0804"/>
<rect x="385.88" y="424.73" width="15.75" height="2.02" fill="#550604"/>
<rect x="385.88" y="426.70" width="15.75" height="2.02" fill="#8f0904"/>
<rect x="385.88" y="428.67" width="15.75" height="2.02" fill="#7f0904"/>
<rect x="385.88" y="430.63" width="15.75" height="2.02" fill="#700804"/>
<rect x="385.88" y="432.60" width="15.75" height="2.02" fill="#680705"/>
<rect x="385.88" y="434.57" width="15.75" height="2.02" fill="#7c0905"/>
<rect x="385.88" y="436.53" width="15.75" height="2.02" fill="#5d0705"/>
<rect x="385.88" y="438.50" width="15.75" height="2.02" fill="#8f5f4b"/>
<rect x="385.88" y="440.47" width="15.75" height="2.02" fill="#820a05"/>
<rect x="385.88" y="442.43" width="15.75" height="2.02" fill="#3f0705"/>
<rect x="385.88" y="444.40" width="15.75" height="2.02" fill="#9d8d6b"/>
<rect x="385.88" y="446.37" width="15.75" height="2.02" fill="#9d916d"/>
<rect x="385.88" y="448.33" width="15.75" height="2.02" fill="#5f0b06"/>
<rect x="385.88" y="450.30" width="15.75" height="2.02" fill="#650c06"/>
<rect x="385.88" y="452.27" width="15.75" height="2.02" fill="#490a07"/>
<rect x="385.88" y="454.23" width="15.75" height="2.02" fill="#c41707"/>
<rect x="385.88" y="456.20" width="15.75" height="2.02" fill="#4f0d07"/>
<rect x="385.88" y="458.17" width="15.75" height="2.02" fill="#9a1707"/>
<rect x="385.88" y="460.13" width="15.75" height="2.02" fill="#681307"/>
<rect x="385.88" y="462.10" width="15.75" height="2.02" fill="#691508"/>
<rect x="385.88" y="464.07" width="15.75" height="2.02" fill="#501308"/>
<rect x="385.88" y="466.03" width="15.75" height="2.02" fill="#781d08"/>
<rect x="385.88" y="468.00" width="15.75" height="2.02" fill="#a3755d"/>
<rect x="385.88" y="469.97" width="15.75" height="2.02" fill="#832608"/>
<rect x="385.88" y="471.93" width="15.75" height="2.02" fill="#4d1a09"/>
<rect x="385.88" y="473.90" width="15.75" height="2.02" fill="#772208"/>
<rect x="385.88" y="475.87" width="15.75" height="2.02" fill="#2c0e08"/>
<rect x="385.88" y="477.83" width="15.75" height="2.02" fill="#6f1907"/>
<rect x="385.88" y="479.80" width="15.75" height="2.02" fill="#410e07"/>
<rect x="385.88" y="481.77" width="15.75" height="2.02" fill="#7c1406"/>
<rect x="385.88" y="483.73" width="15.75" height="2.02" fill="#660e06"/>
<rect x="385.88" y="485.70" width="15.75" height="2.02" fill="#3f0805"/>
<rect x="385.88" y="487.67" width="15.75" height="2.02" fill="#5a0805"/>
<rect x="385.88" y="489.63" width="15.75" height="2.02" fill="#905548"/>
<rect x="385.88" y="491.60" width="15.75" height="2.02" fill="#4d0705"/>
<rect x="385.88" y="493.57" width="15.75" height="2.02" fill="#710905"/>
<rect x="385.88" y="495.53" width="15.75" height="4.02" fill="#650805"/>
<rect x="401.58" y="330.30" width="15.75" height="4.02" fill="#6b0204"/>
<rect x="401.58" y="334.27" width="15.75" height="2.02" fill="#c80204"/>
<rect x="401.58" y="336.23" width="15.75" height="2.02" fill="#990204"/>
<rect x="401.58" y="338.20" width="15.75" height="2.02" fill="#cb0204"/>
<rect x="401.58" y="340.17" width="15.75" height="2.02" fill="#8c0204"/>
<rect x="401.58" y="342.13" width="15.75" height="2.02" fill="#b70204"/>
<rect x="401.58" y="344.10" width="15.75" height="2.02" fill="#d10204"/>
<rect x="401.58" y="346.07" width="15.75" height="2.02" fill="#a60204"/>
<rect x="401.58" y="348.03" width="15.75" height="2.02" fill="#a10204"/>
<rect x="401.58" y="350.00" width="15.75" height="2.02" fill="#890204"/>
<rect x="401.58" y="351.97" width="15.75" height="2.02" fill="#970204"/>
<rect x="401.58" y="353.93" width="15.75" height="2.02" fill="#920204"/>
<rect x="401.58" y="355.90" width="15.75" height="2.02" fill="#790204"/>
<rect x="401.58" y="357.87" width="15.75" height="2.02" fill="#700204"/>
<rect x="401.58" y="359.83" width="15.75" height="2.02" fill="#eb0204"/>
<rect x="401.58" y="361.80" width="15.75" height="2.02" fill="#700204"/>
<rect x="401.58" y="363.77" width="15.75" height="2.02" fill="#cf0204"/>
<rect x="401.58" y="365.73" width="15.75" height="2.02" fill="#bc0204"/>
<rect x="401.58" y="367.70" width="15.75" height="2.02" fill="#c50204"/>
<rect x="401.58" y="369.67" width="15.75" height="2.02" fill="#da0204"/>
<rect x="401.58" y="371.63" width="15.75" height="2.02" fill="#740204"/>
<rect x="401.58" y="373.60" width="15.75" height="2.02" fill="#b00204"/>
<rect x="401.58" y="375.57" width="15.75" height="2.02" fill="#bf0304"/>
<rect x="401.58" y="377.53" width="15.75" height="2.02" fill="#930304"/>
<rect x="401.58" y="379.50" width="15.75" height="2.02" fill="#ad0404"/>
<rect x="401.58" y="381.47" width="15.75" height="2.02" fill="#b80504"/>
<rect x="401.58" y="383.43" width="15.75" height="2.02" fill="#8a0504"/>
<rect x="401.58" y="385.40" width="15.75" height="2.02" fill="#500404"/>
<rect x="401.58" y="387.37" width="15.75" height="2.02" fill="#890604"/>
<rect x="401.58" y="389.33" width="15.75" height="2.02" fill="#bb0804"/>
<rect x="401.58" y="391.30" width="15.75" height="2.02" fill="#9c0804"/>
<rect x="401.58" y="393.27" width="15.75" height="2.02" fill="#660704"/>
<rect x="401.58" y="395.23" width="15.75" height="2.02" fill="#b70c05"/>
<rect x="401.58" y="397.20" width="15.75" height="2.02" fill="#6d0805"/>
<rect x="401.58" y="399.17" width="15.75" height="2.02" fill="#a70d05"/>
<rect x="401.58" y="401.13" width="15.75" height="2.02" fill="#510805"/>
<rect x="401.58" y="403.10" width="15.75" height="2.02" fill="#930e05"/>
<rect x="401.58" y="405.07" width="15.75" height="2.02" fill="#8e0f05"/>
<rect x="401.58" y="407.03" width="15.75" height="2.02" fill="#ac8667"/>
<rect x="401.58" y="409.00" width="15.75" height="2.02" fill="#540c06"/>
<rect x="401.58" y="410.97" width="15.75" height="2.02" fill="#a11706"/>
<rect x="401.58" y="412.93" width="15.75" height="2.02" fill="#a41a06"/>
<rect x="401.58" y="414.90" width="15.75" height="2.02" fill="#661306"/>
<rect x="401.58" y="416.87" width="15.75" height="2.02" fill="#981e07"/>
<rect x="401.58" y="418.83" width="15.75" height="2.02" fill="#b72707"/>
<rect x="401.58" y="420.80" width="15.75" height="2.02" fill="#721c07"/>
<rect x="401.58" y="422.77" width="15.75" height="2.02" fill="#c08c6c"/>
<rect x="401.58" y="424.73" width="15.75" height="2.02" fill="#491307"/>
<rect x="401.58" y="426.70" width="15.75" height="2.02" fill="#781c07"/>
<rect x="401.58" y="428.67" width="15.75" height="2.02" fill="#701806"/>
<rect x="401.58" y="430.63" width="15.75" height="2.02" fill="#5c1306"/>
<rect x="401.58" y="432.60" width="15.75" height="2.02" fill="#380c06"/>
<rect x="401.58" y="434.57" width="15.75" height="2.02" fill="#991906"/>
<rect x="401.58" y="436.53" width="15.75" height="2.02" fill="#631006"/>
<rect x="401.58" y="438.50" width="15.75" height="2.02" fill="#480b06"/>
<rect x="401.58" y="440.47" width="15.75" height="2.02" fill="#450d06"/>
<rect x="401.58" y="442.43" width="15.75" height="2.02" fill="#3b0d06"/>
<rect x="401.58" y="444.40" width="15.75" height="2.02" fill="#461106"/>
<rect x="401.58" y="446.37" width="15.75" height="2.02" fill="#782006"/>
<rect x="401.58" y="448.33" width="15.75" height="2.02" fill="#a67c62"/>
<rect x="401.58" y="450.30" width="15.75" height="2.02" fill="#752707"/>
<rect x="401.58" y="452.27" width="15.75" height="2.02" fill="#7f2e07"/>
<rect x="401.58" y="454.23" width="15.75" height="2.02" fill="#103e07"/>
<rect x="401.58" y="456.20" width="15.75" height="2.02" fill="#b00907"/>
<rect x="401.58" y="458.17" width="15.75" height="2.02" fill="#231208"/>
<rect x="401.58" y="460.13" width="15.75" height="2.02" fill="#6c0a08"/>
<rect x="401.58" y="462.10" width="15.75" height="2.02" fill="#3e1109"/>
<rect x="401.58" y="464.07" width="15.75" height="2.02" fill="#4e0b09"/>
<rect x="401.58" y="466.03" width="15.75" height="2.02" fill="#b50c0a"/>
<rect x="401.58" y="468.00" width="15.75" height="2.02" fill="#533a0b"/>
<rect x="401.58" y="469.97" width="15.75" height="2.02" fill="#85805c"/>
<rect x="401.58" y="471.93" width="15.75" height="2.02" fill="#970e0c"/>
<rect x="401.58" y="473.90" width="15.75" height="2.02" fill="#2b0e0b"/>
<rect x="401.58" y="475.87" width="15.75" height="2.02" fill="#19280b"/>
<rect x="401.58" y="477.83" width="15.75" height="2.02" fill="#969163"/>
<rect x="401.58" y="479.80" width="15.75" height="2.02" fill="#0f490b"/>
<rect x="401.58" y="481.77" width="15.75" height="2.02" fill="#887b5b"/>
<rect x="401.58" y="483.73" width="15.75" height="2.02" fill="#6f0e0a"/>
<rect x="401.58" y="485.70" width="15.75" height="2.02" fill="#7d7b4e"/>
<rect x="401.58" y="487.67" width="15.75" height="2.02" fill="#b80e0a"/>
<rect x="401.58" y="489.63" width="15.75" height="2.02" fill="#b80e0a"/>
<rect x="401.58" y="491.60" width="15.75" height="2.02" fill="#7e6f4d"/>
<rect x="401.58" y="493.57" width="15.75" height="2.02" fill="#0ea30a"/>
<rect x="401.58" y="495.53" width="15.75" height="4.02" fill="#600e0a"/>
<rect x="417.28" y="330.30" width="15.75" height="4.02" fill="#9e0204"/>
<rect x="417.28" y="334.27" width="15.75" height="2.02" fill="#b10204"/>
<rect x="417.28" y="336.23" width="15.75" height="2.02" fill="#db0204"/>
<rect x="417.28" y="338.20" width="15.75" height="2.02" fill="#cf0204"/>
<rect x="417.28" y="340.17" width="15.75" height="2.02" fill="#a20104"/>
<rect x="417.28" y="342.13" width="15.75" height="2.02" fill="#b10104"/>
<rect x="417.28" y="344.10" width="15.75" height="2.02" fill="#800104"/>
<rect x="417.28" y="346.07" width="15.75" height="2.02" fill="#dc0104"/>
<rect x="417.28" y="348.03" width="15.75" height="2.02" fill="#960104"/>
<rect x="417.28" y="350.00" width="15.75" height="2.02" fill="#b70104"/>
<rect x="417.28" y="351.97" width="15.75" height="2.02" fill="#aa0104"/>
<rect x="417.28" y="353.93" width="15.75" height="2.02" fill="#840104"/>
<rect x="417.28" y="355.90" width="15.75" height="2.02" fill="#990103"/>
<rect x="417.28" y="357.87" width="15.75" height="2.02" fill="#f10104"/>
<rect x="417.28" y="359.83" width="15.75" height="2.02" fill="#e20104"/>
<rect x="417.28" y="361.80" width="15.75" height="2.02" fill="#7c0104"/>
<rect x="417.28" y="363.77" width="15.75" height="2.02" fill="#cf0104"/>
<rect x="417.28" y="365.73" width="15.75" height="2.02" fill="#ae0104"/>
<rect x="417.28" y="367.70" width="15.75" height="2.02" fill="#a60104"/>
<rect x="417.28" y="369.67" width="15.75" height="2.02" fill="#e40104"/>
<rect x="417.28" y="371.63" width="15.75" height="2.02" fill="#c40104"/>
<rect x="417.28" y="373.60" width="15.75" height="2.02" fill="#c30204"/>
<rect x="417.28" y="375.57" width="15.75" height="2.02" fill="#e20204"/>
<rect x="417.28" y="377.53" width="15.75" height="2.02" fill="#730204"/>
<rect x="417.28" y="379.50" width="15.75" height="2.02" fill="#cc0204"/>
<rect x="417.28" y="381.47" width="15.75" height="2.02" fill="#500204"/>
<rect x="417.28" y="383.43" width="15.75" height="2.02" fill="#6c0204"/>
<rect x="417.28" y="385.40" width="15.75" height="2.02" fill="#9f0204"/>
<rect x="417.28" y="387.37" width="15.75" height="2.02" fill="#9c0204"/>
<rect x="417.28" y="389.33" width="15.75" height="2.02" fill="#870204"/>
<rect x="417.28" y="391.30" width="15.75" height="2.02" fill="#8f0204"/>
<rect x="417.28" y="393.27" width="15.75" height="2.02" fill="#aa0204"/>
<rect x="417.28" y="395.23" width="15.75" height="2.02" fill="#6a0204"/>
<rect x="417.28" y="397.20" width="15.75" height="2.02" fill="#6f0204"/>
<rect x="417.28" y="399.17" width="15.75" height="2.02" fill="#860205"/>
<rect x="417.28" y="401.13" width="15.75" height="2.02" fill="#7f0205"/>
<rect x="417.28" y="403.10" width="15.75" height="2.02" fill="#930205"/>
<rect x="417.28" y="405.07" width="15.75" height="2.02" fill="#bc0205"/>
<rect x="417.28" y="407.03" width="15.75" height="2.02" fill="#e90205"/>
<rect x="417.28" y="409.00" width="15.75" height="2.02" fill="#630205"/>
<rect x="417.28" y="410.97" width="15.75" height="2.02" fill="#560205"/>
<rect x="417.28" y="412.93" width="15.75" height="2.02" fill="#a70205"/>
<rect x="417.28" y="414.90" width="15.75" height="2.02" fill="#900205"/>
<rect x="417.28" y="416.87" width="15.75" height="2.02" fill="#6c0205"/>
<rect x="417.28" y="418.83" width="15.75" height="2.02" fill="#c10205"/>
<rect x="417.28" y="420.80" width="15.75" height="2.02" fill="#710205"/>
<rect x="417.28" y="422.77" width="15.75" height="2.02" fill="#8a4d3e"/>
<rect x="417.28" y="424.73" width="15.75" height="2.02" fill="#650205"/>
<rect x="417.28" y="426.70" width="15.75" height="2.02" fill="#b50205"/>
<rect x="417.28" y="428.67" width="15.75" height="2.02" fill="#e40205"/>
<rect x="417.28" y="430.63" width="15.75" height="2.02" fill="#880205"/>
<rect x="417.28" y="432.60" width="15.75" height="2.02" fill="#ba0205"/>
<rect x="417.28" y="434.57" width="15.75" height="2.02" fill="#d60205"/>
<rect x="417.28" y="436.53" width="15.75" height="2.02" fill="#6a0205"/>
<rect x="417.28" y="438.50" width="15.75" height="2.02" fill="#ff0205"/>
<rect x="417.28" y="440.47" width="15.75" height="2.02" fill="#780305"/>
<rect x="417.28" y="442.43" width="15.75" height="2.02" fill="#bd0605"/>
<rect x="417.28" y="444.40" width="15.75" height="2.02" fill="#6d0606"/>
<rect x="417.28" y="446.37" width="15.75" height="2.02" fill="#6b0706"/>
<rect x="417.28" y="448.33" width="15.75" height="2.02" fill="#860a06"/>
<rect x="417.28" y="450.30" width="15.75" height="2.02" fill="#970d06"/>
<rect x="417.28" y="452.27" width="15.75" height="2.02" fill="#8a0e07"/>
<rect x="417.28" y="454.23" width="15.75" height="2.02" fill="#5c0c07"/>
<rect x="417.28" y="456.20" width="15.75" height="2.02" fill="#d31707"/>
<rect x="417.28" y="458.17" width="15.75" height="2.02" fill="#860f07"/>
<rect x="417.28" y="460.13" width="15.75" height="2.02" fill="#951007"/>
<rect x="417.28" y="462.10" width="15.75" height="2.02" fill="#490907"/>
<rect x="417.28" y="464.07" width="15.75" height="2.02" fill="#560a07"/>
<rect x="417.28" y="466.03" width="15.75" height="2.02" fill="#c87566"/>
<rect x="417.28" y="468.00" width="15.75" height="2.02" fill="#960d06"/>
<rect x="417.28" y="469.97" width="15.75" height="2.02" fill="#a76e61"/>
<rect x="417.28" y="471.93" width="15.75" height="2.02" fill="#960b06"/>
<rect x="417.28" y="473.90" width="15.75" height="2.02" fill="#4c0806"/>
<rect x="417.28" y="475.87" width="15.75" height="2.02" fill="#840a07"/>
<rect x="417.28" y="477.83" width="15.75" height="2.02" fill="#915143"/>
<rect x="417.28" y="479.80" width="15.75" height="2.02" fill="#850b07"/>
<rect x="417.28" y="481.77" width="15.75" height="2.02" fill="#560907"/>
<rect x="417.28" y="483.73" width="15.75" height="2.02" fill="#9e0d07"/>
<rect x="417.28" y="485.70" width="15.75" height="2.02" fill="#600a08"/>
<rect x="417.28" y="487.67" width="15.75" height="2.02" fill="#910c08"/>
<rect x="417.28" y="489.63" width="15.75" height="2.02" fill="#850c08"/>
<rect x="417.28" y="491.60" width="15.75" height="2.02" fill="#d61008"/>
<rect x="417.28" y="493.57" width="15.75" height="2.02" fill="#a90d08"/>
<rect x="417.28" y="495.53" width="15.75" height="4.02" fill="#cb0f08"/>
<rect x="432.98" y="330.30" width="15.75" height="4.02" fill="#ff0204"/>
<rect x="432.98" y="334.27" width="15.75" height="2.02" fill="#d10204"/>
<rect x="432.98" y="336.23" width="15.75" height="2.02" fill="#e10204"/>
<rect x="432.98" y="338.20" width="15.75" height="2.02" fill="#d20204"/>
<rect x="432.98" y="340.17" width="15.75" height="2.02" fill="#ff0104"/>
<rect x="432.98" y="342.13" width="15.75" height="2.02" fill="#f70104"/>
<rect x="432.98" y="344.10" width="15.75" height="2.02" fill="#d10104"/>
<rect x="432.98" y="346.07" width="15.75" height="2.02" fill="#cf0104"/>
<rect x="432.98" y="348.03" width="15.75" height="2.02" fill="#ff0104"/>
<rect x="432.98" y="350.00" width="15.75" height="2.02" fill="#fe0104"/>
<rect x="432.98" y="351.97" width="15.75" height="2.02" fill="#ff0103"/>
<rect x="432.98" y="353.93" width="15.75" height="2.02" fill="#e77e60"/>
<rect x="432.98" y="355.90" width="15.75" height="2.02" fill="#b70103"/>
<rect x="432.98" y="357.87" width="15.75" height="2.02" fill="#ff0103"/>
<rect x="432.98" y="359.83" width="15.75" height="2.02" fill="#cb0103"/>
<rect x="432.98" y="361.80" width="15.75" height="2.02" fill="#e40103"/>
<rect x="432.98" y="363.77" width="15.75" height="2.02" fill="#f20103"/>
<rect x="432.98" y="365.73" width="15.75" height="2.02" fill="#ff0103"/>
<rect x="432.98" y="367.70" width="15.75" height="2.02" fill="#cf0103"/>
<rect x="432.98" y="369.67" width="15.75" height="2.02" fill="#e90103"/>
<rect x="432.98" y="371.63" width="15.75" height="2.02" fill="#b50103"/>
<rect x="432.98" y="373.60" width="15.75" height="2.02" fill="#b00103"/>
<rect x="432.98" y="375.57" width="15.75" height="2.02" fill="#b90103"/>
<rect x="432.98" y="377.53" width="15.75" height="2.02" fill="#d40104"/>
<rect x="432.98" y="379.50" width="15.75" height="2.02" fill="#c80104"/>
<rect x="432.98" y="381.47" width="15.75" height="2.02" fill="#fe0104"/>
<rect x="432.98" y="383.43" width="15.75" height="2.02" fill="#c40104"/>
<rect x="432.98" y="385.40" width="15.75" height="2.02" fill="#ee0104"/>
<rect x="432.98" y="387.37" width="15.75" height="2.02" fill="#ff0104"/>
<rect x="432.98" y="389.33" width="15.75" height="2.02" fill="#ff0204"/>
<rect x="432.98" y="391.30" width="15.75" height="2.02" fill="#ff0204"/>
<rect x="432.98" y="393.27" width="15.75" height="2.02" fill="#ff0204"/>
<rect x="432.98" y="395.23" width="15.75" height="2.02" fill="#b40204"/>
<rect x="432.98" y="397.20" width="15.75" height="2.02" fill="#d90204"/>
<rect x="432.98" y="399.17" width="15.75" height="2.02" fill="#ff0205"/>
<rect x="432.98" y="401.13" width="15.75" height="2.02" fill="#af0205"/>
<rect x="432.98" y="403.10" width="15.75" height="2.02" fill="#ef0205"/>
<rect x="432.98" y="405.07" width="15.75" height="2.02" fill="#ff0205"/>
<rect x="432.98" y="407.03" width="15.75" height="2.02" fill="#ff0205"/>
<rect x="432.98" y="409.00" width="15.75" height="2.02" fill="#ff0205"/>
<rect x="432.98" y="410.97" width="15.75" height="2.02" fill="#ff0205"/>
<rect x="432.98" y="412.93" width="15.75" height="2.02" fill="#e20204"/>
<rect x="432.98" y="414.90" width="15.75" height="2.02" fill="#ff0204"/>
<rect x="432.98" y="416.87" width="15.75" height="2.02" fill="#c70204"/>
<rect x="432.98" y="418.83" width="15.75" height="2.02" fill="#ff0204"/>
<rect x="432.98" y="420.80" width="15.75" height="2.02" fill="#ff0204"/>
<rect x="432.98" y="422.77" width="15.75" height="2.02" fill="#ff0204"/>
<rect x="432.98" y="424.73" width="15.75" height="2.02" fill="#ee0204"/>
<rect x="432.98" y="426.70" width="15.75" height="2.02" fill="#ff0204"/>
<rect x="432.98" y="428.67" width="15.75" height="2.02" fill="#ff0204"/>
<rect x="432.98" y="430.63" width="15.75" height="2.02" fill="#f30204"/>
<rect x="432.98" y="432.60" width="15.75" height="2.02" fill="#fc0204"/>
<rect x="432.98" y="434.57" width="15.75" height="2.02" fill="#ff0204"/>
<rect x="432.98" y="436.53" width="15.75" height="2.02" fill="#d00204"/>
<rect x="432.98" y="438.50" width="15.75" height="2.02" fill="#ff0204"/>
<rect x="432.98" y="440.47" width="15.75" height="2.02" fill="#bc0204"/>
<rect x="432.98" y="442.43" width="15.75" height="2.02" fill="#d70204"/>
<rect x="432.98" y="444.40" width="15.75" height="2.02" fill="#e30204"/>
<rect x="432.98" y="446.37" width="15.75" height="2.02" fill="#ff0204"/>
<rect x="432.98" y="448.33" width="15.75" height="2.02" fill="#ac0204"/>
<rect x="432.98" y="450.30" width="15.75" height="2.02" fill="#a10205"/>
<rect x="432.98" y="452.27" width="15.75" height="2.02" fill="#fb7164"/>
<rect x="432.98" y="454.23" width="15.75" height="2.02" fill="#ff0205"/>
<rect x="432.98" y="456.20" width="15.75" height="2.02" fill="#ca0205"/>
<rect x="432.98" y="458.17" width="15.75" height="2.02" fill="#eb0205"/>
<rect x="432.98" y="460.13" width="15.75" height="2.02" fill="#eb0205"/>
<rect x="432.98" y="462.10" width="15.75" height="2.02" fill="#a10305"/>
<rect x="432.98" y="464.07" width="15.75" height="2.02" fill="#b70305"/>
<rect x="432.98" y="466.03" width="15.75" height="2.02" fill="#ff0305"/>
<rect x="432.98" y="468.00" width="15.75" height="2.02" fill="#dd0305"/>
<rect x="432.98" y="469.97" width="15.75" height="2.02" fill="#ad0305"/>
<rect x="432.98" y="471.93" width="15.75" height="2.02" fill="#f60306"/>
<rect x="432.98" y="473.90" width="15.75" height="2.02" fill="#c30306"/>
<rect x="432.98" y="475.87" width="15.75" height="2.02" fill="#ba0306"/>
<rect x="432.98" y="477.83" width="15.75" height="2.02" fill="#a50306"/>
<rect x="432.98" y="479.80" width="15.75" height="2.02" fill="#c80306"/>
<rect x="432.98" y="481.77" width="15.75" height="2.02" fill="#df0306"/>
<rect x="432.98" y="483.73" width="15.75" height="2.02" fill="#f80406"/>
<rect x="432.98" y="485.70" width="15.75" height="2.02" fill="#ba0406"/>
<rect x="432.98" y="487.67" width="15.75" height="2.02" fill="#ae0406"/>
<rect x="432.98" y="489.63" width="15.75" height="2.02" fill="#e47c6c"/>
<rect x="432.98" y="491.60" width="15.75" height="2.02" fill="#ff0406"/>
<rect x="432.98" y="493.57" width="15.75" height="2.02" fill="#e50406"/>
<rect x="432.98" y="495.53" width="15.75" height="4.02" fill="#ff0406"/>
<rect x="448.69" y="330.30" width="15.75" height="4.02" fill="#ff0204"/>
<rect x="448.69" y="334.27" width="15.75" height="2.02" fill="#bf0204"/>
<rect x="448.69" y="336.23" width="15.75" height="2.02" fill="#ff0204"/>
<rect x="448.69" y="338.20" width="15.75" height="2.02" fill="#ff0204"/>
<rect x="448.69" y="340.17" width="15.75" height="2.02" fill="#ee6c53"/>
<rect x="448.69" y="342.13" width="15.75" height="2.02" fill="#ff0204"/>
<rect x="448.69" y="344.10" width="15.75" height="2.02" fill="#c00204"/>
<rect x="448.69" y="346.07" width="15.75" height="2.02" fill="#d00204"/>
<rect x="448.69" y="348.03" width="15.75" height="2.02" fill="#ff0204"/>
<rect x="448.69" y="350.00" width="15.75" height="2.02" fill="#ca0204"/>
<rect x="448.69" y="351.97" width="15.75" height="2.02" fill="#ca0204"/>
<rect x="448.69" y="353.93" width="15.75" height="2.02" fill="#e17861"/>
<rect x="448.69" y="355.90" width="15.75" height="2.02" fill="#fb7960"/>
<rect x="448.69" y="357.87" width="15.75" height="2.02" fill="#ff0204"/>
<rect x="448.69" y="359.83" width="15.75" height="2.02" fill="#ff0204"/>
<rect x="448.69" y="361.80" width="15.75" height="2.02" fill="#e40204"/>
<rect x="448.69" y="363.77" width="15.75" height="2.02" fill="#ff0204"/>
<rect x="448.69" y="365.73" width="15.75" height="2.02" fill="#ff0204"/>
<rect x="448.69" y="367.70" width="15.75" height="2.02" fill="#fc0204"/>
<rect x="448.69" y="369.67" width="15.75" height="2.02" fill="#b90204"/>
<rect x="448.69" y="371.63" width="15.75" height="2.02" fill="#a90204"/>
<rect x="448.69" y="373.60" width="15.75" height="2.02" fill="#9f0204"/>
<rect x="448.69" y="375.57" width="15.75" height="2.02" fill="#ff0204"/>
<rect x="448.69" y="377.53" width="15.75" height="2.02" fill="#ba0204"/>
<rect x="448.69" y="379.50" width="15.75" height="2.02" fill="#e20204"/>
<rect x="448.69" y="381.47" width="15.75" height="2.02" fill="#a30204"/>
<rect x="448.69" y="383.43" width="15.75" height="2.02" fill="#d20204"/>
<rect x="448.69" y="385.40" width="15.75" height="2.02" fill="#fe0204"/>
<rect x="448.69" y="387.37" width="15.75" height="2.02" fill="#d70204"/>
<rect x="448.69" y="389.33" width="15.75" height="2.02" fill="#f10204"/>
<rect x="448.69" y="391.30" width="15.75" height="2.02" fill="#f00204"/>
<rect x="448.69" y="393.27" width="15.75" height="2.02" fill="#c20204"/>
<rect x="448.69" y="395.23" width="15.75" height="2.02" fill="#fd0204"/>
<rect x="448.69" y="397.20" width="15.75" height="2.02" fill="#e20204"/>
<rect x="448.69" y="399.17" width="15.75" height="2.02" fill="#ab0205"/>
<rect x="448.69" y="401.13" width="15.75" height="2.02" fill="#d30205"/>
<rect x="448.69" y="403.10" width="15.75" height="2.02" fill="#ff0205"/>
<rect x="448.69" y="405.07" width="15.75" height="2.02" fill="#d20205"/>
<rect x="448.69" y="407.03" width="15.75" height="2.02" fill="#ff0205"/>
<rect x="448.69" y="409.00" width="15.75" height="2.02" fill="#ca0205"/>
<rect x="448.69" y="410.97" width="15.75" height="2.02" fill="#e20205"/>
<rect x="448.69" y="412.93" width="15.75" height="2.02" fill="#ca0205"/>
<rect x="448.69" y="414.90" width="15.75" height="2.02" fill="#d30205"/>
<rect x="448.69" y="416.87" width="15.75" height="2.02" fill="#ba0205"/>
<rect x="448.69" y="418.83" width="15.75" height="2.02" fill="#fb0205"/>
<rect x="448.69" y="420.80" width="15.75" height="2.02" fill="#b20205"/>
<rect x="448.69" y="422.77" width="15.75" height="2.02" fill="#df0205"/>
<rect x="448.69" y="424.73" width="15.75" height="2.02" fill="#ed0205"/>
<rect x="448.69" y="426.70" width="15.75" height="2.02" fill="#f60205"/>
<rect x="448.69" y="428.67" width="15.75" height="2.02" fill="#ff0205"/>
<rect x="448.69" y="430.63" width="15.75" height="2.02" fill="#cc0205"/>
<rect x="448.69" y="432.60" width="15.75" height="2.02" fill="#a00205"/>
<rect x="448.69" y="434.57" width="15.75" height="2.02" fill="#ff0205"/>
<rect x="448.69" y="436.53" width="15.75" height="2.02" fill="#fe0205"/>
<rect x="448.69" y="438.50" width="15.75" height="2.02" fill="#e10205"/>
<rect x="448.69" y="440.47" width="15.75" height="2.02" fill="#f90205"/>
<rect x="448.69" y="442.43" width="15.75" height="2.02" fill="#b70205"/>
<rect x="448.69" y="444.40" width="15.75" height="2.02" fill="#f40305"/>
<rect x="448.69" y="446.37" width="15.75" height="2.02" fill="#d96359"/>
<rect x="448.69" y="448.33" width="15.75" height="2.02" fill="#c70305"/>
<rect x="448.69" y="450.30" width="15.75" height="2.02" fill="#b80305"/>
<rect x="448.69" y="452.27" width="15.75" height="2.02" fill="#ac0305"/>
<rect x="448.69" y="454.23" width="15.75" height="2.02" fill="#ff0306"/>
<rect x="448.69" y="456.20" width="15.75" height="2.02" fill="#c90306"/>
<rect x="448.69" y="458.17" width="15.75" height="2.02" fill="#9e0406"/>
<rect x="448.69" y="460.13" width="15.75" height="2.02" fill="#810406"/>
<rect x="448.69" y="462.10" width="15.75" height="2.02" fill="#aa0606"/>
<rect x="448.69" y="464.07" width="15.75" height="2.02" fill="#790506"/>
<rect x="448.69" y="466.03" width="15.75" height="2.02" fill="#740606"/>
<rect x="448.69" y="468.00" width="15.75" height="2.02" fill="#c05f49"/>
<rect x="448.69" y="469.97" width="15.75" height="2.02" fill="#e0936f"/>
<rect x="448.69" y="471.93" width="15.75" height="2.02" fill="#a20906"/>
<rect x="448.69" y="473.90" width="15.75" height="2.02" fill="#bc0906"/>
<rect x="448.69" y="475.87" width="15.75" height="2.02" fill="#ff0b06"/>
<rect x="448.69" y="477.83" width="15.75" height="2.02" fill="#600607"/>
<rect x="448.69" y="479.80" width="15.75" height="2.02" fill="#ff0907"/>
<rect x="448.69" y="481.77" width="15.75" height="2.02" fill="#920607"/>
<rect x="448.69" y="483.73" width="15.75" height="2.02" fill="#e70607"/>
<rect x="448.69" y="485.70" width="15.75" height="2.02" fill="#7c0507"/>
<rect x="448.69" y="487.67" width="15.75" height="2.02" fill="#d70507"/>
<rect x="448.69" y="489.63" width="15.75" height="2.02" fill="#c57e6c"/>
<rect x="448.69" y="491.60" width="15.75" height="2.02" fill="#e20407"/>
<rect x="448.69" y="493.57" width="15.75" height="2.02" fill="#d70407"/>
<rect x="448.69" y="495.53" width="15.75" height="4.02" fill="#c60407"/>
<rect x="464.39" y="330.30" width="15.75" height="4.02" fill="#af0204"/>
<rect x="464.39" y="334.27" width="15.75" height="2.02" fill="#aa0204"/>
<rect x="464.39" y="336.23" width="15.75" height="2.02" fill="#5d0204"/>
<rect x="464.39" y="338.20" width="15.75" height="2.02" fill="#7e0204"/>
<rect x="464.39" y="340.17" width="15.75" height="2.02" fill="#710204"/>
<rect x="464.39" y="342.13" width="15.75" height="2.02" fill="#720204"/>
<rect x="464.39" y="344.10" width="15.75" height="2.02" fill="#a20304"/>
<rect x="464.39" y="346.07" width="15.75" height="2.02" fill="#760404"/>
<rect x="464.39" y="348.03" width="15.75" height="2.02" fill="#ac0504"/>
<rect x="464.39" y="350.00" width="15.75" height="2.02" fill="#6c0504"/>
<rect x="464.39" y="351.97" width="15.75" height="2.02" fill="#780604"/>
<rect x="464.39" y="353.93" width="15.75" height="2.02" fill="#670604"/>
<rect x="464.39" y="355.90" width="15.75" height="2.02" fill="#3a0404"/>
<rect x="464.39" y="357.87" width="15.75" height="2.02" fill="#870804"/>
<rect x="464.39" y="359.83" width="15.75" height="2.02" fill="#ae0a04"/>
<rect x="464.39" y="361.80" width="15.75" height="2.02" fill="#550604"/>
<rect x="464.39" y="363.77" width="15.75" height="2.02" fill="#a40904"/>
<rect x="464.39" y="365.73" width="15.75" height="2.02" fill="#590604"/>
<rect x="464.39" y="367.70" width="15.75" height="2.02" fill="#aa0904"/>
<rect x="464.39" y="369.67" width="15.75" height="2.02" fill="#920804"/>
<rect x="464.39" y="371.63" width="15.75" height="2.02" fill="#740704"/>
<rect x="464.39" y="373.60" width="15.75" height="2.02" fill="#5e0604"/>
<rect x="464.39" y="375.57" width="15.75" height="2.02" fill="#6c0704"/>
<rect x="464.39" y="377.53" width="15.75" height="2.02" fill="#880a04"/>
<rect x="464.39" y="379.50" width="15.75" height="2.02" fill="#590704"/>
<rect x="464.39" y="381.47" width="15.75" height="2.02" fill="#6b0904"/>
<rect x="464.39" y="383.43" width="15.75" height="2.02" fill="#380604"/>
<rect x="464.39" y="385.40" width="15.75" height="2.02" fill="#530904"/>
<rect x="464.39" y="387.37" width="15.75" height="2.02" fill="#7e0d04"/>
<rect x="464.39" y="389.33" width="15.75" height="2.02" fill="#580a04"/>
<rect x="464.39" y="391.30" width="15.75" height="2.02" fill="#450904"/>
<rect x="464.39" y="393.27" width="15.75" height="2.02" fill="#941305"/>
<rect x="464.39" y="395.23" width="15.75" height="2.02" fill="#690f05"/>
<rect x="464.39" y="397.20" width="15.75" height="2.02" fill="#4c0c05"/>
<rect x="464.39" y="399.17" width="15.75" height="2.02" fill="#490d05"/>
<rect x="464.39" y="401.13" width="15.75" height="2.02" fill="#921906"/>
<rect x="464.39" y="403.10" width="15.75" height="2.02" fill="#6b1406"/>
<rect x="464.39" y="405.07" width="15.75" height="2.02" fill="#8b1b06"/>
<rect x="464.39" y="407.03" width="15.75" height="2.02" fill="#931e06"/>
<rect x="464.39" y="409.00" width="15.75" height="2.02" fill="#4c1206"/>
<rect x="464.39" y="410.97" width="15.75" height="2.02" fill="#8e7458"/>
<rect x="464.39" y="412.93" width="15.75" height="2.02" fill="#8b2106"/>
<rect x="464.39" y="414.90" width="15.75" height="2.02" fill="#5c1806"/>
<rect x="464.39" y="416.87" width="15.75" height="2.02" fill="#501606"/>
<rect x="464.39" y="418.83" width="15.75" height="2.02" fill="#91855e"/>
<rect x="464.39" y="420.80" width="15.75" height="2.02" fill="#7a2406"/>
<rect x="464.39" y="422.77" width="15.75" height="2.02" fill="#7d2506"/>
<rect x="464.39" y="424.73" width="15.75" height="2.02" fill="#581906"/>
<rect x="464.39" y="426.70" width="15.75" height="2.02" fill="#651906"/>
<rect x="464.39" y="428.67" width="15.75" height="2.02" fill="#481106"/>
<rect x="464.39" y="430.63" width="15.75" height="2.02" fill="#501106"/>
<rect x="464.39" y="432.60" width="15.75" height="2.02" fill="#651306"/>
<rect x="464.39" y="434.57" width="15.75" height="2.02" fill="#711306"/>
<rect x="464.39" y="436.53" width="15.75" height="2.02" fill="#911506"/>
<rect x="464.39" y="438.50" width="15.75" height="2.02" fill="#4a0b06"/>
<rect x="464.39" y="440.47" width="15.75" height="2.02" fill="#941506"/>
<rect x="464.39" y="442.43" width="15.75" height="2.02" fill="#611006"/>
<rect x="464.39" y="444.40" width="15.75" height="2.02" fill="#651106"/>
<rect x="464.39" y="446.37" width="15.75" height="2.02" fill="#725942"/>
<rect x="464.39" y="448.33" width="15.75" height="2.02" fill="#691407"/>
<rect x="464.39" y="450.30" width="15.75" height="2.02" fill="#921d07"/>
<rect x="464.39" y="452.27" width="15.75" height="2.02" fill="#992007"/>
<rect x="464.39" y="454.23" width="15.75" height="2.02" fill="#b92808"/>
<rect x="464.39" y="456.20" width="15.75" height="2.02" fill="#4f1408"/>
<rect x="464.39" y="458.17" width="15.75" height="2.02" fill="#451308"/>
<rect x="464.39" y="460.13" width="15.75" height="2.02" fill="#745042"/>
<rect x="464.39" y="462.10" width="15.75" height="2.02" fill="#220d08"/>
<rect x="464.39" y="464.07" width="15.75" height="2.02" fill="#210d09"/>
<rect x="464.39" y="466.03" width="15.75" height="2.02" fill="#897452"/>
<rect x="464.39" y="468.00" width="15.75" height="2.02" fill="#1f0d09"/>
<rect x="464.39" y="469.97" width="15.75" height="2.02" fill="#251009"/>
<rect x="464.39" y="471.93" width="15.75" height="2.02" fill="#3a1709"/>
<rect x="464.39" y="473.90" width="15.75" height="2.02" fill="#2c1209"/>
<rect x="464.39" y="475.87" width="15.75" height="2.02" fill="#3c1509"/>
<rect x="464.39" y="477.83" width="15.75" height="2.02" fill="#715344"/>
<rect x="464.39" y="479.80" width="15.75" height="2.02" fill="#2b0e08"/>
<rect x="464.39" y="481.77" width="15.75" height="2.02" fill="#886249"/>
<rect x="464.39" y="483.73" width="15.75" height="2.02" fill="#5a1408"/>
<rect x="464.39" y="485.70" width="15.75" height="2.02" fill="#731707"/>
<rect x="464.39" y="487.67" width="15.75" height="2.02" fill="#390c07"/>
<rect x="464.39" y="489.63" width="15.75" height="2.02" fill="#a07859"/>
<rect x="464.39" y="491.60" width="15.75" height="2.02" fill="#ab1c07"/>
<rect x="464.39" y="493.57" width="15.75" height="2.02" fill="#4a0e07"/>
<rect x="464.39" y="495.53" width="15.75" height="4.02" fill="#a81c07"/>
<rect x="480.09" y="330.30" width="15.75" height="4.02" fill="#4d0103"/>
<rect x="480.09" y="334.27" width="15.75" height="2.02" fill="#6b0103"/>
<rect x="480.09" y="336.23" width="15.75" height="2.02" fill="#650103"/>
<rect x="480.09" y="338.20" width="15.75" height="2.02" fill="#420103"/>
<rect x="480.09" y="340.17" width="15.75" height="2.02" fill="#490103"/>
<rect x="480.09" y="342.13" width="15.75" height="2.02" fill="#490103"/>
<rect x="480.09" y="344.10" width="15.75" height="2.02" fill="#3a0103"/>
<rect x="480.09" y="346.07" width="15.75" height="2.02" fill="#2b0103"/>
<rect x="480.09" y="348.03" width="15.75" height="2.02" fill="#220204"/>
<rect x="480.09" y="350.00" width="15.75" height="2.02" fill="#590304"/>
<rect x="480.09" y="351.97" width="15.75" height="2.02" fill="#580304"/>
<rect x="480.09" y="353.93" width="15.75" height="2.02" fill="#330304"/>
<rect x="480.09" y="355.90" width="15.75" height="2.02" fill="#470304"/>
<rect x="480.09" y="357.87" width="15.75" height="2.02" fill="#550504"/>
<rect x="480.09" y="359.83" width="15.75" height="2.02" fill="#210304"/>
<rect x="480.09" y="361.80" width="15.75" height="2.02" fill="#1e0404"/>
<rect x="480.09" y="363.77" width="15.75" height="2.02" fill="#690b04"/>
<rect x="480.09" y="365.73" width="15.75" height="2.02" fill="#5e0c04"/>
<rect x="480.09" y="367.70" width="15.75" height="2.02" fill="#3c0904"/>
<rect x="480.09" y="369.67" width="15.75" height="2.02" fill="#270705"/>
<rect x="480.09" y="371.63" width="15.75" height="2.02" fill="#510f05"/>
<rect x="480.09" y="373.60" width="15.75" height="2.02" fill="#4a0f05"/>
<rect x="480.09" y="375.57" width="15.75" height="2.02" fill="#290a05"/>
<rect x="480.09" y="377.53" width="15.75" height="2.02" fill="#7b584d"/>
<rect x="480.09" y="379.50" width="15.75" height="2.02" fill="#2d0c05"/>
<rect x="480.09" y="381.47" width="15.75" height="2.02" fill="#300d05"/>
<rect x="480.09" y="383.43" width="15.75" height="2.02" fill="#3f1205"/>
<rect x="480.09" y="385.40" width="15.75" height="2.02" fill="#1e0a05"/>
<rect x="480.09" y="387.37" width="15.75" height="2.02" fill="#1f0b05"/>
<rect x="480.09" y="389.33" width="15.75" height="2.02" fill="#632006"/>
<rect x="480.09" y="391.30" width="15.75" height="2.02" fill="#471b06"/>
<rect x="480.09" y="393.27" width="15.75" height="2.02" fill="#5d0606"/>
<rect x="480.09" y="395.23" width="15.75" height="2.02" fill="#291d06"/>
<rect x="480.09" y="397.20" width="15.75" height="2.02" fill="#7f0606"/>
<rect x="480.09" y="399.17" width="15.75" height="2.02" fill="#430706"/>
<rect x="480.09" y="401.13" width="15.75" height="2.02" fill="#092206"/>
<rect x="480.09" y="403.10" width="15.75" height="2.02" fill="#3e0706"/>
<rect x="480.09" y="405.07" width="15.75" height="2.02" fill="#390706"/>
<rect x="480.09" y="407.03" width="15.75" height="2.02" fill="#596040"/>
<rect x="480.09" y="409.00" width="15.75" height="2.02" fill="#280806"/>
<rect x="480.09" y="410.97" width="15.75" height="2.02" fill="#300806"/>
<rect x="480.09" y="412.93" width="15.75" height="2.02" fill="#210806"/>
<rect x="480.09" y="414.90" width="15.75" height="2.02" fill="#1e0806"/>
<rect x="480.09" y="416.87" width="15.75" height="2.02" fill="#330806"/>
<rect x="480.09" y="418.83" width="15.75" height="2.02" fill="#690806"/>
<rect x="480.09" y="420.80" width="15.75" height="2.02" fill="#097606"/>
<rect x="480.09" y="422.77" width="15.75" height="2.02" fill="#092806"/>
<rect x="480.09" y="424.73" width="15.75" height="2.02" fill="#240806"/>
<rect x="480.09" y="426.70" width="15.75" height="2.02" fill="#098906"/>
<rect x="480.09" y="428.67" width="15.75" height="2.02" fill="#761906"/>
<rect x="480.09" y="430.63" width="15.75" height="2.02" fill="#1b0806"/>
<rect x="480.09" y="432.60" width="15.75" height="2.02" fill="#0a6a06"/>
<rect x="480.09" y="434.57" width="15.75" height="2.02" fill="#8f0806"/>
<rect x="480.09" y="436.53" width="15.75" height="2.02" fill="#8a0806"/>
<rect x="480.09" y="438.50" width="15.75" height="2.02" fill="#0a8406"/>
<rect x="480.09" y="440.47" width="15.75" height="2.02" fill="#896e52"/>
<rect x="480.09" y="442.43" width="15.75" height="2.02" fill="#780807"/>
<rect x="480.09" y="444.40" width="15.75" height="2.02" fill="#7b7b58"/>
<rect x="480.09" y="446.37" width="15.75" height="2.02" fill="#0b6007"/>
<rect x="480.09" y="448.33" width="15.75" height="2.02" fill="#750807"/>
<rect x="480.09" y="450.30" width="15.75" height="2.02" fill="#380907"/>
<rect x="480.09" y="452.27" width="15.75" height="2.02" fill="#737b53"/>
<rect x="480.09" y="454.23" width="15.75" height="2.02" fill="#91865e"/>
<rect x="480.09" y="456.20" width="15.75" height="2.02" fill="#9e0908"/>
<rect x="480.09" y="458.17" width="15.75" height="2.02" fill="#780908"/>
<rect x="480.09" y="460.13" width="15.75" height="2.02" fill="#6f0908"/>
<rect x="480.09" y="462.10" width="15.75" height="2.02" fill="#381f08"/>
<rect x="480.09" y="464.07" width="15.75" height="2.02" fill="#0a5108"/>
<rect x="480.09" y="466.03" width="15.75" height="2.02" fill="#9a8a6f"/>
<rect x="480.09" y="468.00" width="15.75" height="2.02" fill="#7a7352"/>
<rect x="480.09" y="469.97" width="15.75" height="2.02" fill="#4e2808"/>
<rect x="480.09" y="471.93" width="15.75" height="2.02" fill="#152408"/>
<rect x="480.09" y="473.90" width="15.75" height="2.02" fill="#1f1408"/>
<rect x="480.09" y="475.87" width="15.75" height="2.02" fill="#091908"/>
<rect x="480.09" y="477.83" width="15.75" height="2.02" fill="#0f2008"/>
<rect x="480.09" y="479.80" width="15.75" height="2.02" fill="#095508"/>
<rect x="480.09" y="481.77" width="15.75" height="2.02" fill="#290808"/>
<rect x="480.09" y="483.73" width="15.75" height="2.02" fill="#2c0808"/>
<rect x="480.09" y="485.70" width="15.75" height="2.02" fill="#180908"/>
<rect x="480.09" y="487.67" width="15.75" height="2.02" fill="#570808"/>
<rect x="480.09" y="489.63" width="15.75" height="2.02" fill="#530808"/>
<rect x="480.09" y="491.60" width="15.75" height="2.02" fill="#5d0808"/>
<rect x="480.09" y="493.57" width="15.75" height="2.02" fill="#440808"/>
<rect x="480.09" y="495.53" width="15.75" height="4.02" fill="#470808"/>
<rect x="495.80" y="330.30" width="17.75" height="4.02" fill="#200103"/>
<rect x="495.80" y="334.27" width="17.75" height="2.02" fill="#290103"/>
<rect x="495.80" y="336.23" width="17.75" height="2.02" fill="#640103"/>
<rect x="495.80" y="338.20" width="17.75" height="2.02" fill="#310103"/>
<rect x="495.80" y="340.17" width="17.75" height="2.02" fill="#330103"/>
<rect x="495.80" y="342.13" width="17.75" height="2.02" fill="#230103"/>
<rect x="495.80" y="344.10" width="17.75" height="2.02" fill="#420103"/>
<rect x="495.80" y="346.07" width="17.75" height="2.02" fill="#560103"/>
<rect x="495.80" y="348.03" width="17.75" height="2.02" fill="#360103"/>
<rect x="495.80" y="350.00" width="17.75" height="2.02" fill="#4d0103"/>
<rect x="495.80" y="351.97" width="17.75" height="2.02" fill="#3e0103"/>
<rect x="495.80" y="353.93" width="17.75" height="2.02" fill="#290103"/>
<rect x="495.80" y="355.90" width="17.75" height="2.02" fill="#1a0103"/>
<rect x="495.80" y="357.87" width="17.75" height="2.02" fill="#220203"/>
<rect x="495.80" y="359.83" width="17.75" height="2.02" fill="#320403"/>
<rect x="495.80" y="361.80" width="17.75" height="2.02" fill="#190304"/>
<rect x="495.80" y="363.77" width="17.75" height="2.02" fill="#290604"/>
<rect x="495.80" y="365.73" width="17.75" height="2.02" fill="#1d0604"/>
<rect x="495.80" y="367.70" width="17.75" height="2.02" fill="#280904"/>
<rect x="495.80" y="369.67" width="17.75" height="2.02" fill="#3a0e04"/>
<rect x="495.80" y="371.63" width="17.75" height="2.02" fill="#330f04"/>
<rect x="495.80" y="373.60" width="17.75" height="2.02" fill="#280c04"/>
<rect x="495.80" y="375.57" width="17.75" height="2.02" fill="#230b04"/>
<rect x="495.80" y="377.53" width="17.75" height="2.02" fill="#170704"/>
<rect x="495.80" y="379.50" width="17.75" height="2.02" fill="#250a04"/>
<rect x="495.80" y="381.47" width="17.75" height="2.02" fill="#320d04"/>
<rect x="495.80" y="383.43" width="17.75" height="2.02" fill="#1e0804"/>
<rect x="495.80" y="385.40" width="17.75" height="2.02" fill="#160604"/>
<rect x="495.80" y="387.37" width="17.75" height="2.02" fill="#110504"/>
<rect x="495.80" y="389.33" width="17.75" height="2.02" fill="#110504"/>
<rect x="495.80" y="391.30" width="17.75" height="2.02" fill="#2d0f04"/>
<rect x="495.80" y="393.27" width="17.75" height="2.02" fill="#063304"/>
<rect x="495.80" y="395.23" width="17.75" height="2.02" fill="#0a2404"/>
<rect x="495.80" y="397.20" width="17.75" height="2.02" fill="#2f0505"/>
<rect x="495.80" y="399.17" width="17.75" height="2.02" fill="#500505"/>
<rect x="495.80" y="401.13" width="17.75" height="2.02" fill="#0a1605"/>
<rect x="495.80" y="403.10" width="17.75" height="2.02" fill="#074b05"/>
<rect x="495.80" y="405.07" width="17.75" height="2.02" fill="#074005"/>
<rect x="495.80" y="407.03" width="17.75" height="2.02" fill="#072d06"/>
<rect x="495.80" y="409.00" width="17.75" height="2.02" fill="#592006"/>
<rect x="495.80" y="410.97" width="17.75" height="2.02" fill="#570806"/>
<rect x="495.80" y="412.93" width="17.75" height="2.02" fill="#210806"/>
<rect x="495.80" y="414.90" width="17.75" height="2.02" fill="#072906"/>
<rect x="495.80" y="416.87" width="17.75" height="2.02" fill="#065706"/>
<rect x="495.80" y="418.83" width="17.75" height="2.02" fill="#1b0906"/>
<rect x="495.80" y="420.80" width="17.75" height="2.02" fill="#150906"/>
<rect x="495.80" y="422.77" width="17.75" height="2.02" fill="#064306"/>
<rect x="495.80" y="424.73" width="17.75" height="2.02" fill="#065e06"/>
<rect x="495.80" y="426.70" width="17.75" height="2.02" fill="#064d06"/>
<rect x="495.80" y="428.67" width="17.75" height="2.02" fill="#062606"/>
<rect x="495.80" y="430.63" width="17.75" height="2.02" fill="#0f1e06"/>
<rect x="495.80" y="432.60" width="17.75" height="2.02" fill="#096006"/>
<rect x="495.80" y="434.57" width="17.75" height="2.02" fill="#076106"/>
<rect x="495.80" y="436.53" width="17.75" height="2.02" fill="#091306"/>
<rect x="495.80" y="438.50" width="17.75" height="2.02" fill="#0b1a06"/>
<rect x="495.80" y="440.47" width="17.75" height="2.02" fill="#123c06"/>
<rect x="495.80" y="442.43" width="17.75" height="2.02" fill="#092206"/>
<rect x="495.80" y="444.40" width="17.75" height="2.02" fill="#667851"/>
<rect x="495.80" y="446.37" width="17.75" height="2.02" fill="#107807"/>
<rect x="495.80" y="448.33" width="17.75" height="2.02" fill="#072707"/>
<rect x="495.80" y="450.30" width="17.75" height="2.02" fill="#084208"/>
<rect x="495.80" y="452.27" width="17.75" height="2.02" fill="#527c48"/>
<rect x="495.80" y="454.23" width="17.75" height="2.02" fill="#699c55"/>
<rect x="495.80" y="456.20" width="17.75" height="2.02" fill="#07a709"/>
<rect x="495.80" y="458.17" width="17.75" height="2.02" fill="#089709"/>
<rect x="495.80" y="460.13" width="17.75" height="2.02" fill="#5e7c49"/>
<rect x="495.80" y="462.10" width="17.75" height="2.02" fill="#6f8f55"/>
<rect x="495.80" y="464.07" width="17.75" height="2.02" fill="#0b5d0a"/>
<rect x="495.80" y="466.03" width="17.75" height="2.02" fill="#0a3d0a"/>
<rect x="495.80" y="468.00" width="17.75" height="2.02" fill="#5c874f"/>
<rect x="495.80" y="469.97" width="17.75" height="2.02" fill="#94bb73"/>
<rect x="495.80" y="471.93" width="17.75" height="2.02" fill="#14840b"/>
<rect x="495.80" y="473.90" width="17.75" height="2.02" fill="#157f0b"/>
<rect x="495.80" y="475.87" width="17.75" height="2.02" fill="#1a930b"/>
<rect x="495.80" y="477.83" width="17.75" height="2.02" fill="#5e914f"/>
<rect x="495.80" y="479.80" width="17.75" height="2.02" fill="#1d870c"/>
<rect x="495.80" y="481.77" width="17.75" height="2.02" fill="#14450c"/>
<rect x="495.80" y="483.73" width="17.75" height="2.02" fill="#8ea371"/>
<rect x="495.80" y="485.70" width="17.75" height="2.02" fill="#779d69"/>
<rect x="495.80" y="487.67" width="17.75" height="2.02" fill="#226a0d"/>
<rect x="495.80" y="489.63" width="17.75" height="2.02" fill="#637f53"/>
<rect x="495.80" y="491.60" width="17.75" height="2.02" fill="#1a4a0d"/>
<rect x="495.80" y="493.57" width="17.75" height="2.02" fill="#758e5a"/>
<rect x="495.80" y="495.53" width="17.75" height="4.02" fill="#29830d"/>
</g></g>
</svg></body></html>
